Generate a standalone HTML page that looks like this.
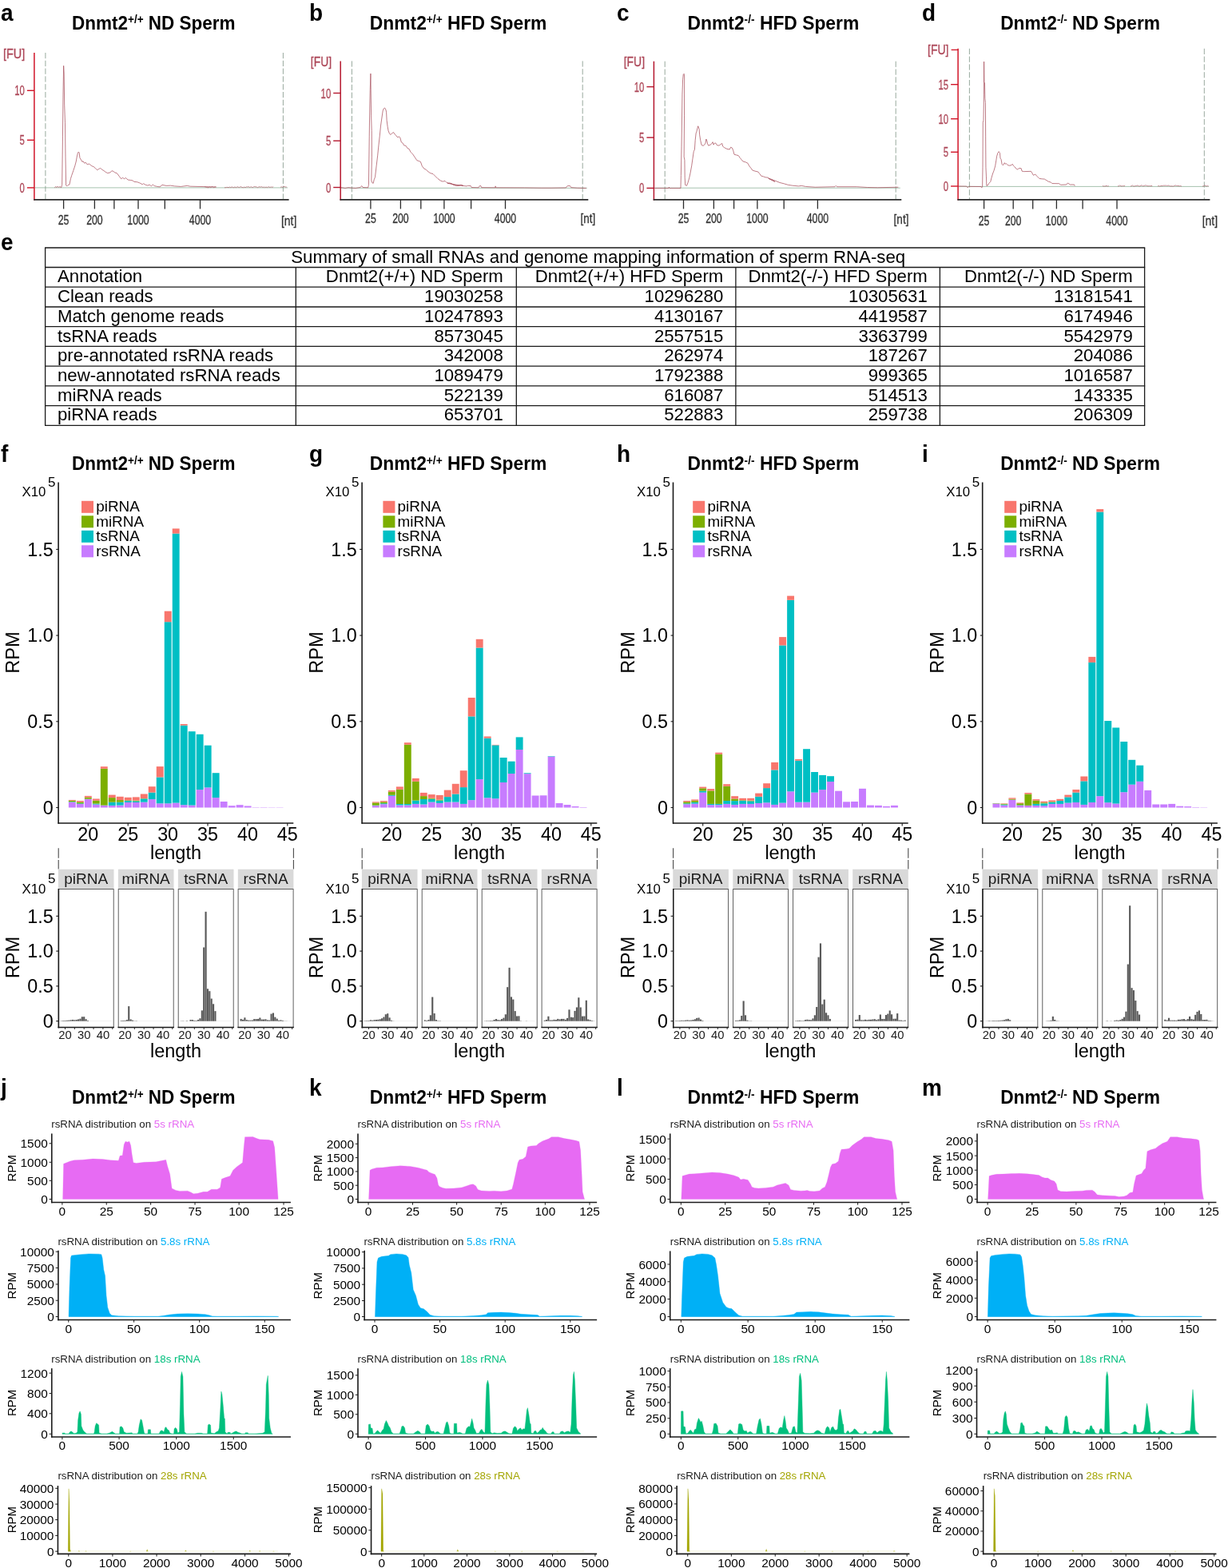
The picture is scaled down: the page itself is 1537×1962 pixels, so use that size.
<!DOCTYPE html>
<html lang="en"><head><meta charset="utf-8"><title>Sperm small RNA figure</title>
<style>
html,body{margin:0;padding:0;background:#fff;}
body{width:1537px;height:1962px;overflow:hidden;}
svg{display:block;font-family:"Liberation Sans", sans-serif;}
</style></head><body>
<svg width="1537" height="1962" viewBox="0 0 1537 1962">
<g>
<text transform="matrix(1 0 0 1.08 0 -2.08)" x="1" y="26" font-size="28" font-weight="bold">a</text>
<text transform="matrix(1 0 0 1.07 0 -2.56)" x="192.3" y="36.6" font-size="22.5" font-weight="bold" text-anchor="middle">Dnmt2<tspan font-size="13.5" dy="-7">+/+</tspan><tspan dy="7"> ND Sperm</tspan></text>
<line x1="56.9" y1="66" x2="56.9" y2="249.8" stroke="#7d9384" stroke-width="0.8" stroke-dasharray="7.2 2.6"/>
<line x1="354.4" y1="66" x2="354.4" y2="249.8" stroke="#7d9384" stroke-width="0.8" stroke-dasharray="7.2 2.6"/>
<line x1="42.9" y1="234.9" x2="360.1" y2="234.9" stroke="#7fa88d" stroke-width="0.7"/>
<polyline points="68.31,234.8 69.62,233.62 70.92,234.4 72.22,233.36 73.52,234.4 74.82,233.62 76.77,234.53 77.68,231.28 78.46,170.12 78.99,118.07 79.64,82.29 80.16,92.05 80.68,131.09 81.46,153.21 81.98,196.15 82.63,231.93 83.93,232.84 85.23,231.54 86.92,231.02 88.48,223.47 89.79,219.31 91.74,213.72 93.69,207.86 95.25,202 96.29,196.15 97.33,191.59 98.24,190.03 99.15,190.94 99.93,197.45 101.5,200.05 102.8,202.39 104.1,201.74 105.66,204.22 107.35,203.31 109.3,205.91 111.26,205 113.21,206.3 115.16,207.86 117.11,208.51 119.06,210.2 121.67,212.8 123.62,211.5 125.57,210.46 127.52,212.02 130.12,213.72 132.73,215.67 134.68,216.58 137.93,215.93 139.88,213.72 141.83,214.37 143.79,215.93 146.39,216.71 148.99,220.22 151.59,223.73 153.55,222.43 155.5,223.73 157.45,222.56 160.05,225.04 163.31,225.43 165.91,225.82 167.86,227.38 171.76,227.77 174.37,228.68 178.27,230.76 179.57,229.72 182.17,231.28 184.78,232.06 187.38,231.28 189.33,232.84 191.28,231.02 193.23,232.58 196.49,233.36 200,233.88 202.99,231.36 208.2,232.4 213.4,232.14 218.61,232.92 226.42,233.44 234.22,232.4 238.13,233.18 270.66,233.96" fill="none" stroke="#a8505e" stroke-width="0.75" stroke-linejoin="round"/>
<polyline points="256,233.5 257.3,234 258.6,234.4 259.9,234.7 261.2,234.7 262.5,233.8 263.8,234.7 265.1,233.5 266.4,233.8 267.7,234.7 269,233.8 270.3,234" fill="none" stroke="#b0606c" stroke-width="0.7"/>
<polyline points="281,234.7 282.3,234.7 283.6,234.4 284.9,234.4 286.2,234.7 287.5,234 288.8,234.7 290.1,233.8 291.4,234.4 292.7,234.7 294,233.8 295.3,234.7 296.6,234 297.9,233.8 299.2,234.7 300.5,233.8 301.8,233.8 303.1,234.4 304.4,234.7 305.7,234 307,234.7 308.3,233.8 309.6,234 310.9,233.5 312.2,234.4 313.5,234 314.8,233.8 316.1,234.7 317.4,233.8 318.7,233.5 320,233.8 321.3,234 322.6,234.7 323.9,233.8 325.2,233.8 326.5,234 327.8,233.5 329.1,234.7 330.4,233.8 331.7,234.7 333,233.8 334.3,234.7 335.6,233.8 336.9,234 338.2,234.4 339.5,233.8 340.8,234.4 342.1,233.5" fill="none" stroke="#b0606c" stroke-width="0.7"/>
<polyline points="351,234.4 352.3,233.8 353.6,234.4 354.9,233.5 356.2,233.5 357.5,234 358.8,234" fill="none" stroke="#b0606c" stroke-width="0.7"/>
<line x1="42.9" y1="66" x2="42.9" y2="250.6" stroke="#D11427" stroke-width="1.5"/>
<line x1="42.2" y1="249.8" x2="361.6" y2="249.8" stroke="#2b2b2b" stroke-width="1.7"/>
<line x1="33.9" y1="234.9" x2="42.9" y2="234.9" stroke="#D11427" stroke-width="1.4"/>
<text x="30.9" y="240.9" font-size="16.6" text-anchor="end" fill="#ad4758" textLength="6.3" lengthAdjust="spacingAndGlyphs" stroke="#ad4758" stroke-width="0.3">0</text>
<line x1="33.9" y1="175.3" x2="42.9" y2="175.3" stroke="#D11427" stroke-width="1.4"/>
<text x="30.9" y="181.3" font-size="16.6" text-anchor="end" fill="#ad4758" textLength="6.3" lengthAdjust="spacingAndGlyphs" stroke="#ad4758" stroke-width="0.3">5</text>
<line x1="33.9" y1="113.3" x2="42.9" y2="113.3" stroke="#D11427" stroke-width="1.4"/>
<text x="30.9" y="119.3" font-size="16.6" text-anchor="end" fill="#ad4758" textLength="12.6" lengthAdjust="spacingAndGlyphs" stroke="#ad4758" stroke-width="0.3">10</text>
<text x="3.9" y="73.4" font-size="16.8" fill="#ad4758" textLength="27.3" lengthAdjust="spacingAndGlyphs" stroke="#ad4758" stroke-width="0.3">[FU]</text>
<line x1="79.6" y1="249.8" x2="79.6" y2="261.4" stroke="#2b2b2b" stroke-width="1.3"/>
<text x="79.6" y="281.4" font-size="15.8" text-anchor="middle" fill="#333" textLength="13.7" lengthAdjust="spacingAndGlyphs" stroke="#333" stroke-width="0.3">25</text>
<line x1="118.4" y1="249.8" x2="118.4" y2="261.4" stroke="#2b2b2b" stroke-width="1.3"/>
<text x="118.4" y="281.4" font-size="15.8" text-anchor="middle" fill="#333" textLength="20.55" lengthAdjust="spacingAndGlyphs" stroke="#333" stroke-width="0.3">200</text>
<line x1="142.9" y1="249.8" x2="142.9" y2="261.4" stroke="#2b2b2b" stroke-width="1.3"/>
<line x1="173" y1="249.8" x2="173" y2="261.4" stroke="#2b2b2b" stroke-width="1.3"/>
<text x="173" y="281.4" font-size="15.8" text-anchor="middle" fill="#333" textLength="27.4" lengthAdjust="spacingAndGlyphs" stroke="#333" stroke-width="0.3">1000</text>
<line x1="206.3" y1="249.8" x2="206.3" y2="261.4" stroke="#2b2b2b" stroke-width="1.3"/>
<line x1="250.5" y1="249.8" x2="250.5" y2="261.4" stroke="#2b2b2b" stroke-width="1.3"/>
<text x="250.5" y="281.4" font-size="15.8" text-anchor="middle" fill="#333" textLength="27.4" lengthAdjust="spacingAndGlyphs" stroke="#333" stroke-width="0.3">4000</text>
<text x="352" y="281.7" font-size="15.8" fill="#333" textLength="19.3" lengthAdjust="spacingAndGlyphs" stroke="#333" stroke-width="0.3">[nt]</text>
</g>
<g>
<text transform="matrix(1 0 0 1.08 0 -2.08)" x="387" y="26" font-size="28" font-weight="bold">b</text>
<text transform="matrix(1 0 0 1.07 0 -2.56)" x="573.6" y="36.6" font-size="22.85" font-weight="bold" text-anchor="middle">Dnmt2<tspan font-size="13.71" dy="-7">+/+</tspan><tspan dy="7"> HFD Sperm</tspan></text>
<line x1="440.4" y1="76.4" x2="440.4" y2="249.8" stroke="#7d9384" stroke-width="0.8" stroke-dasharray="7.2 2.6"/>
<line x1="729.2" y1="76.4" x2="729.2" y2="249.8" stroke="#7d9384" stroke-width="0.8" stroke-dasharray="7.2 2.6"/>
<line x1="426.2" y1="235.3" x2="734.8" y2="235.3" stroke="#7fa88d" stroke-width="0.7"/>
<polyline points="426.84,234.53 432.05,235.45 435.95,234.66 441.16,235.19 445.06,235.45 450.92,234.53 452.87,232.58 454.17,234.53 460.68,234.8 461.46,231.28 462.24,170.12 462.76,134.99 463.28,112.87 463.93,92.05 464.19,112.87 464.58,144.1 465.23,163.62 465.36,196.15 464.84,226.08 465.88,228.68 467.18,229.33 468.22,224.78 469.53,221.52 471.09,207.86 472.65,194.85 473.95,181.83 475.25,170.12 476.55,157.11 477.85,148 479.15,138.89 480.2,136.03 481.5,134.99 482.8,136.94 483.58,140.2 484.1,150.61 485.14,158.41 486.05,163.62 487.35,166.87 488.65,168.56 490.61,166.87 492.56,165.57 494.25,168.17 495.81,169.47 497.76,172.08 499.06,170.77 500.75,172.08 502.32,177.93 504.27,179.23 505.57,181.83 508.17,182.49 510.12,185.74 512.08,186.39 514.03,190.29 516.63,192.9 519.23,196.8 521.83,200.7 524.44,201.61 526.39,202.39 528.34,207.86 530.94,211.11 533.55,212.41 536.15,215.02 538.75,216.71 542,217.62 545.26,220.87 547.86,223.47 551.76,226.34 554.37,227.12 556.97,226.34 558.92,228.42 561.52,229.33 564.12,229.72 567.38,231.28 569.98,231.93 573.88,232.32 577.14,231.54 580,232.58 560,229.33 562.6,228.94 565.2,229.72 567.81,231.28 571.71,232.32 576.92,231.54 580.82,232.58 584.07,232.97 585.37,232.32 589.28,232.58 590.19,234.53 599.04,234.8 600.34,232.58 601.9,232.58 602.68,234.66 619.86,234.8 620.12,232.84 620.64,234.8 656.29,234.93 677.11,235.19 690.12,235.19 708.34,234.93 710.29,232.58 713.55,232.58 714.85,234.66 722.65,235.19 733.72,235.45" fill="none" stroke="#a8505e" stroke-width="0.75" stroke-linejoin="round"/>
<line x1="426.2" y1="76.4" x2="426.2" y2="250.6" stroke="#B5172E" stroke-width="1.5"/>
<line x1="425.5" y1="249.8" x2="736.3" y2="249.8" stroke="#2b2b2b" stroke-width="1.7"/>
<line x1="417.2" y1="234.5" x2="426.2" y2="234.5" stroke="#B5172E" stroke-width="1.4"/>
<text x="414.2" y="240.5" font-size="16.6" text-anchor="end" fill="#ad4758" textLength="6.3" lengthAdjust="spacingAndGlyphs" stroke="#ad4758" stroke-width="0.3">0</text>
<line x1="417.2" y1="176.2" x2="426.2" y2="176.2" stroke="#B5172E" stroke-width="1.4"/>
<text x="414.2" y="182.2" font-size="16.6" text-anchor="end" fill="#ad4758" textLength="6.3" lengthAdjust="spacingAndGlyphs" stroke="#ad4758" stroke-width="0.3">5</text>
<line x1="417.2" y1="116.5" x2="426.2" y2="116.5" stroke="#B5172E" stroke-width="1.4"/>
<text x="414.2" y="122.5" font-size="16.6" text-anchor="end" fill="#ad4758" textLength="12.6" lengthAdjust="spacingAndGlyphs" stroke="#ad4758" stroke-width="0.3">10</text>
<text x="388.8" y="83" font-size="16.8" fill="#ad4758" textLength="26.3" lengthAdjust="spacingAndGlyphs" stroke="#ad4758" stroke-width="0.3">[FU]</text>
<line x1="463.9" y1="249.8" x2="463.9" y2="261.4" stroke="#2b2b2b" stroke-width="1.3"/>
<text x="463.9" y="278.8" font-size="15.8" text-anchor="middle" fill="#333" textLength="13.7" lengthAdjust="spacingAndGlyphs" stroke="#333" stroke-width="0.3">25</text>
<line x1="501.4" y1="249.8" x2="501.4" y2="261.4" stroke="#2b2b2b" stroke-width="1.3"/>
<text x="501.4" y="278.8" font-size="15.8" text-anchor="middle" fill="#333" textLength="20.55" lengthAdjust="spacingAndGlyphs" stroke="#333" stroke-width="0.3">200</text>
<line x1="526.8" y1="249.8" x2="526.8" y2="261.4" stroke="#2b2b2b" stroke-width="1.3"/>
<line x1="555.9" y1="249.8" x2="555.9" y2="261.4" stroke="#2b2b2b" stroke-width="1.3"/>
<text x="555.9" y="278.8" font-size="15.8" text-anchor="middle" fill="#333" textLength="27.4" lengthAdjust="spacingAndGlyphs" stroke="#333" stroke-width="0.3">1000</text>
<line x1="589.6" y1="249.8" x2="589.6" y2="261.4" stroke="#2b2b2b" stroke-width="1.3"/>
<line x1="632.5" y1="249.8" x2="632.5" y2="261.4" stroke="#2b2b2b" stroke-width="1.3"/>
<text x="632.5" y="278.8" font-size="15.8" text-anchor="middle" fill="#333" textLength="27.4" lengthAdjust="spacingAndGlyphs" stroke="#333" stroke-width="0.3">4000</text>
<text x="726.6" y="279.1" font-size="15.8" fill="#333" textLength="18.6" lengthAdjust="spacingAndGlyphs" stroke="#333" stroke-width="0.3">[nt]</text>
</g>
<g>
<text transform="matrix(1 0 0 1.08 0 -2.08)" x="772" y="26" font-size="28" font-weight="bold">c</text>
<text transform="matrix(1 0 0 1.07 0 -2.56)" x="967.9" y="36.6" font-size="22.85" font-weight="bold" text-anchor="middle">Dnmt2<tspan font-size="13.71" dy="-7">-/-</tspan><tspan dy="7"> HFD Sperm</tspan></text>
<line x1="832.2" y1="76.7" x2="832.2" y2="249.8" stroke="#7d9384" stroke-width="0.8" stroke-dasharray="7.2 2.6"/>
<line x1="1121.2" y1="76.7" x2="1121.2" y2="249.8" stroke="#7d9384" stroke-width="0.8" stroke-dasharray="7.2 2.6"/>
<line x1="818.4" y1="235.2" x2="1126.8" y2="235.2" stroke="#7fa88d" stroke-width="0.7"/>
<polyline points="819.45,235.45 837.01,235.45 837.4,234.14 837.92,235.45 851.98,235.45 852.37,219.57 853.02,183.14 853.93,118.07 854.58,99.86 855.23,93.35 856.14,92.31 856.66,95.95 856.53,144.1 856.14,196.15 856.92,200.31 857.18,222.17 857.7,231.54 859.53,232.32 861.09,228.42 862.65,222.82 863.95,216.97 865.64,207.86 866.94,198.75 868.24,189.64 869.41,187.04 870.2,175.33 871.11,166.87 871.89,164.92 872.8,161.01 873.71,157.76 875.14,161.67 875.66,168.82 876.7,175.33 878,181.18 879.95,182.49 881.65,181.18 882.95,179.23 883.86,174.03 884.77,175.98 885.55,179.88 886.72,182.23 889.06,181.18 891.01,179.49 892.06,177.67 893.1,181.18 894.27,179.23 895.7,178.97 897.52,181.83 900.12,182.09 902.08,180.53 903.77,179.49 904.68,183.14 906.63,184.7 909.88,186.39 913.14,187.04 914.7,184.18 916.39,185.09 917.69,188.34 918.99,193.29 921.59,193.94 924.2,194.59 926.15,197.45 928.1,199.79 930.05,202 933.31,202.91 935.91,204.22 937.86,207.86 939.81,210.2 941.76,213.06 945.02,214.11 948.92,215.02 950.87,217.62 952.82,220.22 955.43,220.87 958.03,221.91 961.28,222.17 963.23,223.73 965.84,225.04 970,227.38 961.69,223.29 965.6,224.33 968.2,225.37 972.1,226.94 976.01,228.5 981.21,229.8 986.42,231.36 991.62,232.14 999.43,232.92 1003.33,232.4 1008.54,233.44 1020.25,234.22 1044.97,233.7 1046.27,232.4 1047.57,233.7 1072.3,233.7 1085.31,234.48 1098.32,234.74 1124.35,234.22" fill="none" stroke="#a8505e" stroke-width="0.75" stroke-linejoin="round"/>
<line x1="818.4" y1="76.7" x2="818.4" y2="250.6" stroke="#B5172E" stroke-width="1.5"/>
<line x1="817.7" y1="249.8" x2="1128.3" y2="249.8" stroke="#2b2b2b" stroke-width="1.7"/>
<line x1="809.4" y1="235.4" x2="818.4" y2="235.4" stroke="#B5172E" stroke-width="1.4"/>
<text x="806.4" y="241.4" font-size="16.6" text-anchor="end" fill="#ad4758" textLength="6.3" lengthAdjust="spacingAndGlyphs" stroke="#ad4758" stroke-width="0.3">0</text>
<line x1="809.4" y1="172.1" x2="818.4" y2="172.1" stroke="#B5172E" stroke-width="1.4"/>
<text x="806.4" y="178.1" font-size="16.6" text-anchor="end" fill="#ad4758" textLength="6.3" lengthAdjust="spacingAndGlyphs" stroke="#ad4758" stroke-width="0.3">5</text>
<line x1="809.4" y1="108.6" x2="818.4" y2="108.6" stroke="#B5172E" stroke-width="1.4"/>
<text x="806.4" y="114.6" font-size="16.6" text-anchor="end" fill="#ad4758" textLength="12.6" lengthAdjust="spacingAndGlyphs" stroke="#ad4758" stroke-width="0.3">10</text>
<text x="780.7" y="83" font-size="16.8" fill="#ad4758" textLength="26.4" lengthAdjust="spacingAndGlyphs" stroke="#ad4758" stroke-width="0.3">[FU]</text>
<line x1="855.5" y1="249.8" x2="855.5" y2="261.4" stroke="#2b2b2b" stroke-width="1.3"/>
<text x="855.5" y="279.2" font-size="15.8" text-anchor="middle" fill="#333" textLength="13.7" lengthAdjust="spacingAndGlyphs" stroke="#333" stroke-width="0.3">25</text>
<line x1="893.4" y1="249.8" x2="893.4" y2="261.4" stroke="#2b2b2b" stroke-width="1.3"/>
<text x="893.4" y="279.2" font-size="15.8" text-anchor="middle" fill="#333" textLength="20.55" lengthAdjust="spacingAndGlyphs" stroke="#333" stroke-width="0.3">200</text>
<line x1="918.6" y1="249.8" x2="918.6" y2="261.4" stroke="#2b2b2b" stroke-width="1.3"/>
<line x1="947.9" y1="249.8" x2="947.9" y2="261.4" stroke="#2b2b2b" stroke-width="1.3"/>
<text x="947.9" y="279.2" font-size="15.8" text-anchor="middle" fill="#333" textLength="27.4" lengthAdjust="spacingAndGlyphs" stroke="#333" stroke-width="0.3">1000</text>
<line x1="981.2" y1="249.8" x2="981.2" y2="261.4" stroke="#2b2b2b" stroke-width="1.3"/>
<line x1="1023.4" y1="249.8" x2="1023.4" y2="261.4" stroke="#2b2b2b" stroke-width="1.3"/>
<text x="1023.4" y="279.2" font-size="15.8" text-anchor="middle" fill="#333" textLength="27.4" lengthAdjust="spacingAndGlyphs" stroke="#333" stroke-width="0.3">4000</text>
<text x="1118.6" y="279.5" font-size="15.8" fill="#333" textLength="18.8" lengthAdjust="spacingAndGlyphs" stroke="#333" stroke-width="0.3">[nt]</text>
</g>
<g>
<text transform="matrix(1 0 0 1.08 0 -2.08)" x="1154" y="26" font-size="28" font-weight="bold">d</text>
<text transform="matrix(1 0 0 1.07 0 -2.56)" x="1352.1" y="36.6" font-size="22.75" font-weight="bold" text-anchor="middle">Dnmt2<tspan font-size="13.65" dy="-7">-/-</tspan><tspan dy="7"> ND Sperm</tspan></text>
<line x1="1213.4" y1="60.8" x2="1213.4" y2="249.8" stroke="#7d9384" stroke-width="0.8" stroke-dasharray="7.2 2.6"/>
<line x1="1507.3" y1="60.8" x2="1507.3" y2="249.8" stroke="#7d9384" stroke-width="0.8" stroke-dasharray="7.2 2.6"/>
<line x1="1199.1" y1="233.4" x2="1512.9" y2="233.4" stroke="#7fa88d" stroke-width="0.7"/>
<polyline points="1199.45,232.97 1209.86,233.1 1211.16,234.8 1212.46,233.36 1228.07,233.49 1228.85,234.8 1229.64,233.23 1230.03,209.16 1230.29,153.21 1230.94,150.61 1231.46,118.07 1231.59,77.09 1231.85,102.46 1232.5,103.76 1232.89,123.28 1233.41,128.48 1233.67,170.12 1233.93,209.16 1234.45,220.87 1234.84,232.32 1236.14,232.06 1237.83,229.33 1239.79,227.38 1241.09,222.17 1242.65,216.97 1243.95,213.72 1245.64,207.86 1246.94,200.05 1247.59,195.5 1248.89,191.59 1250.2,189.64 1251.5,191.59 1252.02,198.1 1253.06,199.4 1254.1,205.52 1255.4,206.82 1257.35,203.7 1258.26,205.26 1259.3,204.61 1261.26,206.56 1263.21,207.21 1265.81,206.82 1267.11,205.26 1268.41,207.21 1269.71,208.51 1272.32,211.5 1273.62,212.02 1275.57,210.46 1278.17,210.72 1279.08,214.11 1281.42,214.63 1290.53,214.37 1292.09,216.97 1293.4,219.31 1295.74,218.01 1297.69,220.22 1300.94,223.47 1304.2,223.86 1307.45,224.12 1310.05,225.82 1312.65,227.38 1315.26,228.03 1316.82,229.59 1325.67,229.72 1327.62,231.28 1334.78,231.02 1336.34,229.07 1338.03,229.98 1339.33,231.02 1344.53,231.02 1345.19,232.58" fill="none" stroke="#a8505e" stroke-width="0.75" stroke-linejoin="round"/>
<polyline points="1380,232.3 1381.3,233.2 1382.6,232.9 1383.9,232.9 1385.2,232.3 1386.5,233.2 1387.8,232.5" fill="none" stroke="#b0606c" stroke-width="0.7"/>
<polyline points="1399,232.9 1400.3,232.9 1401.6,232 1402.9,232.5 1404.2,233.2 1405.5,232.3 1406.8,232.9 1408.1,232" fill="none" stroke="#b0606c" stroke-width="0.7"/>
<polyline points="1415,233.2 1416.3,232.5 1417.6,232 1418.9,233.2 1420.2,232.9 1421.5,232.5 1422.8,232.3 1424.1,232 1425.4,232.9 1426.7,232.9 1428,232 1429.3,232 1430.6,232.9 1431.9,232.5 1433.2,232 1434.5,232 1435.8,232.5 1437.1,232.9 1438.4,232.5 1439.7,232.9 1441,232.3 1442.3,232.9" fill="none" stroke="#b0606c" stroke-width="0.7"/>
<polyline points="1449,233.2 1450.3,232.3 1451.6,233.2 1452.9,232.5 1454.2,232.5 1455.5,232.5 1456.8,232 1458.1,232.3 1459.4,232 1460.7,232.5 1462,232 1463.3,232.3 1464.6,232.9 1465.9,232.9 1467.2,232.9 1468.5,233.2 1469.8,232.3 1471.1,232 1472.4,232.3 1473.7,232.5 1475,232.5 1476.3,232.9 1477.6,232.5 1478.9,233.2" fill="none" stroke="#b0606c" stroke-width="0.7"/>
<polyline points="1505,233.2 1506.3,232.9 1507.6,232 1508.9,232.3 1510.2,233.2 1511.5,232.3 1512.8,233.2" fill="none" stroke="#b0606c" stroke-width="0.7"/>
<line x1="1199.1" y1="60.8" x2="1199.1" y2="250.6" stroke="#D11427" stroke-width="1.5"/>
<line x1="1198.4" y1="249.8" x2="1514.4" y2="249.8" stroke="#2b2b2b" stroke-width="1.7"/>
<line x1="1190.6" y1="62.4" x2="1199.1" y2="62.4" stroke="#D11427" stroke-width="1.3"/>
<line x1="1190.1" y1="233" x2="1199.1" y2="233" stroke="#D11427" stroke-width="1.4"/>
<text x="1187.1" y="239" font-size="16.6" text-anchor="end" fill="#ad4758" textLength="6.3" lengthAdjust="spacingAndGlyphs" stroke="#ad4758" stroke-width="0.3">0</text>
<line x1="1190.1" y1="190.3" x2="1199.1" y2="190.3" stroke="#D11427" stroke-width="1.4"/>
<text x="1187.1" y="196.3" font-size="16.6" text-anchor="end" fill="#ad4758" textLength="6.3" lengthAdjust="spacingAndGlyphs" stroke="#ad4758" stroke-width="0.3">5</text>
<line x1="1190.1" y1="148.7" x2="1199.1" y2="148.7" stroke="#D11427" stroke-width="1.4"/>
<text x="1187.1" y="154.7" font-size="16.6" text-anchor="end" fill="#ad4758" textLength="12.6" lengthAdjust="spacingAndGlyphs" stroke="#ad4758" stroke-width="0.3">10</text>
<line x1="1190.1" y1="105.7" x2="1199.1" y2="105.7" stroke="#D11427" stroke-width="1.4"/>
<text x="1187.1" y="111.7" font-size="16.6" text-anchor="end" fill="#ad4758" textLength="12.6" lengthAdjust="spacingAndGlyphs" stroke="#ad4758" stroke-width="0.3">15</text>
<text x="1161" y="67.6" font-size="16.8" fill="#ad4758" textLength="26.5" lengthAdjust="spacingAndGlyphs" stroke="#ad4758" stroke-width="0.3">[FU]</text>
<line x1="1231.6" y1="249.8" x2="1231.6" y2="261.4" stroke="#2b2b2b" stroke-width="1.3"/>
<text x="1231.6" y="282" font-size="15.8" text-anchor="middle" fill="#333" textLength="13.7" lengthAdjust="spacingAndGlyphs" stroke="#333" stroke-width="0.3">25</text>
<line x1="1268.2" y1="249.8" x2="1268.2" y2="261.4" stroke="#2b2b2b" stroke-width="1.3"/>
<text x="1268.2" y="282" font-size="15.8" text-anchor="middle" fill="#333" textLength="20.55" lengthAdjust="spacingAndGlyphs" stroke="#333" stroke-width="0.3">200</text>
<line x1="1292.7" y1="249.8" x2="1292.7" y2="261.4" stroke="#2b2b2b" stroke-width="1.3"/>
<line x1="1322.4" y1="249.8" x2="1322.4" y2="261.4" stroke="#2b2b2b" stroke-width="1.3"/>
<text x="1322.4" y="282" font-size="15.8" text-anchor="middle" fill="#333" textLength="27.4" lengthAdjust="spacingAndGlyphs" stroke="#333" stroke-width="0.3">1000</text>
<line x1="1355.1" y1="249.8" x2="1355.1" y2="261.4" stroke="#2b2b2b" stroke-width="1.3"/>
<line x1="1398" y1="249.8" x2="1398" y2="261.4" stroke="#2b2b2b" stroke-width="1.3"/>
<text x="1398" y="282" font-size="15.8" text-anchor="middle" fill="#333" textLength="27.4" lengthAdjust="spacingAndGlyphs" stroke="#333" stroke-width="0.3">4000</text>
<text x="1504.7" y="282.3" font-size="15.8" fill="#333" textLength="19.3" lengthAdjust="spacingAndGlyphs" stroke="#333" stroke-width="0.3">[nt]</text>
</g>
<g>
<text transform="matrix(1 0 0 1.08 0 -25.04)" x="1" y="313" font-size="28" font-weight="bold">e</text>
<line x1="56" y1="310" x2="1433.2" y2="310" stroke="#1a1a1a" stroke-width="1.3"/>
<line x1="56" y1="334.5" x2="1433.2" y2="334.5" stroke="#1a1a1a" stroke-width="1.3"/>
<line x1="56" y1="359.2" x2="1433.2" y2="359.2" stroke="#1a1a1a" stroke-width="1.3"/>
<line x1="56" y1="384" x2="1433.2" y2="384" stroke="#1a1a1a" stroke-width="1.3"/>
<line x1="56" y1="408.7" x2="1433.2" y2="408.7" stroke="#1a1a1a" stroke-width="1.3"/>
<line x1="56" y1="433.4" x2="1433.2" y2="433.4" stroke="#1a1a1a" stroke-width="1.3"/>
<line x1="56" y1="458.1" x2="1433.2" y2="458.1" stroke="#1a1a1a" stroke-width="1.3"/>
<line x1="56" y1="482.9" x2="1433.2" y2="482.9" stroke="#1a1a1a" stroke-width="1.3"/>
<line x1="56" y1="507.6" x2="1433.2" y2="507.6" stroke="#1a1a1a" stroke-width="1.3"/>
<line x1="56" y1="532.3" x2="1433.2" y2="532.3" stroke="#1a1a1a" stroke-width="1.3"/>
<line x1="56.6" y1="310" x2="56.6" y2="532.3" stroke="#1a1a1a" stroke-width="1.3"/>
<line x1="370.3" y1="334.5" x2="370.3" y2="532.3" stroke="#1a1a1a" stroke-width="1.3"/>
<line x1="646.3" y1="334.5" x2="646.3" y2="532.3" stroke="#1a1a1a" stroke-width="1.3"/>
<line x1="920.9" y1="334.5" x2="920.9" y2="532.3" stroke="#1a1a1a" stroke-width="1.3"/>
<line x1="1176.4" y1="334.5" x2="1176.4" y2="532.3" stroke="#1a1a1a" stroke-width="1.3"/>
<line x1="1432.6" y1="310" x2="1432.6" y2="532.3" stroke="#1a1a1a" stroke-width="1.3"/>
<text x="364.2" y="328.9" font-size="22.2" textLength="769" lengthAdjust="spacingAndGlyphs">Summary of small RNAs and genome mapping information of sperm RNA-seq</text>
<text x="72" y="353.3" font-size="22.2">Annotation</text>
<text x="629.8" y="353.3" font-size="22.2" text-anchor="end">Dnmt2(+/+) ND Sperm</text>
<text x="905.3" y="353.3" font-size="22.2" text-anchor="end">Dnmt2(+/+) HFD Sperm</text>
<text x="1160.8" y="353.3" font-size="22.2" text-anchor="end">Dnmt2(-/-) HFD Sperm</text>
<text x="1417.8" y="353.3" font-size="22.2" text-anchor="end">Dnmt2(-/-) ND Sperm</text>
<text x="72" y="378" font-size="22.2">Clean reads</text>
<text x="629.8" y="378" font-size="22.2" text-anchor="end">19030258</text>
<text x="905.3" y="378" font-size="22.2" text-anchor="end">10296280</text>
<text x="1160.8" y="378" font-size="22.2" text-anchor="end">10305631</text>
<text x="1417.8" y="378" font-size="22.2" text-anchor="end">13181541</text>
<text x="72" y="402.8" font-size="22.2">Match genome reads</text>
<text x="629.8" y="402.8" font-size="22.2" text-anchor="end">10247893</text>
<text x="905.3" y="402.8" font-size="22.2" text-anchor="end">4130167</text>
<text x="1160.8" y="402.8" font-size="22.2" text-anchor="end">4419587</text>
<text x="1417.8" y="402.8" font-size="22.2" text-anchor="end">6174946</text>
<text x="72" y="427.5" font-size="22.2">tsRNA reads</text>
<text x="629.8" y="427.5" font-size="22.2" text-anchor="end">8573045</text>
<text x="905.3" y="427.5" font-size="22.2" text-anchor="end">2557515</text>
<text x="1160.8" y="427.5" font-size="22.2" text-anchor="end">3363799</text>
<text x="1417.8" y="427.5" font-size="22.2" text-anchor="end">5542979</text>
<text x="72" y="452.2" font-size="22.2">pre-annotated rsRNA reads</text>
<text x="629.8" y="452.2" font-size="22.2" text-anchor="end">342008</text>
<text x="905.3" y="452.2" font-size="22.2" text-anchor="end">262974</text>
<text x="1160.8" y="452.2" font-size="22.2" text-anchor="end">187267</text>
<text x="1417.8" y="452.2" font-size="22.2" text-anchor="end">204086</text>
<text x="72" y="476.9" font-size="22.2">new-annotated rsRNA reads</text>
<text x="629.8" y="476.9" font-size="22.2" text-anchor="end">1089479</text>
<text x="905.3" y="476.9" font-size="22.2" text-anchor="end">1792388</text>
<text x="1160.8" y="476.9" font-size="22.2" text-anchor="end">999365</text>
<text x="1417.8" y="476.9" font-size="22.2" text-anchor="end">1016587</text>
<text x="72" y="501.7" font-size="22.2">miRNA reads</text>
<text x="629.8" y="501.7" font-size="22.2" text-anchor="end">522139</text>
<text x="905.3" y="501.7" font-size="22.2" text-anchor="end">616087</text>
<text x="1160.8" y="501.7" font-size="22.2" text-anchor="end">514513</text>
<text x="1417.8" y="501.7" font-size="22.2" text-anchor="end">143335</text>
<text x="72" y="526.4" font-size="22.2">piRNA reads</text>
<text x="629.8" y="526.4" font-size="22.2" text-anchor="end">653701</text>
<text x="905.3" y="526.4" font-size="22.2" text-anchor="end">522883</text>
<text x="1160.8" y="526.4" font-size="22.2" text-anchor="end">259738</text>
<text x="1417.8" y="526.4" font-size="22.2" text-anchor="end">206309</text>
</g>
<g>
<text transform="matrix(1 0 0 1.08 0 -46.21)" x="1" y="577.6" font-size="28" font-weight="bold">f</text>
<text transform="matrix(1 0 0 1.07 0 -41.16)" x="192.3" y="588" font-size="22.5" font-weight="bold" text-anchor="middle">Dnmt2<tspan font-size="13.5" dy="-7">+/+</tspan><tspan dy="7"> ND Sperm</tspan></text>
<line x1="73.1" y1="603.4" x2="73.1" y2="1030.8" stroke="#1a1a1a" stroke-width="1.6"/>
<line x1="72.6" y1="1030" x2="367.3" y2="1030" stroke="#1a1a1a" stroke-width="1.7"/>
<line x1="70.2" y1="1010.5" x2="73.4" y2="1010.5" stroke="#1a1a1a" stroke-width="1.1"/>
<text x="66.6" y="1018.7" font-size="23.3" text-anchor="end">0</text>
<line x1="70.2" y1="902.8" x2="73.4" y2="902.8" stroke="#1a1a1a" stroke-width="1.1"/>
<text x="66.6" y="911" font-size="23.3" text-anchor="end">0.5</text>
<line x1="70.2" y1="795.1" x2="73.4" y2="795.1" stroke="#1a1a1a" stroke-width="1.1"/>
<text x="66.6" y="803.3" font-size="23.3" text-anchor="end">1.0</text>
<line x1="70.2" y1="687.4" x2="73.4" y2="687.4" stroke="#1a1a1a" stroke-width="1.1"/>
<text x="66.6" y="695.6" font-size="23.3" text-anchor="end">1.5</text>
<line x1="110.3" y1="1030" x2="110.3" y2="1033.4" stroke="#1a1a1a" stroke-width="1.1"/>
<text x="110.3" y="1051.6" font-size="23.3" text-anchor="middle">20</text>
<line x1="160.2" y1="1030" x2="160.2" y2="1033.4" stroke="#1a1a1a" stroke-width="1.1"/>
<text x="160.2" y="1051.6" font-size="23.3" text-anchor="middle">25</text>
<line x1="210.1" y1="1030" x2="210.1" y2="1033.4" stroke="#1a1a1a" stroke-width="1.1"/>
<text x="210.1" y="1051.6" font-size="23.3" text-anchor="middle">30</text>
<line x1="260" y1="1030" x2="260" y2="1033.4" stroke="#1a1a1a" stroke-width="1.1"/>
<text x="260" y="1051.6" font-size="23.3" text-anchor="middle">35</text>
<line x1="309.9" y1="1030" x2="309.9" y2="1033.4" stroke="#1a1a1a" stroke-width="1.1"/>
<text x="309.9" y="1051.6" font-size="23.3" text-anchor="middle">40</text>
<line x1="359.8" y1="1030" x2="359.8" y2="1033.4" stroke="#1a1a1a" stroke-width="1.1"/>
<text x="359.8" y="1051.6" font-size="23.3" text-anchor="middle">45</text>
<text x="220" y="1074.6" font-size="23.5" text-anchor="middle">length</text>
<text x="24.3" y="816.5" font-size="23.6" text-anchor="middle" transform="rotate(-90 24.3 816.5)">RPM</text>
<text x="27.6" y="620.8" font-size="16.8">X10</text>
<text x="60.1" y="608.9" font-size="17">5</text>
<rect x="102" y="626.8" width="15" height="15" fill="#F8766D"/>
<text x="120.2" y="640" font-size="18.9">piRNA</text>
<rect x="102" y="645.3" width="15" height="15" fill="#7CAE00"/>
<text x="120.2" y="658.5" font-size="18.9">miRNA</text>
<rect x="102" y="663.8" width="15" height="15" fill="#00BFC4"/>
<text x="120.2" y="677" font-size="18.9">tsRNA</text>
<rect x="102" y="682.3" width="15" height="15" fill="#C77CFF"/>
<text x="120.2" y="695.5" font-size="18.9">rsRNA</text>
<rect x="85.87" y="1003.7" width="8.9" height="6.8" fill="#C77CFF"/>
<rect x="85.87" y="1003.2" width="8.9" height="0.5" fill="#00BFC4"/>
<rect x="85.87" y="1001.7" width="8.9" height="1.5" fill="#7CAE00"/>
<rect x="85.87" y="1000.9" width="8.9" height="0.8" fill="#F8766D"/>
<rect x="95.86" y="1006" width="8.9" height="4.5" fill="#C77CFF"/>
<rect x="95.86" y="1005.3" width="8.9" height="0.7" fill="#00BFC4"/>
<rect x="95.86" y="1003.5" width="8.9" height="1.8" fill="#7CAE00"/>
<rect x="95.86" y="1002" width="8.9" height="1.5" fill="#F8766D"/>
<rect x="105.85" y="999.7" width="8.9" height="10.8" fill="#C77CFF"/>
<rect x="105.85" y="997.7" width="8.9" height="2" fill="#7CAE00"/>
<rect x="105.85" y="995.9" width="8.9" height="1.8" fill="#F8766D"/>
<rect x="115.84" y="1006.6" width="8.9" height="3.9" fill="#C77CFF"/>
<rect x="115.84" y="1005.6" width="8.9" height="1" fill="#00BFC4"/>
<rect x="115.84" y="1001.7" width="8.9" height="3.9" fill="#7CAE00"/>
<rect x="115.84" y="999.5" width="8.9" height="2.2" fill="#F8766D"/>
<rect x="125.83" y="1007.9" width="8.9" height="2.6" fill="#C77CFF"/>
<rect x="125.83" y="1007.6" width="8.9" height="0.3" fill="#00BFC4"/>
<rect x="125.83" y="961.8" width="8.9" height="45.8" fill="#7CAE00"/>
<rect x="125.83" y="959.2" width="8.9" height="2.6" fill="#F8766D"/>
<rect x="135.82" y="1007.9" width="8.9" height="2.6" fill="#C77CFF"/>
<rect x="135.82" y="1003.7" width="8.9" height="4.2" fill="#00BFC4"/>
<rect x="135.82" y="998.1" width="8.9" height="5.6" fill="#7CAE00"/>
<rect x="135.82" y="994.6" width="8.9" height="3.5" fill="#F8766D"/>
<rect x="145.81" y="1007.6" width="8.9" height="2.9" fill="#C77CFF"/>
<rect x="145.81" y="1003.7" width="8.9" height="3.9" fill="#00BFC4"/>
<rect x="145.81" y="1001.1" width="8.9" height="2.6" fill="#7CAE00"/>
<rect x="145.81" y="996.8" width="8.9" height="4.3" fill="#F8766D"/>
<rect x="155.8" y="1004" width="8.9" height="6.5" fill="#C77CFF"/>
<rect x="155.8" y="1002" width="8.9" height="2" fill="#00BFC4"/>
<rect x="155.8" y="1001.4" width="8.9" height="0.6" fill="#7CAE00"/>
<rect x="155.8" y="997.8" width="8.9" height="3.6" fill="#F8766D"/>
<rect x="165.79" y="1004" width="8.9" height="6.5" fill="#C77CFF"/>
<rect x="165.79" y="1002.4" width="8.9" height="1.6" fill="#00BFC4"/>
<rect x="165.79" y="1001.6" width="8.9" height="0.8" fill="#7CAE00"/>
<rect x="165.79" y="997.4" width="8.9" height="4.2" fill="#F8766D"/>
<rect x="175.78" y="1003.7" width="8.9" height="6.8" fill="#C77CFF"/>
<rect x="175.78" y="999.4" width="8.9" height="4.3" fill="#00BFC4"/>
<rect x="175.78" y="999.1" width="8.9" height="0.3" fill="#7CAE00"/>
<rect x="175.78" y="993.5" width="8.9" height="5.6" fill="#F8766D"/>
<rect x="185.77" y="1000.1" width="8.9" height="10.4" fill="#C77CFF"/>
<rect x="185.77" y="991.6" width="8.9" height="8.5" fill="#00BFC4"/>
<rect x="185.77" y="984.2" width="8.9" height="7.4" fill="#F8766D"/>
<rect x="195.76" y="1005.3" width="8.9" height="5.2" fill="#C77CFF"/>
<rect x="195.76" y="972.5" width="8.9" height="32.8" fill="#00BFC4"/>
<rect x="195.76" y="959.1" width="8.9" height="13.4" fill="#F8766D"/>
<rect x="205.75" y="1005.3" width="8.9" height="5.2" fill="#C77CFF"/>
<rect x="205.75" y="778.2" width="8.9" height="227.1" fill="#00BFC4"/>
<rect x="205.75" y="764.7" width="8.9" height="13.5" fill="#F8766D"/>
<rect x="215.74" y="1004.6" width="8.9" height="5.9" fill="#C77CFF"/>
<rect x="215.74" y="667.6" width="8.9" height="337" fill="#00BFC4"/>
<rect x="215.74" y="661.4" width="8.9" height="6.2" fill="#F8766D"/>
<rect x="225.73" y="1007.2" width="8.9" height="3.3" fill="#C77CFF"/>
<rect x="225.73" y="907.7" width="8.9" height="99.5" fill="#00BFC4"/>
<rect x="225.73" y="906" width="8.9" height="1.7" fill="#F8766D"/>
<rect x="235.72" y="1007.6" width="8.9" height="2.9" fill="#C77CFF"/>
<rect x="235.72" y="915.2" width="8.9" height="92.4" fill="#00BFC4"/>
<rect x="245.71" y="988.1" width="8.9" height="22.4" fill="#C77CFF"/>
<rect x="245.71" y="918.8" width="8.9" height="69.3" fill="#00BFC4"/>
<rect x="255.7" y="985.4" width="8.9" height="25.1" fill="#C77CFF"/>
<rect x="255.7" y="932.7" width="8.9" height="52.7" fill="#00BFC4"/>
<rect x="265.69" y="998.1" width="8.9" height="12.4" fill="#C77CFF"/>
<rect x="265.69" y="967.2" width="8.9" height="30.9" fill="#00BFC4"/>
<rect x="275.68" y="1003" width="8.9" height="7.5" fill="#C77CFF"/>
<rect x="285.67" y="1008.2" width="8.9" height="2.3" fill="#C77CFF"/>
<rect x="295.66" y="1007.2" width="8.9" height="3.3" fill="#C77CFF"/>
<rect x="305.65" y="1008.5" width="8.9" height="2" fill="#C77CFF"/>
<rect x="315.64" y="1010.1" width="8.9" height="0.4" fill="#C77CFF"/>
<rect x="325.63" y="1010.1" width="8.9" height="0.4" fill="#C77CFF"/>
<rect x="335.62" y="1010.2" width="8.9" height="0.3" fill="#C77CFF"/>
<rect x="345.61" y="1010.2" width="8.9" height="0.3" fill="#C77CFF"/>
<line x1="73.2" y1="1061.3" x2="73.2" y2="1087.6" stroke="#4a4a4a" stroke-width="1.1" stroke-dasharray="12.4 2.2"/>
<line x1="367.4" y1="1061.3" x2="367.4" y2="1087.6" stroke="#4a4a4a" stroke-width="1.1" stroke-dasharray="12.4 2.2"/>
<rect x="72.9" y="1087.7" width="69.6" height="25" fill="#D9D9D9"/>
<text x="107.7" y="1106.3" font-size="19" text-anchor="middle" fill="#1a1a1a">piRNA</text>
<rect x="73.2" y="1112.6" width="69" height="173" fill="none" stroke="#4d4d4d" stroke-width="0.9"/>
<line x1="72.5" y1="1285.4" x2="142.9" y2="1285.4" stroke="#1a1a1a" stroke-width="1.5"/>
<line x1="81.5" y1="1285.4" x2="81.5" y2="1288" stroke="#1a1a1a" stroke-width="0.9"/>
<text x="81.5" y="1300" font-size="14.8" text-anchor="middle" fill="#1a1a1a">20</text>
<line x1="93.35" y1="1285.4" x2="93.35" y2="1288" stroke="#1a1a1a" stroke-width="0.9"/>
<line x1="105.2" y1="1285.4" x2="105.2" y2="1288" stroke="#1a1a1a" stroke-width="0.9"/>
<text x="105.2" y="1300" font-size="14.8" text-anchor="middle" fill="#1a1a1a">30</text>
<line x1="117.05" y1="1285.4" x2="117.05" y2="1288" stroke="#1a1a1a" stroke-width="0.9"/>
<line x1="128.9" y1="1285.4" x2="128.9" y2="1288" stroke="#1a1a1a" stroke-width="0.9"/>
<text x="128.9" y="1300" font-size="14.8" text-anchor="middle" fill="#1a1a1a">40</text>
<line x1="140.75" y1="1285.4" x2="140.75" y2="1288" stroke="#1a1a1a" stroke-width="0.9"/>
<line x1="75.9" y1="1277.6" x2="139.5" y2="1277.6" stroke="#e3e3e3" stroke-width="0.5"/>
<rect x="75.69" y="1277.38" width="2.14" height="0.32" fill="#595959"/>
<rect x="78.06" y="1277.09" width="2.14" height="0.61" fill="#595959"/>
<rect x="80.43" y="1276.97" width="2.14" height="0.73" fill="#595959"/>
<rect x="82.8" y="1276.81" width="2.14" height="0.89" fill="#595959"/>
<rect x="85.17" y="1276.64" width="2.14" height="1.06" fill="#595959"/>
<rect x="87.54" y="1276.28" width="2.14" height="1.42" fill="#595959"/>
<rect x="89.91" y="1275.95" width="2.14" height="1.75" fill="#595959"/>
<rect x="92.28" y="1276.24" width="2.14" height="1.46" fill="#595959"/>
<rect x="94.65" y="1275.99" width="2.14" height="1.71" fill="#595959"/>
<rect x="97.02" y="1275.43" width="2.14" height="2.27" fill="#595959"/>
<rect x="99.39" y="1274.69" width="2.14" height="3.01" fill="#595959"/>
<rect x="101.76" y="1272.26" width="2.14" height="5.44" fill="#595959"/>
<rect x="104.13" y="1272.22" width="2.14" height="5.48" fill="#595959"/>
<rect x="106.5" y="1275.18" width="2.14" height="2.52" fill="#595959"/>
<rect x="108.87" y="1277.01" width="2.14" height="0.69" fill="#595959"/>
<rect x="147.9" y="1087.7" width="69.6" height="25" fill="#D9D9D9"/>
<text x="182.7" y="1106.3" font-size="19" text-anchor="middle" fill="#1a1a1a">miRNA</text>
<rect x="148.2" y="1112.6" width="69" height="173" fill="none" stroke="#4d4d4d" stroke-width="0.9"/>
<line x1="147.5" y1="1285.4" x2="217.9" y2="1285.4" stroke="#1a1a1a" stroke-width="1.5"/>
<line x1="156.5" y1="1285.4" x2="156.5" y2="1288" stroke="#1a1a1a" stroke-width="0.9"/>
<text x="156.5" y="1300" font-size="14.8" text-anchor="middle" fill="#1a1a1a">20</text>
<line x1="168.35" y1="1285.4" x2="168.35" y2="1288" stroke="#1a1a1a" stroke-width="0.9"/>
<line x1="180.2" y1="1285.4" x2="180.2" y2="1288" stroke="#1a1a1a" stroke-width="0.9"/>
<text x="180.2" y="1300" font-size="14.8" text-anchor="middle" fill="#1a1a1a">30</text>
<line x1="192.05" y1="1285.4" x2="192.05" y2="1288" stroke="#1a1a1a" stroke-width="0.9"/>
<line x1="203.9" y1="1285.4" x2="203.9" y2="1288" stroke="#1a1a1a" stroke-width="0.9"/>
<text x="203.9" y="1300" font-size="14.8" text-anchor="middle" fill="#1a1a1a">40</text>
<line x1="215.75" y1="1285.4" x2="215.75" y2="1288" stroke="#1a1a1a" stroke-width="0.9"/>
<line x1="150.9" y1="1277.6" x2="214.5" y2="1277.6" stroke="#e3e3e3" stroke-width="0.5"/>
<rect x="150.69" y="1277.09" width="2.14" height="0.61" fill="#595959"/>
<rect x="153.06" y="1276.97" width="2.14" height="0.73" fill="#595959"/>
<rect x="155.43" y="1276.89" width="2.14" height="0.81" fill="#595959"/>
<rect x="157.8" y="1276.12" width="2.14" height="1.58" fill="#595959"/>
<rect x="160.17" y="1259.1" width="2.14" height="18.6" fill="#595959"/>
<rect x="162.54" y="1275.43" width="2.14" height="2.27" fill="#595959"/>
<rect x="164.91" y="1276.64" width="2.14" height="1.06" fill="#595959"/>
<rect x="167.28" y="1277.46" width="2.14" height="0.24" fill="#595959"/>
<rect x="169.65" y="1277.38" width="2.14" height="0.32" fill="#595959"/>
<rect x="222.9" y="1087.7" width="69.6" height="25" fill="#D9D9D9"/>
<text x="257.7" y="1106.3" font-size="19" text-anchor="middle" fill="#1a1a1a">tsRNA</text>
<rect x="223.2" y="1112.6" width="69" height="173" fill="none" stroke="#4d4d4d" stroke-width="0.9"/>
<line x1="222.5" y1="1285.4" x2="292.9" y2="1285.4" stroke="#1a1a1a" stroke-width="1.5"/>
<line x1="231.5" y1="1285.4" x2="231.5" y2="1288" stroke="#1a1a1a" stroke-width="0.9"/>
<text x="231.5" y="1300" font-size="14.8" text-anchor="middle" fill="#1a1a1a">20</text>
<line x1="243.35" y1="1285.4" x2="243.35" y2="1288" stroke="#1a1a1a" stroke-width="0.9"/>
<line x1="255.2" y1="1285.4" x2="255.2" y2="1288" stroke="#1a1a1a" stroke-width="0.9"/>
<text x="255.2" y="1300" font-size="14.8" text-anchor="middle" fill="#1a1a1a">30</text>
<line x1="267.05" y1="1285.4" x2="267.05" y2="1288" stroke="#1a1a1a" stroke-width="0.9"/>
<line x1="278.9" y1="1285.4" x2="278.9" y2="1288" stroke="#1a1a1a" stroke-width="0.9"/>
<text x="278.9" y="1300" font-size="14.8" text-anchor="middle" fill="#1a1a1a">40</text>
<line x1="290.75" y1="1285.4" x2="290.75" y2="1288" stroke="#1a1a1a" stroke-width="0.9"/>
<line x1="225.9" y1="1277.6" x2="289.5" y2="1277.6" stroke="#e3e3e3" stroke-width="0.5"/>
<rect x="225.69" y="1277.5" width="2.14" height="0.2" fill="#595959"/>
<rect x="228.06" y="1277.42" width="2.14" height="0.28" fill="#595959"/>
<rect x="232.8" y="1277.29" width="2.14" height="0.41" fill="#595959"/>
<rect x="237.54" y="1275.99" width="2.14" height="1.71" fill="#595959"/>
<rect x="239.91" y="1276.12" width="2.14" height="1.58" fill="#595959"/>
<rect x="242.28" y="1276.89" width="2.14" height="0.81" fill="#595959"/>
<rect x="244.65" y="1277.05" width="2.14" height="0.65" fill="#595959"/>
<rect x="247.02" y="1275.95" width="2.14" height="1.75" fill="#595959"/>
<rect x="249.39" y="1274.25" width="2.14" height="3.45" fill="#595959"/>
<rect x="251.76" y="1264.38" width="2.14" height="13.32" fill="#595959"/>
<rect x="254.13" y="1185.45" width="2.14" height="92.25" fill="#595959"/>
<rect x="256.5" y="1140.8" width="2.14" height="136.9" fill="#595959"/>
<rect x="258.87" y="1237.28" width="2.14" height="40.42" fill="#595959"/>
<rect x="261.24" y="1240.17" width="2.14" height="37.53" fill="#595959"/>
<rect x="263.61" y="1249.55" width="2.14" height="28.15" fill="#595959"/>
<rect x="265.98" y="1256.29" width="2.14" height="21.41" fill="#595959"/>
<rect x="268.35" y="1265.15" width="2.14" height="12.55" fill="#595959"/>
<rect x="297.8" y="1087.7" width="69.6" height="25" fill="#D9D9D9"/>
<text x="332.6" y="1106.3" font-size="19" text-anchor="middle" fill="#1a1a1a">rsRNA</text>
<rect x="298.1" y="1112.6" width="69" height="173" fill="none" stroke="#4d4d4d" stroke-width="0.9"/>
<line x1="297.4" y1="1285.4" x2="367.8" y2="1285.4" stroke="#1a1a1a" stroke-width="1.5"/>
<line x1="306.4" y1="1285.4" x2="306.4" y2="1288" stroke="#1a1a1a" stroke-width="0.9"/>
<text x="306.4" y="1300" font-size="14.8" text-anchor="middle" fill="#1a1a1a">20</text>
<line x1="318.25" y1="1285.4" x2="318.25" y2="1288" stroke="#1a1a1a" stroke-width="0.9"/>
<line x1="330.1" y1="1285.4" x2="330.1" y2="1288" stroke="#1a1a1a" stroke-width="0.9"/>
<text x="330.1" y="1300" font-size="14.8" text-anchor="middle" fill="#1a1a1a">30</text>
<line x1="341.95" y1="1285.4" x2="341.95" y2="1288" stroke="#1a1a1a" stroke-width="0.9"/>
<line x1="353.8" y1="1285.4" x2="353.8" y2="1288" stroke="#1a1a1a" stroke-width="0.9"/>
<text x="353.8" y="1300" font-size="14.8" text-anchor="middle" fill="#1a1a1a">40</text>
<line x1="365.65" y1="1285.4" x2="365.65" y2="1288" stroke="#1a1a1a" stroke-width="0.9"/>
<line x1="300.8" y1="1277.6" x2="364.4" y2="1277.6" stroke="#e3e3e3" stroke-width="0.5"/>
<rect x="300.59" y="1274.94" width="2.14" height="2.76" fill="#595959"/>
<rect x="302.96" y="1275.87" width="2.14" height="1.83" fill="#595959"/>
<rect x="305.33" y="1273.31" width="2.14" height="4.39" fill="#595959"/>
<rect x="307.7" y="1276.12" width="2.14" height="1.58" fill="#595959"/>
<rect x="310.07" y="1276.64" width="2.14" height="1.06" fill="#595959"/>
<rect x="312.44" y="1276.64" width="2.14" height="1.06" fill="#595959"/>
<rect x="314.81" y="1276.52" width="2.14" height="1.18" fill="#595959"/>
<rect x="317.18" y="1275.06" width="2.14" height="2.64" fill="#595959"/>
<rect x="319.55" y="1275.06" width="2.14" height="2.64" fill="#595959"/>
<rect x="321.92" y="1274.94" width="2.14" height="2.76" fill="#595959"/>
<rect x="324.29" y="1273.48" width="2.14" height="4.22" fill="#595959"/>
<rect x="326.66" y="1275.59" width="2.14" height="2.11" fill="#595959"/>
<rect x="329.03" y="1275.59" width="2.14" height="2.11" fill="#595959"/>
<rect x="331.4" y="1275.3" width="2.14" height="2.4" fill="#595959"/>
<rect x="333.77" y="1276.36" width="2.14" height="1.34" fill="#595959"/>
<rect x="336.14" y="1276.52" width="2.14" height="1.18" fill="#595959"/>
<rect x="338.51" y="1268.6" width="2.14" height="9.1" fill="#595959"/>
<rect x="340.88" y="1267.5" width="2.14" height="10.2" fill="#595959"/>
<rect x="343.25" y="1272.66" width="2.14" height="5.04" fill="#595959"/>
<rect x="345.62" y="1274.65" width="2.14" height="3.05" fill="#595959"/>
<rect x="347.99" y="1276.77" width="2.14" height="0.93" fill="#595959"/>
<rect x="350.36" y="1276.36" width="2.14" height="1.34" fill="#595959"/>
<rect x="352.73" y="1276.89" width="2.14" height="0.81" fill="#595959"/>
<rect x="355.1" y="1277.54" width="2.14" height="0.16" fill="#595959"/>
<rect x="357.47" y="1277.54" width="2.14" height="0.16" fill="#595959"/>
<line x1="73.4" y1="1112" x2="73.4" y2="1286.4" stroke="#1a1a1a" stroke-width="1.5"/>
<line x1="70.2" y1="1277.7" x2="73.4" y2="1277.7" stroke="#1a1a1a" stroke-width="1.1"/>
<text x="66.6" y="1285.9" font-size="23.3" text-anchor="end">0</text>
<line x1="70.2" y1="1233.9" x2="73.4" y2="1233.9" stroke="#1a1a1a" stroke-width="1.1"/>
<text x="66.6" y="1242.1" font-size="23.3" text-anchor="end">0.5</text>
<line x1="70.2" y1="1190.1" x2="73.4" y2="1190.1" stroke="#1a1a1a" stroke-width="1.1"/>
<text x="66.6" y="1198.3" font-size="23.3" text-anchor="end">1.0</text>
<line x1="70.2" y1="1146.3" x2="73.4" y2="1146.3" stroke="#1a1a1a" stroke-width="1.1"/>
<text x="66.6" y="1154.5" font-size="23.3" text-anchor="end">1.5</text>
<text x="220" y="1322.8" font-size="23.5" text-anchor="middle">length</text>
<text x="24.3" y="1198" font-size="23.6" text-anchor="middle" transform="rotate(-90 24.3 1198)">RPM</text>
<text x="27.6" y="1117.8" font-size="16.8">X10</text>
<text x="60.1" y="1105.4" font-size="17">5</text>
</g>
<g>
<text transform="matrix(1 0 0 1.08 0 -46.21)" x="387" y="577.6" font-size="28" font-weight="bold">g</text>
<text transform="matrix(1 0 0 1.07 0 -41.16)" x="573.6" y="588" font-size="22.85" font-weight="bold" text-anchor="middle">Dnmt2<tspan font-size="13.71" dy="-7">+/+</tspan><tspan dy="7"> HFD Sperm</tspan></text>
<line x1="453.1" y1="603.4" x2="453.1" y2="1030.8" stroke="#1a1a1a" stroke-width="1.6"/>
<line x1="452.6" y1="1030" x2="747.3" y2="1030" stroke="#1a1a1a" stroke-width="1.7"/>
<line x1="450.2" y1="1010.5" x2="453.4" y2="1010.5" stroke="#1a1a1a" stroke-width="1.1"/>
<text x="446.6" y="1018.7" font-size="23.3" text-anchor="end">0</text>
<line x1="450.2" y1="902.8" x2="453.4" y2="902.8" stroke="#1a1a1a" stroke-width="1.1"/>
<text x="446.6" y="911" font-size="23.3" text-anchor="end">0.5</text>
<line x1="450.2" y1="795.1" x2="453.4" y2="795.1" stroke="#1a1a1a" stroke-width="1.1"/>
<text x="446.6" y="803.3" font-size="23.3" text-anchor="end">1.0</text>
<line x1="450.2" y1="687.4" x2="453.4" y2="687.4" stroke="#1a1a1a" stroke-width="1.1"/>
<text x="446.6" y="695.6" font-size="23.3" text-anchor="end">1.5</text>
<line x1="490.3" y1="1030" x2="490.3" y2="1033.4" stroke="#1a1a1a" stroke-width="1.1"/>
<text x="490.3" y="1051.6" font-size="23.3" text-anchor="middle">20</text>
<line x1="540.2" y1="1030" x2="540.2" y2="1033.4" stroke="#1a1a1a" stroke-width="1.1"/>
<text x="540.2" y="1051.6" font-size="23.3" text-anchor="middle">25</text>
<line x1="590.1" y1="1030" x2="590.1" y2="1033.4" stroke="#1a1a1a" stroke-width="1.1"/>
<text x="590.1" y="1051.6" font-size="23.3" text-anchor="middle">30</text>
<line x1="640" y1="1030" x2="640" y2="1033.4" stroke="#1a1a1a" stroke-width="1.1"/>
<text x="640" y="1051.6" font-size="23.3" text-anchor="middle">35</text>
<line x1="689.9" y1="1030" x2="689.9" y2="1033.4" stroke="#1a1a1a" stroke-width="1.1"/>
<text x="689.9" y="1051.6" font-size="23.3" text-anchor="middle">40</text>
<line x1="739.8" y1="1030" x2="739.8" y2="1033.4" stroke="#1a1a1a" stroke-width="1.1"/>
<text x="739.8" y="1051.6" font-size="23.3" text-anchor="middle">45</text>
<text x="600" y="1074.6" font-size="23.5" text-anchor="middle">length</text>
<text x="404.3" y="816.5" font-size="23.6" text-anchor="middle" transform="rotate(-90 404.3 816.5)">RPM</text>
<text x="407.6" y="620.8" font-size="16.8">X10</text>
<text x="440.1" y="608.9" font-size="17">5</text>
<rect x="479.4" y="626.8" width="15" height="15" fill="#F8766D"/>
<text x="497.6" y="640" font-size="18.9">piRNA</text>
<rect x="479.4" y="645.3" width="15" height="15" fill="#7CAE00"/>
<text x="497.6" y="658.5" font-size="18.9">miRNA</text>
<rect x="479.4" y="663.8" width="15" height="15" fill="#00BFC4"/>
<text x="497.6" y="677" font-size="18.9">tsRNA</text>
<rect x="479.4" y="682.3" width="15" height="15" fill="#C77CFF"/>
<text x="497.6" y="695.5" font-size="18.9">rsRNA</text>
<rect x="465.87" y="1008.1" width="8.9" height="2.4" fill="#C77CFF"/>
<rect x="465.87" y="1007.6" width="8.9" height="0.5" fill="#00BFC4"/>
<rect x="465.87" y="1004.4" width="8.9" height="3.2" fill="#7CAE00"/>
<rect x="465.87" y="1003.4" width="8.9" height="1" fill="#F8766D"/>
<rect x="475.86" y="1006.2" width="8.9" height="4.3" fill="#C77CFF"/>
<rect x="475.86" y="1005.2" width="8.9" height="1" fill="#00BFC4"/>
<rect x="475.86" y="1003.4" width="8.9" height="1.8" fill="#7CAE00"/>
<rect x="475.86" y="1002.1" width="8.9" height="1.3" fill="#F8766D"/>
<rect x="485.85" y="995.8" width="8.9" height="14.7" fill="#C77CFF"/>
<rect x="485.85" y="994.8" width="8.9" height="1" fill="#00BFC4"/>
<rect x="485.85" y="990.6" width="8.9" height="4.2" fill="#7CAE00"/>
<rect x="485.85" y="989" width="8.9" height="1.6" fill="#F8766D"/>
<rect x="495.84" y="1007.5" width="8.9" height="3" fill="#C77CFF"/>
<rect x="495.84" y="1006" width="8.9" height="1.5" fill="#00BFC4"/>
<rect x="495.84" y="987.8" width="8.9" height="18.2" fill="#7CAE00"/>
<rect x="495.84" y="984.4" width="8.9" height="3.4" fill="#F8766D"/>
<rect x="505.83" y="1007.5" width="8.9" height="3" fill="#C77CFF"/>
<rect x="505.83" y="1006" width="8.9" height="1.5" fill="#00BFC4"/>
<rect x="505.83" y="931.8" width="8.9" height="74.2" fill="#7CAE00"/>
<rect x="505.83" y="929.2" width="8.9" height="2.6" fill="#F8766D"/>
<rect x="515.82" y="1005.9" width="8.9" height="4.6" fill="#C77CFF"/>
<rect x="515.82" y="1001.6" width="8.9" height="4.3" fill="#00BFC4"/>
<rect x="515.82" y="977.8" width="8.9" height="23.8" fill="#7CAE00"/>
<rect x="515.82" y="973.9" width="8.9" height="3.9" fill="#F8766D"/>
<rect x="525.81" y="1006.5" width="8.9" height="4" fill="#C77CFF"/>
<rect x="525.81" y="1000" width="8.9" height="6.5" fill="#00BFC4"/>
<rect x="525.81" y="996.1" width="8.9" height="3.9" fill="#7CAE00"/>
<rect x="525.81" y="991.9" width="8.9" height="4.2" fill="#F8766D"/>
<rect x="535.8" y="1003.6" width="8.9" height="6.9" fill="#C77CFF"/>
<rect x="535.8" y="999.7" width="8.9" height="3.9" fill="#00BFC4"/>
<rect x="535.8" y="998.7" width="8.9" height="1" fill="#7CAE00"/>
<rect x="535.8" y="994.1" width="8.9" height="4.6" fill="#F8766D"/>
<rect x="545.79" y="1004.9" width="8.9" height="5.6" fill="#C77CFF"/>
<rect x="545.79" y="1001.6" width="8.9" height="3.3" fill="#00BFC4"/>
<rect x="545.79" y="1000.7" width="8.9" height="0.9" fill="#7CAE00"/>
<rect x="545.79" y="994.9" width="8.9" height="5.8" fill="#F8766D"/>
<rect x="555.78" y="1003.6" width="8.9" height="6.9" fill="#C77CFF"/>
<rect x="555.78" y="997.1" width="8.9" height="6.5" fill="#00BFC4"/>
<rect x="555.78" y="988.6" width="8.9" height="8.5" fill="#F8766D"/>
<rect x="565.77" y="1003.6" width="8.9" height="6.9" fill="#C77CFF"/>
<rect x="565.77" y="993.5" width="8.9" height="10.1" fill="#00BFC4"/>
<rect x="565.77" y="980.8" width="8.9" height="12.7" fill="#F8766D"/>
<rect x="575.76" y="1005.9" width="8.9" height="4.6" fill="#C77CFF"/>
<rect x="575.76" y="985.1" width="8.9" height="20.8" fill="#00BFC4"/>
<rect x="575.76" y="964.2" width="8.9" height="20.9" fill="#F8766D"/>
<rect x="585.75" y="1001.1" width="8.9" height="9.4" fill="#C77CFF"/>
<rect x="585.75" y="896.4" width="8.9" height="104.7" fill="#00BFC4"/>
<rect x="585.75" y="873" width="8.9" height="23.4" fill="#F8766D"/>
<rect x="595.74" y="975.1" width="8.9" height="35.4" fill="#C77CFF"/>
<rect x="595.74" y="810.5" width="8.9" height="164.6" fill="#00BFC4"/>
<rect x="595.74" y="799.8" width="8.9" height="10.7" fill="#F8766D"/>
<rect x="605.73" y="998.3" width="8.9" height="12.2" fill="#C77CFF"/>
<rect x="605.73" y="923.7" width="8.9" height="74.6" fill="#00BFC4"/>
<rect x="605.73" y="921.5" width="8.9" height="2.2" fill="#F8766D"/>
<rect x="615.72" y="999.2" width="8.9" height="11.3" fill="#C77CFF"/>
<rect x="615.72" y="932.4" width="8.9" height="66.8" fill="#00BFC4"/>
<rect x="615.72" y="931.9" width="8.9" height="0.5" fill="#F8766D"/>
<rect x="625.71" y="979" width="8.9" height="31.5" fill="#C77CFF"/>
<rect x="625.71" y="948" width="8.9" height="31" fill="#00BFC4"/>
<rect x="635.7" y="968" width="8.9" height="42.5" fill="#C77CFF"/>
<rect x="635.7" y="952.7" width="8.9" height="15.3" fill="#00BFC4"/>
<rect x="645.69" y="938" width="8.9" height="72.5" fill="#C77CFF"/>
<rect x="645.69" y="922.4" width="8.9" height="15.6" fill="#00BFC4"/>
<rect x="655.68" y="968.1" width="8.9" height="42.4" fill="#C77CFF"/>
<rect x="655.68" y="967.3" width="8.9" height="0.8" fill="#00BFC4"/>
<rect x="665.67" y="995.5" width="8.9" height="15" fill="#C77CFF"/>
<rect x="675.66" y="995.3" width="8.9" height="15.2" fill="#C77CFF"/>
<rect x="685.65" y="946.6" width="8.9" height="63.9" fill="#C77CFF"/>
<rect x="685.65" y="946.1" width="8.9" height="0.5" fill="#00BFC4"/>
<rect x="695.64" y="1005" width="8.9" height="5.5" fill="#C77CFF"/>
<rect x="705.63" y="1007" width="8.9" height="3.5" fill="#C77CFF"/>
<rect x="715.62" y="1009" width="8.9" height="1.5" fill="#C77CFF"/>
<rect x="725.61" y="1010" width="8.9" height="0.5" fill="#C77CFF"/>
<line x1="453.2" y1="1061.3" x2="453.2" y2="1087.6" stroke="#4a4a4a" stroke-width="1.1" stroke-dasharray="12.4 2.2"/>
<line x1="747.4" y1="1061.3" x2="747.4" y2="1087.6" stroke="#4a4a4a" stroke-width="1.1" stroke-dasharray="12.4 2.2"/>
<rect x="452.9" y="1087.7" width="69.6" height="25" fill="#D9D9D9"/>
<text x="487.7" y="1106.3" font-size="19" text-anchor="middle" fill="#1a1a1a">piRNA</text>
<rect x="453.2" y="1112.6" width="69" height="173" fill="none" stroke="#4d4d4d" stroke-width="0.9"/>
<line x1="452.5" y1="1285.4" x2="522.9" y2="1285.4" stroke="#1a1a1a" stroke-width="1.5"/>
<line x1="461.5" y1="1285.4" x2="461.5" y2="1288" stroke="#1a1a1a" stroke-width="0.9"/>
<text x="461.5" y="1300" font-size="14.8" text-anchor="middle" fill="#1a1a1a">20</text>
<line x1="473.35" y1="1285.4" x2="473.35" y2="1288" stroke="#1a1a1a" stroke-width="0.9"/>
<line x1="485.2" y1="1285.4" x2="485.2" y2="1288" stroke="#1a1a1a" stroke-width="0.9"/>
<text x="485.2" y="1300" font-size="14.8" text-anchor="middle" fill="#1a1a1a">30</text>
<line x1="497.05" y1="1285.4" x2="497.05" y2="1288" stroke="#1a1a1a" stroke-width="0.9"/>
<line x1="508.9" y1="1285.4" x2="508.9" y2="1288" stroke="#1a1a1a" stroke-width="0.9"/>
<text x="508.9" y="1300" font-size="14.8" text-anchor="middle" fill="#1a1a1a">40</text>
<line x1="520.75" y1="1285.4" x2="520.75" y2="1288" stroke="#1a1a1a" stroke-width="0.9"/>
<line x1="455.9" y1="1277.6" x2="519.5" y2="1277.6" stroke="#e3e3e3" stroke-width="0.5"/>
<rect x="455.69" y="1277.29" width="2.14" height="0.41" fill="#595959"/>
<rect x="458.06" y="1277.17" width="2.14" height="0.53" fill="#595959"/>
<rect x="460.43" y="1277.05" width="2.14" height="0.65" fill="#595959"/>
<rect x="462.8" y="1276.32" width="2.14" height="1.38" fill="#595959"/>
<rect x="465.17" y="1276.64" width="2.14" height="1.06" fill="#595959"/>
<rect x="467.54" y="1276.12" width="2.14" height="1.58" fill="#595959"/>
<rect x="469.91" y="1275.99" width="2.14" height="1.71" fill="#595959"/>
<rect x="472.28" y="1275.83" width="2.14" height="1.87" fill="#595959"/>
<rect x="474.65" y="1275.34" width="2.14" height="2.36" fill="#595959"/>
<rect x="477.02" y="1274.25" width="2.14" height="3.45" fill="#595959"/>
<rect x="479.39" y="1272.54" width="2.14" height="5.16" fill="#595959"/>
<rect x="481.76" y="1269.21" width="2.14" height="8.49" fill="#595959"/>
<rect x="484.13" y="1268.19" width="2.14" height="9.51" fill="#595959"/>
<rect x="486.5" y="1273.35" width="2.14" height="4.35" fill="#595959"/>
<rect x="488.87" y="1276.81" width="2.14" height="0.89" fill="#595959"/>
<rect x="491.24" y="1277.5" width="2.14" height="0.2" fill="#595959"/>
<rect x="527.9" y="1087.7" width="69.6" height="25" fill="#D9D9D9"/>
<text x="562.7" y="1106.3" font-size="19" text-anchor="middle" fill="#1a1a1a">miRNA</text>
<rect x="528.2" y="1112.6" width="69" height="173" fill="none" stroke="#4d4d4d" stroke-width="0.9"/>
<line x1="527.5" y1="1285.4" x2="597.9" y2="1285.4" stroke="#1a1a1a" stroke-width="1.5"/>
<line x1="536.5" y1="1285.4" x2="536.5" y2="1288" stroke="#1a1a1a" stroke-width="0.9"/>
<text x="536.5" y="1300" font-size="14.8" text-anchor="middle" fill="#1a1a1a">20</text>
<line x1="548.35" y1="1285.4" x2="548.35" y2="1288" stroke="#1a1a1a" stroke-width="0.9"/>
<line x1="560.2" y1="1285.4" x2="560.2" y2="1288" stroke="#1a1a1a" stroke-width="0.9"/>
<text x="560.2" y="1300" font-size="14.8" text-anchor="middle" fill="#1a1a1a">30</text>
<line x1="572.05" y1="1285.4" x2="572.05" y2="1288" stroke="#1a1a1a" stroke-width="0.9"/>
<line x1="583.9" y1="1285.4" x2="583.9" y2="1288" stroke="#1a1a1a" stroke-width="0.9"/>
<text x="583.9" y="1300" font-size="14.8" text-anchor="middle" fill="#1a1a1a">40</text>
<line x1="595.75" y1="1285.4" x2="595.75" y2="1288" stroke="#1a1a1a" stroke-width="0.9"/>
<line x1="530.9" y1="1277.6" x2="594.5" y2="1277.6" stroke="#e3e3e3" stroke-width="0.5"/>
<rect x="530.69" y="1276.4" width="2.14" height="1.3" fill="#595959"/>
<rect x="533.06" y="1276.97" width="2.14" height="0.73" fill="#595959"/>
<rect x="535.43" y="1275.99" width="2.14" height="1.71" fill="#595959"/>
<rect x="537.8" y="1270.31" width="2.14" height="7.39" fill="#595959"/>
<rect x="540.17" y="1247.56" width="2.14" height="30.14" fill="#595959"/>
<rect x="542.54" y="1268.03" width="2.14" height="9.67" fill="#595959"/>
<rect x="544.91" y="1276.12" width="2.14" height="1.58" fill="#595959"/>
<rect x="547.28" y="1277.29" width="2.14" height="0.41" fill="#595959"/>
<rect x="549.65" y="1277.33" width="2.14" height="0.37" fill="#595959"/>
<rect x="602.9" y="1087.7" width="69.6" height="25" fill="#D9D9D9"/>
<text x="637.7" y="1106.3" font-size="19" text-anchor="middle" fill="#1a1a1a">tsRNA</text>
<rect x="603.2" y="1112.6" width="69" height="173" fill="none" stroke="#4d4d4d" stroke-width="0.9"/>
<line x1="602.5" y1="1285.4" x2="672.9" y2="1285.4" stroke="#1a1a1a" stroke-width="1.5"/>
<line x1="611.5" y1="1285.4" x2="611.5" y2="1288" stroke="#1a1a1a" stroke-width="0.9"/>
<text x="611.5" y="1300" font-size="14.8" text-anchor="middle" fill="#1a1a1a">20</text>
<line x1="623.35" y1="1285.4" x2="623.35" y2="1288" stroke="#1a1a1a" stroke-width="0.9"/>
<line x1="635.2" y1="1285.4" x2="635.2" y2="1288" stroke="#1a1a1a" stroke-width="0.9"/>
<text x="635.2" y="1300" font-size="14.8" text-anchor="middle" fill="#1a1a1a">30</text>
<line x1="647.05" y1="1285.4" x2="647.05" y2="1288" stroke="#1a1a1a" stroke-width="0.9"/>
<line x1="658.9" y1="1285.4" x2="658.9" y2="1288" stroke="#1a1a1a" stroke-width="0.9"/>
<text x="658.9" y="1300" font-size="14.8" text-anchor="middle" fill="#1a1a1a">40</text>
<line x1="670.75" y1="1285.4" x2="670.75" y2="1288" stroke="#1a1a1a" stroke-width="0.9"/>
<line x1="605.9" y1="1277.6" x2="669.5" y2="1277.6" stroke="#e3e3e3" stroke-width="0.5"/>
<rect x="605.69" y="1277.5" width="2.14" height="0.2" fill="#595959"/>
<rect x="608.06" y="1277.29" width="2.14" height="0.41" fill="#595959"/>
<rect x="610.43" y="1277.29" width="2.14" height="0.41" fill="#595959"/>
<rect x="612.8" y="1277.09" width="2.14" height="0.61" fill="#595959"/>
<rect x="615.17" y="1277.09" width="2.14" height="0.61" fill="#595959"/>
<rect x="617.54" y="1275.95" width="2.14" height="1.75" fill="#595959"/>
<rect x="619.91" y="1275.06" width="2.14" height="2.64" fill="#595959"/>
<rect x="622.28" y="1276.12" width="2.14" height="1.58" fill="#595959"/>
<rect x="624.65" y="1276.36" width="2.14" height="1.34" fill="#595959"/>
<rect x="627.02" y="1275.06" width="2.14" height="2.64" fill="#595959"/>
<rect x="629.39" y="1273.6" width="2.14" height="4.1" fill="#595959"/>
<rect x="631.76" y="1269.25" width="2.14" height="8.45" fill="#595959"/>
<rect x="634.13" y="1235.17" width="2.14" height="42.53" fill="#595959"/>
<rect x="636.5" y="1210.84" width="2.14" height="66.86" fill="#595959"/>
<rect x="638.87" y="1247.4" width="2.14" height="30.3" fill="#595959"/>
<rect x="641.24" y="1250.56" width="2.14" height="27.14" fill="#595959"/>
<rect x="643.61" y="1265.11" width="2.14" height="12.59" fill="#595959"/>
<rect x="645.98" y="1271.48" width="2.14" height="6.22" fill="#595959"/>
<rect x="648.35" y="1271.36" width="2.14" height="6.34" fill="#595959"/>
<rect x="650.72" y="1277.38" width="2.14" height="0.32" fill="#595959"/>
<rect x="657.83" y="1277.5" width="2.14" height="0.2" fill="#595959"/>
<rect x="677.8" y="1087.7" width="69.6" height="25" fill="#D9D9D9"/>
<text x="712.6" y="1106.3" font-size="19" text-anchor="middle" fill="#1a1a1a">rsRNA</text>
<rect x="678.1" y="1112.6" width="69" height="173" fill="none" stroke="#4d4d4d" stroke-width="0.9"/>
<line x1="677.4" y1="1285.4" x2="747.8" y2="1285.4" stroke="#1a1a1a" stroke-width="1.5"/>
<line x1="686.4" y1="1285.4" x2="686.4" y2="1288" stroke="#1a1a1a" stroke-width="0.9"/>
<text x="686.4" y="1300" font-size="14.8" text-anchor="middle" fill="#1a1a1a">20</text>
<line x1="698.25" y1="1285.4" x2="698.25" y2="1288" stroke="#1a1a1a" stroke-width="0.9"/>
<line x1="710.1" y1="1285.4" x2="710.1" y2="1288" stroke="#1a1a1a" stroke-width="0.9"/>
<text x="710.1" y="1300" font-size="14.8" text-anchor="middle" fill="#1a1a1a">30</text>
<line x1="721.95" y1="1285.4" x2="721.95" y2="1288" stroke="#1a1a1a" stroke-width="0.9"/>
<line x1="733.8" y1="1285.4" x2="733.8" y2="1288" stroke="#1a1a1a" stroke-width="0.9"/>
<text x="733.8" y="1300" font-size="14.8" text-anchor="middle" fill="#1a1a1a">40</text>
<line x1="745.65" y1="1285.4" x2="745.65" y2="1288" stroke="#1a1a1a" stroke-width="0.9"/>
<line x1="680.8" y1="1277.6" x2="744.4" y2="1277.6" stroke="#e3e3e3" stroke-width="0.5"/>
<rect x="680.59" y="1276.73" width="2.14" height="0.97" fill="#595959"/>
<rect x="682.96" y="1275.95" width="2.14" height="1.75" fill="#595959"/>
<rect x="685.33" y="1271.73" width="2.14" height="5.97" fill="#595959"/>
<rect x="687.7" y="1276.48" width="2.14" height="1.22" fill="#595959"/>
<rect x="690.07" y="1276.48" width="2.14" height="1.22" fill="#595959"/>
<rect x="692.44" y="1275.83" width="2.14" height="1.87" fill="#595959"/>
<rect x="694.81" y="1276.08" width="2.14" height="1.62" fill="#595959"/>
<rect x="697.18" y="1274.9" width="2.14" height="2.8" fill="#595959"/>
<rect x="699.55" y="1275.43" width="2.14" height="2.27" fill="#595959"/>
<rect x="701.92" y="1274.9" width="2.14" height="2.8" fill="#595959"/>
<rect x="704.29" y="1274.9" width="2.14" height="2.8" fill="#595959"/>
<rect x="706.66" y="1275.83" width="2.14" height="1.87" fill="#595959"/>
<rect x="709.03" y="1273.88" width="2.14" height="3.82" fill="#595959"/>
<rect x="711.4" y="1263.32" width="2.14" height="14.38" fill="#595959"/>
<rect x="713.77" y="1272.74" width="2.14" height="4.96" fill="#595959"/>
<rect x="716.14" y="1273.11" width="2.14" height="4.59" fill="#595959"/>
<rect x="718.51" y="1264.9" width="2.14" height="12.8" fill="#595959"/>
<rect x="720.88" y="1260.44" width="2.14" height="17.26" fill="#595959"/>
<rect x="723.25" y="1248.25" width="2.14" height="29.45" fill="#595959"/>
<rect x="725.62" y="1260.48" width="2.14" height="17.22" fill="#595959"/>
<rect x="727.99" y="1271.61" width="2.14" height="6.09" fill="#595959"/>
<rect x="730.36" y="1271.53" width="2.14" height="6.17" fill="#595959"/>
<rect x="732.73" y="1251.74" width="2.14" height="25.96" fill="#595959"/>
<rect x="735.1" y="1275.47" width="2.14" height="2.23" fill="#595959"/>
<rect x="737.47" y="1276.28" width="2.14" height="1.42" fill="#595959"/>
<rect x="739.84" y="1277.09" width="2.14" height="0.61" fill="#595959"/>
<rect x="742.21" y="1277.5" width="2.14" height="0.2" fill="#595959"/>
<line x1="453.4" y1="1112" x2="453.4" y2="1286.4" stroke="#1a1a1a" stroke-width="1.5"/>
<line x1="450.2" y1="1277.7" x2="453.4" y2="1277.7" stroke="#1a1a1a" stroke-width="1.1"/>
<text x="446.6" y="1285.9" font-size="23.3" text-anchor="end">0</text>
<line x1="450.2" y1="1233.9" x2="453.4" y2="1233.9" stroke="#1a1a1a" stroke-width="1.1"/>
<text x="446.6" y="1242.1" font-size="23.3" text-anchor="end">0.5</text>
<line x1="450.2" y1="1190.1" x2="453.4" y2="1190.1" stroke="#1a1a1a" stroke-width="1.1"/>
<text x="446.6" y="1198.3" font-size="23.3" text-anchor="end">1.0</text>
<line x1="450.2" y1="1146.3" x2="453.4" y2="1146.3" stroke="#1a1a1a" stroke-width="1.1"/>
<text x="446.6" y="1154.5" font-size="23.3" text-anchor="end">1.5</text>
<text x="600" y="1322.8" font-size="23.5" text-anchor="middle">length</text>
<text x="404.3" y="1198" font-size="23.6" text-anchor="middle" transform="rotate(-90 404.3 1198)">RPM</text>
<text x="407.6" y="1117.8" font-size="16.8">X10</text>
<text x="440.1" y="1105.4" font-size="17">5</text>
</g>
<g>
<text transform="matrix(1 0 0 1.08 0 -46.21)" x="772" y="577.6" font-size="28" font-weight="bold">h</text>
<text transform="matrix(1 0 0 1.07 0 -41.16)" x="967.9" y="588" font-size="22.85" font-weight="bold" text-anchor="middle">Dnmt2<tspan font-size="13.71" dy="-7">-/-</tspan><tspan dy="7"> HFD Sperm</tspan></text>
<line x1="842.5" y1="603.4" x2="842.5" y2="1030.8" stroke="#1a1a1a" stroke-width="1.6"/>
<line x1="842" y1="1030" x2="1136.7" y2="1030" stroke="#1a1a1a" stroke-width="1.7"/>
<line x1="839.6" y1="1010.5" x2="842.8" y2="1010.5" stroke="#1a1a1a" stroke-width="1.1"/>
<text x="836" y="1018.7" font-size="23.3" text-anchor="end">0</text>
<line x1="839.6" y1="902.8" x2="842.8" y2="902.8" stroke="#1a1a1a" stroke-width="1.1"/>
<text x="836" y="911" font-size="23.3" text-anchor="end">0.5</text>
<line x1="839.6" y1="795.1" x2="842.8" y2="795.1" stroke="#1a1a1a" stroke-width="1.1"/>
<text x="836" y="803.3" font-size="23.3" text-anchor="end">1.0</text>
<line x1="839.6" y1="687.4" x2="842.8" y2="687.4" stroke="#1a1a1a" stroke-width="1.1"/>
<text x="836" y="695.6" font-size="23.3" text-anchor="end">1.5</text>
<line x1="879.7" y1="1030" x2="879.7" y2="1033.4" stroke="#1a1a1a" stroke-width="1.1"/>
<text x="879.7" y="1051.6" font-size="23.3" text-anchor="middle">20</text>
<line x1="929.6" y1="1030" x2="929.6" y2="1033.4" stroke="#1a1a1a" stroke-width="1.1"/>
<text x="929.6" y="1051.6" font-size="23.3" text-anchor="middle">25</text>
<line x1="979.5" y1="1030" x2="979.5" y2="1033.4" stroke="#1a1a1a" stroke-width="1.1"/>
<text x="979.5" y="1051.6" font-size="23.3" text-anchor="middle">30</text>
<line x1="1029.4" y1="1030" x2="1029.4" y2="1033.4" stroke="#1a1a1a" stroke-width="1.1"/>
<text x="1029.4" y="1051.6" font-size="23.3" text-anchor="middle">35</text>
<line x1="1079.3" y1="1030" x2="1079.3" y2="1033.4" stroke="#1a1a1a" stroke-width="1.1"/>
<text x="1079.3" y="1051.6" font-size="23.3" text-anchor="middle">40</text>
<line x1="1129.2" y1="1030" x2="1129.2" y2="1033.4" stroke="#1a1a1a" stroke-width="1.1"/>
<text x="1129.2" y="1051.6" font-size="23.3" text-anchor="middle">45</text>
<text x="989.4" y="1074.6" font-size="23.5" text-anchor="middle">length</text>
<text x="793.7" y="816.5" font-size="23.6" text-anchor="middle" transform="rotate(-90 793.7 816.5)">RPM</text>
<text x="797" y="620.8" font-size="16.8">X10</text>
<text x="829.5" y="608.9" font-size="17">5</text>
<rect x="867.2" y="626.8" width="15" height="15" fill="#F8766D"/>
<text x="885.4" y="640" font-size="18.9">piRNA</text>
<rect x="867.2" y="645.3" width="15" height="15" fill="#7CAE00"/>
<text x="885.4" y="658.5" font-size="18.9">miRNA</text>
<rect x="867.2" y="663.8" width="15" height="15" fill="#00BFC4"/>
<text x="885.4" y="677" font-size="18.9">tsRNA</text>
<rect x="867.2" y="682.3" width="15" height="15" fill="#C77CFF"/>
<text x="885.4" y="695.5" font-size="18.9">rsRNA</text>
<rect x="855.27" y="1006.3" width="8.9" height="4.2" fill="#C77CFF"/>
<rect x="855.27" y="1005.3" width="8.9" height="1" fill="#00BFC4"/>
<rect x="855.27" y="1003.3" width="8.9" height="2" fill="#7CAE00"/>
<rect x="855.27" y="1002" width="8.9" height="1.3" fill="#F8766D"/>
<rect x="865.26" y="1005.6" width="8.9" height="4.9" fill="#C77CFF"/>
<rect x="865.26" y="1003.8" width="8.9" height="1.8" fill="#00BFC4"/>
<rect x="865.26" y="1001.7" width="8.9" height="2.1" fill="#7CAE00"/>
<rect x="865.26" y="1000.4" width="8.9" height="1.3" fill="#F8766D"/>
<rect x="875.25" y="991.6" width="8.9" height="18.9" fill="#C77CFF"/>
<rect x="875.25" y="989.6" width="8.9" height="2" fill="#00BFC4"/>
<rect x="875.25" y="986.3" width="8.9" height="3.3" fill="#7CAE00"/>
<rect x="875.25" y="984.6" width="8.9" height="1.7" fill="#F8766D"/>
<rect x="885.24" y="1007.2" width="8.9" height="3.3" fill="#C77CFF"/>
<rect x="885.24" y="1005.9" width="8.9" height="1.3" fill="#00BFC4"/>
<rect x="885.24" y="989.4" width="8.9" height="16.5" fill="#7CAE00"/>
<rect x="885.24" y="987.1" width="8.9" height="2.3" fill="#F8766D"/>
<rect x="895.23" y="1007.2" width="8.9" height="3.3" fill="#C77CFF"/>
<rect x="895.23" y="1005.9" width="8.9" height="1.3" fill="#00BFC4"/>
<rect x="895.23" y="943.8" width="8.9" height="62.1" fill="#7CAE00"/>
<rect x="895.23" y="941.7" width="8.9" height="2.1" fill="#F8766D"/>
<rect x="905.22" y="1005.9" width="8.9" height="4.6" fill="#C77CFF"/>
<rect x="905.22" y="1002" width="8.9" height="3.9" fill="#00BFC4"/>
<rect x="905.22" y="983.8" width="8.9" height="18.2" fill="#7CAE00"/>
<rect x="905.22" y="981.2" width="8.9" height="2.6" fill="#F8766D"/>
<rect x="915.21" y="1006.9" width="8.9" height="3.6" fill="#C77CFF"/>
<rect x="915.21" y="1002.1" width="8.9" height="4.8" fill="#00BFC4"/>
<rect x="915.21" y="999.5" width="8.9" height="2.6" fill="#7CAE00"/>
<rect x="915.21" y="996.2" width="8.9" height="3.3" fill="#F8766D"/>
<rect x="925.2" y="1005.9" width="8.9" height="4.6" fill="#C77CFF"/>
<rect x="925.2" y="1002" width="8.9" height="3.9" fill="#00BFC4"/>
<rect x="925.2" y="1001.4" width="8.9" height="0.6" fill="#7CAE00"/>
<rect x="925.2" y="998.8" width="8.9" height="2.6" fill="#F8766D"/>
<rect x="935.19" y="1005.9" width="8.9" height="4.6" fill="#C77CFF"/>
<rect x="935.19" y="1002.4" width="8.9" height="3.5" fill="#00BFC4"/>
<rect x="935.19" y="1001.7" width="8.9" height="0.7" fill="#7CAE00"/>
<rect x="935.19" y="998.8" width="8.9" height="2.9" fill="#F8766D"/>
<rect x="945.18" y="1005" width="8.9" height="5.5" fill="#C77CFF"/>
<rect x="945.18" y="996.8" width="8.9" height="8.2" fill="#00BFC4"/>
<rect x="945.18" y="992.6" width="8.9" height="4.2" fill="#F8766D"/>
<rect x="955.17" y="1004.3" width="8.9" height="6.2" fill="#C77CFF"/>
<rect x="955.17" y="986.1" width="8.9" height="18.2" fill="#00BFC4"/>
<rect x="955.17" y="980.2" width="8.9" height="5.9" fill="#F8766D"/>
<rect x="965.16" y="1006.9" width="8.9" height="3.6" fill="#C77CFF"/>
<rect x="965.16" y="963.4" width="8.9" height="43.5" fill="#00BFC4"/>
<rect x="965.16" y="953.9" width="8.9" height="9.5" fill="#F8766D"/>
<rect x="975.15" y="1004.6" width="8.9" height="5.9" fill="#C77CFF"/>
<rect x="975.15" y="807.5" width="8.9" height="197.1" fill="#00BFC4"/>
<rect x="975.15" y="797.1" width="8.9" height="10.4" fill="#F8766D"/>
<rect x="985.14" y="990.3" width="8.9" height="20.2" fill="#C77CFF"/>
<rect x="985.14" y="750.8" width="8.9" height="239.5" fill="#00BFC4"/>
<rect x="985.14" y="745.6" width="8.9" height="5.2" fill="#F8766D"/>
<rect x="995.13" y="1003.7" width="8.9" height="6.8" fill="#C77CFF"/>
<rect x="995.13" y="951.7" width="8.9" height="52" fill="#00BFC4"/>
<rect x="995.13" y="950" width="8.9" height="1.7" fill="#F8766D"/>
<rect x="1005.12" y="1003.7" width="8.9" height="6.8" fill="#C77CFF"/>
<rect x="1005.12" y="937.2" width="8.9" height="66.5" fill="#00BFC4"/>
<rect x="1015.11" y="991.6" width="8.9" height="18.9" fill="#C77CFF"/>
<rect x="1015.11" y="966" width="8.9" height="25.6" fill="#00BFC4"/>
<rect x="1025.1" y="988.1" width="8.9" height="22.4" fill="#C77CFF"/>
<rect x="1025.1" y="969.9" width="8.9" height="18.2" fill="#00BFC4"/>
<rect x="1035.09" y="978" width="8.9" height="32.5" fill="#C77CFF"/>
<rect x="1035.09" y="971.2" width="8.9" height="6.8" fill="#00BFC4"/>
<rect x="1045.08" y="989.7" width="8.9" height="20.8" fill="#C77CFF"/>
<rect x="1055.07" y="1003.3" width="8.9" height="7.2" fill="#C77CFF"/>
<rect x="1065.06" y="1003" width="8.9" height="7.5" fill="#C77CFF"/>
<rect x="1075.05" y="986.8" width="8.9" height="23.7" fill="#C77CFF"/>
<rect x="1085.04" y="1007.6" width="8.9" height="2.9" fill="#C77CFF"/>
<rect x="1095.03" y="1007.9" width="8.9" height="2.6" fill="#C77CFF"/>
<rect x="1105.02" y="1008.9" width="8.9" height="1.6" fill="#C77CFF"/>
<rect x="1115.01" y="1007.9" width="8.9" height="2.6" fill="#C77CFF"/>
<line x1="842.6" y1="1061.3" x2="842.6" y2="1087.6" stroke="#4a4a4a" stroke-width="1.1" stroke-dasharray="12.4 2.2"/>
<line x1="1136.8" y1="1061.3" x2="1136.8" y2="1087.6" stroke="#4a4a4a" stroke-width="1.1" stroke-dasharray="12.4 2.2"/>
<rect x="842.3" y="1087.7" width="69.6" height="25" fill="#D9D9D9"/>
<text x="877.1" y="1106.3" font-size="19" text-anchor="middle" fill="#1a1a1a">piRNA</text>
<rect x="842.6" y="1112.6" width="69" height="173" fill="none" stroke="#4d4d4d" stroke-width="0.9"/>
<line x1="841.9" y1="1285.4" x2="912.3" y2="1285.4" stroke="#1a1a1a" stroke-width="1.5"/>
<line x1="850.9" y1="1285.4" x2="850.9" y2="1288" stroke="#1a1a1a" stroke-width="0.9"/>
<text x="850.9" y="1300" font-size="14.8" text-anchor="middle" fill="#1a1a1a">20</text>
<line x1="862.75" y1="1285.4" x2="862.75" y2="1288" stroke="#1a1a1a" stroke-width="0.9"/>
<line x1="874.6" y1="1285.4" x2="874.6" y2="1288" stroke="#1a1a1a" stroke-width="0.9"/>
<text x="874.6" y="1300" font-size="14.8" text-anchor="middle" fill="#1a1a1a">30</text>
<line x1="886.45" y1="1285.4" x2="886.45" y2="1288" stroke="#1a1a1a" stroke-width="0.9"/>
<line x1="898.3" y1="1285.4" x2="898.3" y2="1288" stroke="#1a1a1a" stroke-width="0.9"/>
<text x="898.3" y="1300" font-size="14.8" text-anchor="middle" fill="#1a1a1a">40</text>
<line x1="910.15" y1="1285.4" x2="910.15" y2="1288" stroke="#1a1a1a" stroke-width="0.9"/>
<line x1="845.3" y1="1277.6" x2="908.9" y2="1277.6" stroke="#e3e3e3" stroke-width="0.5"/>
<rect x="845.09" y="1277.17" width="2.14" height="0.53" fill="#595959"/>
<rect x="847.46" y="1277.17" width="2.14" height="0.53" fill="#595959"/>
<rect x="849.83" y="1277.01" width="2.14" height="0.69" fill="#595959"/>
<rect x="852.2" y="1276.77" width="2.14" height="0.93" fill="#595959"/>
<rect x="854.57" y="1276.85" width="2.14" height="0.85" fill="#595959"/>
<rect x="856.94" y="1276.64" width="2.14" height="1.06" fill="#595959"/>
<rect x="859.31" y="1276.36" width="2.14" height="1.34" fill="#595959"/>
<rect x="861.68" y="1276.64" width="2.14" height="1.06" fill="#595959"/>
<rect x="864.05" y="1276.52" width="2.14" height="1.18" fill="#595959"/>
<rect x="866.42" y="1275.99" width="2.14" height="1.71" fill="#595959"/>
<rect x="868.79" y="1275.3" width="2.14" height="2.4" fill="#595959"/>
<rect x="871.16" y="1273.84" width="2.14" height="3.86" fill="#595959"/>
<rect x="873.53" y="1273.48" width="2.14" height="4.22" fill="#595959"/>
<rect x="875.9" y="1275.59" width="2.14" height="2.11" fill="#595959"/>
<rect x="878.27" y="1277.01" width="2.14" height="0.69" fill="#595959"/>
<rect x="917.3" y="1087.7" width="69.6" height="25" fill="#D9D9D9"/>
<text x="952.1" y="1106.3" font-size="19" text-anchor="middle" fill="#1a1a1a">miRNA</text>
<rect x="917.6" y="1112.6" width="69" height="173" fill="none" stroke="#4d4d4d" stroke-width="0.9"/>
<line x1="916.9" y1="1285.4" x2="987.3" y2="1285.4" stroke="#1a1a1a" stroke-width="1.5"/>
<line x1="925.9" y1="1285.4" x2="925.9" y2="1288" stroke="#1a1a1a" stroke-width="0.9"/>
<text x="925.9" y="1300" font-size="14.8" text-anchor="middle" fill="#1a1a1a">20</text>
<line x1="937.75" y1="1285.4" x2="937.75" y2="1288" stroke="#1a1a1a" stroke-width="0.9"/>
<line x1="949.6" y1="1285.4" x2="949.6" y2="1288" stroke="#1a1a1a" stroke-width="0.9"/>
<text x="949.6" y="1300" font-size="14.8" text-anchor="middle" fill="#1a1a1a">30</text>
<line x1="961.45" y1="1285.4" x2="961.45" y2="1288" stroke="#1a1a1a" stroke-width="0.9"/>
<line x1="973.3" y1="1285.4" x2="973.3" y2="1288" stroke="#1a1a1a" stroke-width="0.9"/>
<text x="973.3" y="1300" font-size="14.8" text-anchor="middle" fill="#1a1a1a">40</text>
<line x1="985.15" y1="1285.4" x2="985.15" y2="1288" stroke="#1a1a1a" stroke-width="0.9"/>
<line x1="920.3" y1="1277.6" x2="983.9" y2="1277.6" stroke="#e3e3e3" stroke-width="0.5"/>
<rect x="920.09" y="1276.89" width="2.14" height="0.81" fill="#595959"/>
<rect x="922.46" y="1276.85" width="2.14" height="0.85" fill="#595959"/>
<rect x="924.83" y="1276.36" width="2.14" height="1.34" fill="#595959"/>
<rect x="927.2" y="1271" width="2.14" height="6.7" fill="#595959"/>
<rect x="929.57" y="1252.47" width="2.14" height="25.23" fill="#595959"/>
<rect x="931.94" y="1270.31" width="2.14" height="7.39" fill="#595959"/>
<rect x="934.31" y="1276.64" width="2.14" height="1.06" fill="#595959"/>
<rect x="936.68" y="1277.46" width="2.14" height="0.24" fill="#595959"/>
<rect x="939.05" y="1277.42" width="2.14" height="0.28" fill="#595959"/>
<rect x="992.3" y="1087.7" width="69.6" height="25" fill="#D9D9D9"/>
<text x="1027.1" y="1106.3" font-size="19" text-anchor="middle" fill="#1a1a1a">tsRNA</text>
<rect x="992.6" y="1112.6" width="69" height="173" fill="none" stroke="#4d4d4d" stroke-width="0.9"/>
<line x1="991.9" y1="1285.4" x2="1062.3" y2="1285.4" stroke="#1a1a1a" stroke-width="1.5"/>
<line x1="1000.9" y1="1285.4" x2="1000.9" y2="1288" stroke="#1a1a1a" stroke-width="0.9"/>
<text x="1000.9" y="1300" font-size="14.8" text-anchor="middle" fill="#1a1a1a">20</text>
<line x1="1012.75" y1="1285.4" x2="1012.75" y2="1288" stroke="#1a1a1a" stroke-width="0.9"/>
<line x1="1024.6" y1="1285.4" x2="1024.6" y2="1288" stroke="#1a1a1a" stroke-width="0.9"/>
<text x="1024.6" y="1300" font-size="14.8" text-anchor="middle" fill="#1a1a1a">30</text>
<line x1="1036.45" y1="1285.4" x2="1036.45" y2="1288" stroke="#1a1a1a" stroke-width="0.9"/>
<line x1="1048.3" y1="1285.4" x2="1048.3" y2="1288" stroke="#1a1a1a" stroke-width="0.9"/>
<text x="1048.3" y="1300" font-size="14.8" text-anchor="middle" fill="#1a1a1a">40</text>
<line x1="1060.15" y1="1285.4" x2="1060.15" y2="1288" stroke="#1a1a1a" stroke-width="0.9"/>
<line x1="995.3" y1="1277.6" x2="1058.9" y2="1277.6" stroke="#e3e3e3" stroke-width="0.5"/>
<rect x="995.09" y="1277.29" width="2.14" height="0.41" fill="#595959"/>
<rect x="997.46" y="1276.97" width="2.14" height="0.73" fill="#595959"/>
<rect x="999.83" y="1276.89" width="2.14" height="0.81" fill="#595959"/>
<rect x="1002.2" y="1277.17" width="2.14" height="0.53" fill="#595959"/>
<rect x="1004.57" y="1277.17" width="2.14" height="0.53" fill="#595959"/>
<rect x="1006.94" y="1276.12" width="2.14" height="1.58" fill="#595959"/>
<rect x="1009.31" y="1275.75" width="2.14" height="1.95" fill="#595959"/>
<rect x="1011.68" y="1276.12" width="2.14" height="1.58" fill="#595959"/>
<rect x="1014.05" y="1276.28" width="2.14" height="1.42" fill="#595959"/>
<rect x="1016.42" y="1274.37" width="2.14" height="3.33" fill="#595959"/>
<rect x="1018.79" y="1270.31" width="2.14" height="7.39" fill="#595959"/>
<rect x="1021.16" y="1260.03" width="2.14" height="17.67" fill="#595959"/>
<rect x="1023.53" y="1197.63" width="2.14" height="80.07" fill="#595959"/>
<rect x="1025.9" y="1180.41" width="2.14" height="97.29" fill="#595959"/>
<rect x="1028.27" y="1256.58" width="2.14" height="21.12" fill="#595959"/>
<rect x="1030.64" y="1250.69" width="2.14" height="27.01" fill="#595959"/>
<rect x="1033.01" y="1267.3" width="2.14" height="10.4" fill="#595959"/>
<rect x="1035.38" y="1270.31" width="2.14" height="7.39" fill="#595959"/>
<rect x="1037.75" y="1274.94" width="2.14" height="2.76" fill="#595959"/>
<rect x="1067.2" y="1087.7" width="69.6" height="25" fill="#D9D9D9"/>
<text x="1102" y="1106.3" font-size="19" text-anchor="middle" fill="#1a1a1a">rsRNA</text>
<rect x="1067.5" y="1112.6" width="69" height="173" fill="none" stroke="#4d4d4d" stroke-width="0.9"/>
<line x1="1066.8" y1="1285.4" x2="1137.2" y2="1285.4" stroke="#1a1a1a" stroke-width="1.5"/>
<line x1="1075.8" y1="1285.4" x2="1075.8" y2="1288" stroke="#1a1a1a" stroke-width="0.9"/>
<text x="1075.8" y="1300" font-size="14.8" text-anchor="middle" fill="#1a1a1a">20</text>
<line x1="1087.65" y1="1285.4" x2="1087.65" y2="1288" stroke="#1a1a1a" stroke-width="0.9"/>
<line x1="1099.5" y1="1285.4" x2="1099.5" y2="1288" stroke="#1a1a1a" stroke-width="0.9"/>
<text x="1099.5" y="1300" font-size="14.8" text-anchor="middle" fill="#1a1a1a">30</text>
<line x1="1111.35" y1="1285.4" x2="1111.35" y2="1288" stroke="#1a1a1a" stroke-width="0.9"/>
<line x1="1123.2" y1="1285.4" x2="1123.2" y2="1288" stroke="#1a1a1a" stroke-width="0.9"/>
<text x="1123.2" y="1300" font-size="14.8" text-anchor="middle" fill="#1a1a1a">40</text>
<line x1="1135.05" y1="1285.4" x2="1135.05" y2="1288" stroke="#1a1a1a" stroke-width="0.9"/>
<line x1="1070.2" y1="1277.6" x2="1133.8" y2="1277.6" stroke="#e3e3e3" stroke-width="0.5"/>
<rect x="1069.99" y="1275.99" width="2.14" height="1.71" fill="#595959"/>
<rect x="1072.36" y="1275.71" width="2.14" height="1.99" fill="#595959"/>
<rect x="1074.73" y="1270.02" width="2.14" height="7.68" fill="#595959"/>
<rect x="1077.1" y="1276.36" width="2.14" height="1.34" fill="#595959"/>
<rect x="1079.47" y="1276.36" width="2.14" height="1.34" fill="#595959"/>
<rect x="1081.84" y="1275.83" width="2.14" height="1.87" fill="#595959"/>
<rect x="1084.21" y="1276.24" width="2.14" height="1.46" fill="#595959"/>
<rect x="1086.58" y="1275.83" width="2.14" height="1.87" fill="#595959"/>
<rect x="1088.95" y="1275.83" width="2.14" height="1.87" fill="#595959"/>
<rect x="1091.32" y="1275.47" width="2.14" height="2.23" fill="#595959"/>
<rect x="1093.69" y="1275.18" width="2.14" height="2.52" fill="#595959"/>
<rect x="1096.06" y="1276.24" width="2.14" height="1.46" fill="#595959"/>
<rect x="1098.43" y="1275.3" width="2.14" height="2.4" fill="#595959"/>
<rect x="1100.8" y="1269.49" width="2.14" height="8.21" fill="#595959"/>
<rect x="1103.17" y="1274.94" width="2.14" height="2.76" fill="#595959"/>
<rect x="1105.54" y="1274.94" width="2.14" height="2.76" fill="#595959"/>
<rect x="1107.91" y="1270.02" width="2.14" height="7.68" fill="#595959"/>
<rect x="1110.28" y="1268.6" width="2.14" height="9.1" fill="#595959"/>
<rect x="1112.65" y="1264.5" width="2.14" height="13.2" fill="#595959"/>
<rect x="1115.02" y="1269.25" width="2.14" height="8.45" fill="#595959"/>
<rect x="1117.39" y="1274.78" width="2.14" height="2.92" fill="#595959"/>
<rect x="1119.76" y="1274.65" width="2.14" height="3.05" fill="#595959"/>
<rect x="1122.13" y="1268.07" width="2.14" height="9.63" fill="#595959"/>
<rect x="1124.5" y="1276.52" width="2.14" height="1.18" fill="#595959"/>
<rect x="1126.87" y="1276.64" width="2.14" height="1.06" fill="#595959"/>
<rect x="1129.24" y="1277.05" width="2.14" height="0.65" fill="#595959"/>
<rect x="1131.61" y="1276.64" width="2.14" height="1.06" fill="#595959"/>
<line x1="842.8" y1="1112" x2="842.8" y2="1286.4" stroke="#1a1a1a" stroke-width="1.5"/>
<line x1="839.6" y1="1277.7" x2="842.8" y2="1277.7" stroke="#1a1a1a" stroke-width="1.1"/>
<text x="836" y="1285.9" font-size="23.3" text-anchor="end">0</text>
<line x1="839.6" y1="1233.9" x2="842.8" y2="1233.9" stroke="#1a1a1a" stroke-width="1.1"/>
<text x="836" y="1242.1" font-size="23.3" text-anchor="end">0.5</text>
<line x1="839.6" y1="1190.1" x2="842.8" y2="1190.1" stroke="#1a1a1a" stroke-width="1.1"/>
<text x="836" y="1198.3" font-size="23.3" text-anchor="end">1.0</text>
<line x1="839.6" y1="1146.3" x2="842.8" y2="1146.3" stroke="#1a1a1a" stroke-width="1.1"/>
<text x="836" y="1154.5" font-size="23.3" text-anchor="end">1.5</text>
<text x="989.4" y="1322.8" font-size="23.5" text-anchor="middle">length</text>
<text x="793.7" y="1198" font-size="23.6" text-anchor="middle" transform="rotate(-90 793.7 1198)">RPM</text>
<text x="797" y="1117.8" font-size="16.8">X10</text>
<text x="829.5" y="1105.4" font-size="17">5</text>
</g>
<g>
<text transform="matrix(1 0 0 1.08 0 -46.21)" x="1154" y="577.6" font-size="28" font-weight="bold">i</text>
<text transform="matrix(1 0 0 1.07 0 -41.16)" x="1352.1" y="588" font-size="22.75" font-weight="bold" text-anchor="middle">Dnmt2<tspan font-size="13.65" dy="-7">-/-</tspan><tspan dy="7"> ND Sperm</tspan></text>
<line x1="1229.7" y1="603.4" x2="1229.7" y2="1030.8" stroke="#1a1a1a" stroke-width="1.6"/>
<line x1="1229.2" y1="1030" x2="1523.9" y2="1030" stroke="#1a1a1a" stroke-width="1.7"/>
<line x1="1226.8" y1="1010.5" x2="1230" y2="1010.5" stroke="#1a1a1a" stroke-width="1.1"/>
<text x="1223.2" y="1018.7" font-size="23.3" text-anchor="end">0</text>
<line x1="1226.8" y1="902.8" x2="1230" y2="902.8" stroke="#1a1a1a" stroke-width="1.1"/>
<text x="1223.2" y="911" font-size="23.3" text-anchor="end">0.5</text>
<line x1="1226.8" y1="795.1" x2="1230" y2="795.1" stroke="#1a1a1a" stroke-width="1.1"/>
<text x="1223.2" y="803.3" font-size="23.3" text-anchor="end">1.0</text>
<line x1="1226.8" y1="687.4" x2="1230" y2="687.4" stroke="#1a1a1a" stroke-width="1.1"/>
<text x="1223.2" y="695.6" font-size="23.3" text-anchor="end">1.5</text>
<line x1="1266.9" y1="1030" x2="1266.9" y2="1033.4" stroke="#1a1a1a" stroke-width="1.1"/>
<text x="1266.9" y="1051.6" font-size="23.3" text-anchor="middle">20</text>
<line x1="1316.8" y1="1030" x2="1316.8" y2="1033.4" stroke="#1a1a1a" stroke-width="1.1"/>
<text x="1316.8" y="1051.6" font-size="23.3" text-anchor="middle">25</text>
<line x1="1366.7" y1="1030" x2="1366.7" y2="1033.4" stroke="#1a1a1a" stroke-width="1.1"/>
<text x="1366.7" y="1051.6" font-size="23.3" text-anchor="middle">30</text>
<line x1="1416.6" y1="1030" x2="1416.6" y2="1033.4" stroke="#1a1a1a" stroke-width="1.1"/>
<text x="1416.6" y="1051.6" font-size="23.3" text-anchor="middle">35</text>
<line x1="1466.5" y1="1030" x2="1466.5" y2="1033.4" stroke="#1a1a1a" stroke-width="1.1"/>
<text x="1466.5" y="1051.6" font-size="23.3" text-anchor="middle">40</text>
<line x1="1516.4" y1="1030" x2="1516.4" y2="1033.4" stroke="#1a1a1a" stroke-width="1.1"/>
<text x="1516.4" y="1051.6" font-size="23.3" text-anchor="middle">45</text>
<text x="1376.6" y="1074.6" font-size="23.5" text-anchor="middle">length</text>
<text x="1180.9" y="816.5" font-size="23.6" text-anchor="middle" transform="rotate(-90 1180.9 816.5)">RPM</text>
<text x="1184.2" y="620.8" font-size="16.8">X10</text>
<text x="1216.7" y="608.9" font-size="17">5</text>
<rect x="1257.2" y="626.8" width="15" height="15" fill="#F8766D"/>
<text x="1275.4" y="640" font-size="18.9">piRNA</text>
<rect x="1257.2" y="645.3" width="15" height="15" fill="#7CAE00"/>
<text x="1275.4" y="658.5" font-size="18.9">miRNA</text>
<rect x="1257.2" y="663.8" width="15" height="15" fill="#00BFC4"/>
<text x="1275.4" y="677" font-size="18.9">tsRNA</text>
<rect x="1257.2" y="682.3" width="15" height="15" fill="#C77CFF"/>
<text x="1275.4" y="695.5" font-size="18.9">rsRNA</text>
<rect x="1242.47" y="1005.8" width="8.9" height="4.7" fill="#C77CFF"/>
<rect x="1242.47" y="1005.5" width="8.9" height="0.3" fill="#00BFC4"/>
<rect x="1242.47" y="1005.2" width="8.9" height="0.3" fill="#7CAE00"/>
<rect x="1242.47" y="1005" width="8.9" height="0.2" fill="#F8766D"/>
<rect x="1252.46" y="1007.6" width="8.9" height="2.9" fill="#C77CFF"/>
<rect x="1252.46" y="1006.6" width="8.9" height="1" fill="#00BFC4"/>
<rect x="1252.46" y="1005.8" width="8.9" height="0.8" fill="#7CAE00"/>
<rect x="1252.46" y="1005.3" width="8.9" height="0.5" fill="#F8766D"/>
<rect x="1262.45" y="1000.7" width="8.9" height="9.8" fill="#C77CFF"/>
<rect x="1262.45" y="999.7" width="8.9" height="1" fill="#7CAE00"/>
<rect x="1262.45" y="998.4" width="8.9" height="1.3" fill="#F8766D"/>
<rect x="1272.44" y="1007.9" width="8.9" height="2.6" fill="#C77CFF"/>
<rect x="1272.44" y="1007.4" width="8.9" height="0.5" fill="#00BFC4"/>
<rect x="1272.44" y="1005.2" width="8.9" height="2.2" fill="#7CAE00"/>
<rect x="1272.44" y="1004.4" width="8.9" height="0.8" fill="#F8766D"/>
<rect x="1282.43" y="1007.9" width="8.9" height="2.6" fill="#C77CFF"/>
<rect x="1282.43" y="993.6" width="8.9" height="14.3" fill="#7CAE00"/>
<rect x="1282.43" y="992" width="8.9" height="1.6" fill="#F8766D"/>
<rect x="1292.42" y="1007.9" width="8.9" height="2.6" fill="#C77CFF"/>
<rect x="1292.42" y="1005.9" width="8.9" height="2" fill="#00BFC4"/>
<rect x="1292.42" y="1001.6" width="8.9" height="4.3" fill="#7CAE00"/>
<rect x="1292.42" y="1000.1" width="8.9" height="1.5" fill="#F8766D"/>
<rect x="1302.41" y="1008.2" width="8.9" height="2.3" fill="#C77CFF"/>
<rect x="1302.41" y="1005.3" width="8.9" height="2.9" fill="#00BFC4"/>
<rect x="1302.41" y="1004.3" width="8.9" height="1" fill="#7CAE00"/>
<rect x="1302.41" y="1002.7" width="8.9" height="1.6" fill="#F8766D"/>
<rect x="1312.4" y="1005.9" width="8.9" height="4.6" fill="#C77CFF"/>
<rect x="1312.4" y="1003.7" width="8.9" height="2.2" fill="#00BFC4"/>
<rect x="1312.4" y="1003.2" width="8.9" height="0.5" fill="#7CAE00"/>
<rect x="1312.4" y="1001.4" width="8.9" height="1.8" fill="#F8766D"/>
<rect x="1322.39" y="1005.9" width="8.9" height="4.6" fill="#C77CFF"/>
<rect x="1322.39" y="1002" width="8.9" height="3.9" fill="#00BFC4"/>
<rect x="1322.39" y="999.8" width="8.9" height="2.2" fill="#F8766D"/>
<rect x="1332.38" y="1004.6" width="8.9" height="5.9" fill="#C77CFF"/>
<rect x="1332.38" y="997.4" width="8.9" height="7.2" fill="#00BFC4"/>
<rect x="1332.38" y="994.6" width="8.9" height="2.8" fill="#F8766D"/>
<rect x="1342.37" y="1004" width="8.9" height="6.5" fill="#C77CFF"/>
<rect x="1342.37" y="991.6" width="8.9" height="12.4" fill="#00BFC4"/>
<rect x="1342.37" y="988" width="8.9" height="3.6" fill="#F8766D"/>
<rect x="1352.36" y="1006.9" width="8.9" height="3.6" fill="#C77CFF"/>
<rect x="1352.36" y="977.4" width="8.9" height="29.5" fill="#00BFC4"/>
<rect x="1352.36" y="971.5" width="8.9" height="5.9" fill="#F8766D"/>
<rect x="1362.35" y="1004" width="8.9" height="6.5" fill="#C77CFF"/>
<rect x="1362.35" y="828.9" width="8.9" height="175.1" fill="#00BFC4"/>
<rect x="1362.35" y="821.9" width="8.9" height="7" fill="#F8766D"/>
<rect x="1372.34" y="996.2" width="8.9" height="14.3" fill="#C77CFF"/>
<rect x="1372.34" y="640.5" width="8.9" height="355.7" fill="#00BFC4"/>
<rect x="1372.34" y="637.1" width="8.9" height="3.4" fill="#F8766D"/>
<rect x="1382.33" y="1004.2" width="8.9" height="6.3" fill="#C77CFF"/>
<rect x="1382.33" y="902" width="8.9" height="102.2" fill="#00BFC4"/>
<rect x="1392.32" y="1005.5" width="8.9" height="5" fill="#C77CFF"/>
<rect x="1392.32" y="910.5" width="8.9" height="95" fill="#00BFC4"/>
<rect x="1402.31" y="991.2" width="8.9" height="19.3" fill="#C77CFF"/>
<rect x="1402.31" y="928" width="8.9" height="63.2" fill="#00BFC4"/>
<rect x="1412.3" y="981.7" width="8.9" height="28.8" fill="#C77CFF"/>
<rect x="1412.3" y="950.8" width="8.9" height="30.9" fill="#00BFC4"/>
<rect x="1422.29" y="977.8" width="8.9" height="32.7" fill="#C77CFF"/>
<rect x="1422.29" y="957.7" width="8.9" height="20.1" fill="#00BFC4"/>
<rect x="1432.28" y="988.9" width="8.9" height="21.6" fill="#C77CFF"/>
<rect x="1442.27" y="1006.5" width="8.9" height="4" fill="#C77CFF"/>
<rect x="1452.26" y="1006.5" width="8.9" height="4" fill="#C77CFF"/>
<rect x="1462.25" y="1005.9" width="8.9" height="4.6" fill="#C77CFF"/>
<rect x="1472.24" y="1008.7" width="8.9" height="1.8" fill="#C77CFF"/>
<rect x="1482.23" y="1009.1" width="8.9" height="1.4" fill="#C77CFF"/>
<rect x="1492.22" y="1010" width="8.9" height="0.5" fill="#C77CFF"/>
<rect x="1502.21" y="1010.2" width="8.9" height="0.3" fill="#C77CFF"/>
<line x1="1229.8" y1="1061.3" x2="1229.8" y2="1087.6" stroke="#4a4a4a" stroke-width="1.1" stroke-dasharray="12.4 2.2"/>
<line x1="1524" y1="1061.3" x2="1524" y2="1087.6" stroke="#4a4a4a" stroke-width="1.1" stroke-dasharray="12.4 2.2"/>
<rect x="1229.5" y="1087.7" width="69.6" height="25" fill="#D9D9D9"/>
<text x="1264.3" y="1106.3" font-size="19" text-anchor="middle" fill="#1a1a1a">piRNA</text>
<rect x="1229.8" y="1112.6" width="69" height="173" fill="none" stroke="#4d4d4d" stroke-width="0.9"/>
<line x1="1229.1" y1="1285.4" x2="1299.5" y2="1285.4" stroke="#1a1a1a" stroke-width="1.5"/>
<line x1="1238.1" y1="1285.4" x2="1238.1" y2="1288" stroke="#1a1a1a" stroke-width="0.9"/>
<text x="1238.1" y="1300" font-size="14.8" text-anchor="middle" fill="#1a1a1a">20</text>
<line x1="1249.95" y1="1285.4" x2="1249.95" y2="1288" stroke="#1a1a1a" stroke-width="0.9"/>
<line x1="1261.8" y1="1285.4" x2="1261.8" y2="1288" stroke="#1a1a1a" stroke-width="0.9"/>
<text x="1261.8" y="1300" font-size="14.8" text-anchor="middle" fill="#1a1a1a">30</text>
<line x1="1273.65" y1="1285.4" x2="1273.65" y2="1288" stroke="#1a1a1a" stroke-width="0.9"/>
<line x1="1285.5" y1="1285.4" x2="1285.5" y2="1288" stroke="#1a1a1a" stroke-width="0.9"/>
<text x="1285.5" y="1300" font-size="14.8" text-anchor="middle" fill="#1a1a1a">40</text>
<line x1="1297.35" y1="1285.4" x2="1297.35" y2="1288" stroke="#1a1a1a" stroke-width="0.9"/>
<line x1="1232.5" y1="1277.6" x2="1296.1" y2="1277.6" stroke="#e3e3e3" stroke-width="0.5"/>
<rect x="1234.66" y="1277.5" width="2.14" height="0.2" fill="#595959"/>
<rect x="1237.03" y="1277.17" width="2.14" height="0.53" fill="#595959"/>
<rect x="1239.4" y="1277.38" width="2.14" height="0.32" fill="#595959"/>
<rect x="1241.77" y="1277.05" width="2.14" height="0.65" fill="#595959"/>
<rect x="1244.14" y="1277.09" width="2.14" height="0.61" fill="#595959"/>
<rect x="1246.51" y="1277.05" width="2.14" height="0.65" fill="#595959"/>
<rect x="1248.88" y="1276.97" width="2.14" height="0.73" fill="#595959"/>
<rect x="1251.25" y="1276.81" width="2.14" height="0.89" fill="#595959"/>
<rect x="1253.62" y="1276.56" width="2.14" height="1.14" fill="#595959"/>
<rect x="1255.99" y="1276.24" width="2.14" height="1.46" fill="#595959"/>
<rect x="1258.36" y="1275.3" width="2.14" height="2.4" fill="#595959"/>
<rect x="1260.73" y="1274.86" width="2.14" height="2.84" fill="#595959"/>
<rect x="1263.1" y="1276.32" width="2.14" height="1.38" fill="#595959"/>
<rect x="1304.5" y="1087.7" width="69.6" height="25" fill="#D9D9D9"/>
<text x="1339.3" y="1106.3" font-size="19" text-anchor="middle" fill="#1a1a1a">miRNA</text>
<rect x="1304.8" y="1112.6" width="69" height="173" fill="none" stroke="#4d4d4d" stroke-width="0.9"/>
<line x1="1304.1" y1="1285.4" x2="1374.5" y2="1285.4" stroke="#1a1a1a" stroke-width="1.5"/>
<line x1="1313.1" y1="1285.4" x2="1313.1" y2="1288" stroke="#1a1a1a" stroke-width="0.9"/>
<text x="1313.1" y="1300" font-size="14.8" text-anchor="middle" fill="#1a1a1a">20</text>
<line x1="1324.95" y1="1285.4" x2="1324.95" y2="1288" stroke="#1a1a1a" stroke-width="0.9"/>
<line x1="1336.8" y1="1285.4" x2="1336.8" y2="1288" stroke="#1a1a1a" stroke-width="0.9"/>
<text x="1336.8" y="1300" font-size="14.8" text-anchor="middle" fill="#1a1a1a">30</text>
<line x1="1348.65" y1="1285.4" x2="1348.65" y2="1288" stroke="#1a1a1a" stroke-width="0.9"/>
<line x1="1360.5" y1="1285.4" x2="1360.5" y2="1288" stroke="#1a1a1a" stroke-width="0.9"/>
<text x="1360.5" y="1300" font-size="14.8" text-anchor="middle" fill="#1a1a1a">40</text>
<line x1="1372.35" y1="1285.4" x2="1372.35" y2="1288" stroke="#1a1a1a" stroke-width="0.9"/>
<line x1="1307.5" y1="1277.6" x2="1371.1" y2="1277.6" stroke="#e3e3e3" stroke-width="0.5"/>
<rect x="1309.66" y="1277.38" width="2.14" height="0.32" fill="#595959"/>
<rect x="1312.03" y="1277.29" width="2.14" height="0.41" fill="#595959"/>
<rect x="1314.4" y="1276.81" width="2.14" height="0.89" fill="#595959"/>
<rect x="1316.77" y="1271.89" width="2.14" height="5.81" fill="#595959"/>
<rect x="1319.14" y="1275.95" width="2.14" height="1.75" fill="#595959"/>
<rect x="1321.51" y="1277.29" width="2.14" height="0.41" fill="#595959"/>
<rect x="1323.88" y="1277.5" width="2.14" height="0.2" fill="#595959"/>
<rect x="1379.5" y="1087.7" width="69.6" height="25" fill="#D9D9D9"/>
<text x="1414.3" y="1106.3" font-size="19" text-anchor="middle" fill="#1a1a1a">tsRNA</text>
<rect x="1379.8" y="1112.6" width="69" height="173" fill="none" stroke="#4d4d4d" stroke-width="0.9"/>
<line x1="1379.1" y1="1285.4" x2="1449.5" y2="1285.4" stroke="#1a1a1a" stroke-width="1.5"/>
<line x1="1388.1" y1="1285.4" x2="1388.1" y2="1288" stroke="#1a1a1a" stroke-width="0.9"/>
<text x="1388.1" y="1300" font-size="14.8" text-anchor="middle" fill="#1a1a1a">20</text>
<line x1="1399.95" y1="1285.4" x2="1399.95" y2="1288" stroke="#1a1a1a" stroke-width="0.9"/>
<line x1="1411.8" y1="1285.4" x2="1411.8" y2="1288" stroke="#1a1a1a" stroke-width="0.9"/>
<text x="1411.8" y="1300" font-size="14.8" text-anchor="middle" fill="#1a1a1a">30</text>
<line x1="1423.65" y1="1285.4" x2="1423.65" y2="1288" stroke="#1a1a1a" stroke-width="0.9"/>
<line x1="1435.5" y1="1285.4" x2="1435.5" y2="1288" stroke="#1a1a1a" stroke-width="0.9"/>
<text x="1435.5" y="1300" font-size="14.8" text-anchor="middle" fill="#1a1a1a">40</text>
<line x1="1447.35" y1="1285.4" x2="1447.35" y2="1288" stroke="#1a1a1a" stroke-width="0.9"/>
<line x1="1382.5" y1="1277.6" x2="1446.1" y2="1277.6" stroke="#e3e3e3" stroke-width="0.5"/>
<rect x="1384.66" y="1277.29" width="2.14" height="0.41" fill="#595959"/>
<rect x="1389.4" y="1277.5" width="2.14" height="0.2" fill="#595959"/>
<rect x="1394.14" y="1276.89" width="2.14" height="0.81" fill="#595959"/>
<rect x="1396.51" y="1276.52" width="2.14" height="1.18" fill="#595959"/>
<rect x="1398.88" y="1276.81" width="2.14" height="0.89" fill="#595959"/>
<rect x="1401.25" y="1276.12" width="2.14" height="1.58" fill="#595959"/>
<rect x="1403.62" y="1274.78" width="2.14" height="2.92" fill="#595959"/>
<rect x="1405.99" y="1272.66" width="2.14" height="5.04" fill="#595959"/>
<rect x="1408.36" y="1265.72" width="2.14" height="11.98" fill="#595959"/>
<rect x="1410.73" y="1206.57" width="2.14" height="71.13" fill="#595959"/>
<rect x="1413.1" y="1133.21" width="2.14" height="144.49" fill="#595959"/>
<rect x="1415.47" y="1236.18" width="2.14" height="41.52" fill="#595959"/>
<rect x="1417.84" y="1239.11" width="2.14" height="38.59" fill="#595959"/>
<rect x="1420.21" y="1252.03" width="2.14" height="25.67" fill="#595959"/>
<rect x="1422.58" y="1265.15" width="2.14" height="12.55" fill="#595959"/>
<rect x="1424.95" y="1269.53" width="2.14" height="8.17" fill="#595959"/>
<rect x="1454.4" y="1087.7" width="69.6" height="25" fill="#D9D9D9"/>
<text x="1489.2" y="1106.3" font-size="19" text-anchor="middle" fill="#1a1a1a">rsRNA</text>
<rect x="1454.7" y="1112.6" width="69" height="173" fill="none" stroke="#4d4d4d" stroke-width="0.9"/>
<line x1="1454" y1="1285.4" x2="1524.4" y2="1285.4" stroke="#1a1a1a" stroke-width="1.5"/>
<line x1="1463" y1="1285.4" x2="1463" y2="1288" stroke="#1a1a1a" stroke-width="0.9"/>
<text x="1463" y="1300" font-size="14.8" text-anchor="middle" fill="#1a1a1a">20</text>
<line x1="1474.85" y1="1285.4" x2="1474.85" y2="1288" stroke="#1a1a1a" stroke-width="0.9"/>
<line x1="1486.7" y1="1285.4" x2="1486.7" y2="1288" stroke="#1a1a1a" stroke-width="0.9"/>
<text x="1486.7" y="1300" font-size="14.8" text-anchor="middle" fill="#1a1a1a">30</text>
<line x1="1498.55" y1="1285.4" x2="1498.55" y2="1288" stroke="#1a1a1a" stroke-width="0.9"/>
<line x1="1510.4" y1="1285.4" x2="1510.4" y2="1288" stroke="#1a1a1a" stroke-width="0.9"/>
<text x="1510.4" y="1300" font-size="14.8" text-anchor="middle" fill="#1a1a1a">40</text>
<line x1="1522.25" y1="1285.4" x2="1522.25" y2="1288" stroke="#1a1a1a" stroke-width="0.9"/>
<line x1="1457.4" y1="1277.6" x2="1521" y2="1277.6" stroke="#e3e3e3" stroke-width="0.5"/>
<rect x="1457.19" y="1275.79" width="2.14" height="1.91" fill="#595959"/>
<rect x="1459.56" y="1276.52" width="2.14" height="1.18" fill="#595959"/>
<rect x="1461.93" y="1273.72" width="2.14" height="3.98" fill="#595959"/>
<rect x="1464.3" y="1276.64" width="2.14" height="1.06" fill="#595959"/>
<rect x="1466.67" y="1276.64" width="2.14" height="1.06" fill="#595959"/>
<rect x="1469.04" y="1276.64" width="2.14" height="1.06" fill="#595959"/>
<rect x="1471.41" y="1276.77" width="2.14" height="0.93" fill="#595959"/>
<rect x="1473.78" y="1275.83" width="2.14" height="1.87" fill="#595959"/>
<rect x="1476.15" y="1275.83" width="2.14" height="1.87" fill="#595959"/>
<rect x="1478.52" y="1275.3" width="2.14" height="2.4" fill="#595959"/>
<rect x="1480.89" y="1275.06" width="2.14" height="2.64" fill="#595959"/>
<rect x="1483.26" y="1276.24" width="2.14" height="1.46" fill="#595959"/>
<rect x="1485.63" y="1275.06" width="2.14" height="2.64" fill="#595959"/>
<rect x="1488" y="1271.89" width="2.14" height="5.81" fill="#595959"/>
<rect x="1490.37" y="1275.14" width="2.14" height="2.56" fill="#595959"/>
<rect x="1492.74" y="1275.67" width="2.14" height="2.03" fill="#595959"/>
<rect x="1495.11" y="1269.86" width="2.14" height="7.84" fill="#595959"/>
<rect x="1497.48" y="1266" width="2.14" height="11.7" fill="#595959"/>
<rect x="1499.85" y="1264.42" width="2.14" height="13.28" fill="#595959"/>
<rect x="1502.22" y="1268.93" width="2.14" height="8.77" fill="#595959"/>
<rect x="1504.59" y="1276.08" width="2.14" height="1.62" fill="#595959"/>
<rect x="1506.96" y="1276.08" width="2.14" height="1.62" fill="#595959"/>
<rect x="1509.33" y="1275.83" width="2.14" height="1.87" fill="#595959"/>
<rect x="1511.7" y="1276.97" width="2.14" height="0.73" fill="#595959"/>
<rect x="1514.07" y="1277.13" width="2.14" height="0.57" fill="#595959"/>
<rect x="1516.44" y="1277.5" width="2.14" height="0.2" fill="#595959"/>
<line x1="1230" y1="1112" x2="1230" y2="1286.4" stroke="#1a1a1a" stroke-width="1.5"/>
<line x1="1226.8" y1="1277.7" x2="1230" y2="1277.7" stroke="#1a1a1a" stroke-width="1.1"/>
<text x="1223.2" y="1285.9" font-size="23.3" text-anchor="end">0</text>
<line x1="1226.8" y1="1233.9" x2="1230" y2="1233.9" stroke="#1a1a1a" stroke-width="1.1"/>
<text x="1223.2" y="1242.1" font-size="23.3" text-anchor="end">0.5</text>
<line x1="1226.8" y1="1190.1" x2="1230" y2="1190.1" stroke="#1a1a1a" stroke-width="1.1"/>
<text x="1223.2" y="1198.3" font-size="23.3" text-anchor="end">1.0</text>
<line x1="1226.8" y1="1146.3" x2="1230" y2="1146.3" stroke="#1a1a1a" stroke-width="1.1"/>
<text x="1223.2" y="1154.5" font-size="23.3" text-anchor="end">1.5</text>
<text x="1376.6" y="1322.8" font-size="23.5" text-anchor="middle">length</text>
<text x="1180.9" y="1198" font-size="23.6" text-anchor="middle" transform="rotate(-90 1180.9 1198)">RPM</text>
<text x="1184.2" y="1117.8" font-size="16.8">X10</text>
<text x="1216.7" y="1105.4" font-size="17">5</text>
</g>
<g>
<text transform="matrix(1 0 0 1.08 0 -109.65)" x="1" y="1370.6" font-size="28" font-weight="bold">j</text>
<text transform="matrix(1 0 0 1.07 0 -96.68)" x="192.3" y="1381.2" font-size="22.5" font-weight="bold" text-anchor="middle">Dnmt2<tspan font-size="13.5" dy="-7">+/+</tspan><tspan dy="7"> ND Sperm</tspan></text>
<text x="64.28" y="1411.01" font-size="13.3" fill="#1a1a1a">rsRNA distribution on <tspan fill="#E76BF3">5s rRNA</tspan></text>
<polygon points="78.62,1500.51 79.61,1456.26 87.77,1453.04 92.71,1451.81 103.84,1451.31 116.2,1450.08 128.56,1450.57 138.45,1451.81 148.34,1452.3 150.07,1446.37 153.29,1445.63 155.26,1432.03 156.99,1428.32 159.47,1429.06 161.94,1428.32 163.67,1433.27 165.15,1444.39 166.88,1454.78 170.59,1455.52 180.48,1454.28 195.32,1453.79 202.73,1452.3 207.68,1451.31 209.66,1459.23 212.62,1469.12 215.09,1486.92 220.04,1489.39 224.98,1490.38 234.87,1490.13 238.58,1491.86 242.29,1493.84 247.23,1493.34 254.65,1491.37 259.6,1491.37 264.54,1488.15 271.96,1488.15 275.67,1485.93 277.4,1475.3 281.85,1473.57 288.03,1471.59 291.74,1464.17 296.68,1459.72 303.6,1454.78 305.34,1434.5 306.57,1422.64 316.46,1422.39 321.41,1424.61 325.11,1425.85 336.24,1426.34 341.68,1427.83 343.66,1435.74 345.63,1464.17 348.11,1500.51" fill="#E76BF3" stroke="#E76BF3" stroke-width="0.3" stroke-linejoin="round"/>
<line x1="64.78" y1="1418.43" x2="64.78" y2="1505.27" stroke="#1a1a1a" stroke-width="1.6"/>
<line x1="63.98" y1="1504.47" x2="363.93" y2="1504.47" stroke="#1a1a1a" stroke-width="1.6"/>
<line x1="61.58" y1="1500.51" x2="64.78" y2="1500.51" stroke="#1a1a1a" stroke-width="1"/>
<text x="59.78" y="1506.01" font-size="15.4" text-anchor="end">0</text>
<line x1="61.58" y1="1477.27" x2="64.78" y2="1477.27" stroke="#1a1a1a" stroke-width="1"/>
<text x="59.78" y="1482.77" font-size="15.4" text-anchor="end">500</text>
<line x1="61.58" y1="1454.28" x2="64.78" y2="1454.28" stroke="#1a1a1a" stroke-width="1"/>
<text x="59.78" y="1459.78" font-size="15.4" text-anchor="end">1000</text>
<line x1="61.58" y1="1430.79" x2="64.78" y2="1430.79" stroke="#1a1a1a" stroke-width="1"/>
<text x="59.78" y="1436.29" font-size="15.4" text-anchor="end">1500</text>
<line x1="77.88" y1="1504.47" x2="77.88" y2="1507.67" stroke="#1a1a1a" stroke-width="1"/>
<text x="77.88" y="1520.67" font-size="15.4" text-anchor="middle">0</text>
<line x1="133.26" y1="1504.47" x2="133.26" y2="1507.67" stroke="#1a1a1a" stroke-width="1"/>
<text x="133.26" y="1520.67" font-size="15.4" text-anchor="middle">25</text>
<line x1="188.64" y1="1504.47" x2="188.64" y2="1507.67" stroke="#1a1a1a" stroke-width="1"/>
<text x="188.64" y="1520.67" font-size="15.4" text-anchor="middle">50</text>
<line x1="244.02" y1="1504.47" x2="244.02" y2="1507.67" stroke="#1a1a1a" stroke-width="1"/>
<text x="244.02" y="1520.67" font-size="15.4" text-anchor="middle">75</text>
<line x1="299.15" y1="1504.47" x2="299.15" y2="1507.67" stroke="#1a1a1a" stroke-width="1"/>
<text x="299.15" y="1520.67" font-size="15.4" text-anchor="middle">100</text>
<line x1="355.03" y1="1504.47" x2="355.03" y2="1507.67" stroke="#1a1a1a" stroke-width="1"/>
<text x="355.03" y="1520.67" font-size="15.4" text-anchor="middle">125</text>
<text x="19.57" y="1461.7" font-size="15" text-anchor="middle" transform="rotate(-90 19.57 1461.7)">RPM</text>
<text x="72.44" y="1558.01" font-size="13.3" fill="#1a1a1a">rsRNA distribution on <tspan fill="#00B0F6">5.8s rRNA</tspan></text>
<line x1="86.04" y1="1647.31" x2="348.6" y2="1647.31" stroke="#00B0F6" stroke-width="0.7" opacity="0.4"/>
<polygon points="86.04,1647.51 87.03,1611.17 88.51,1574.09 89.5,1571.12 98.89,1569.88 111.26,1568.89 123.62,1569.14 126.83,1569.64 128.07,1574.09 129.8,1588.92 131.53,1596.34 133.01,1621.06 134.74,1635.89 137.22,1643.31 139.69,1645.78 148.34,1646.77 168.12,1647.27 197.79,1647.27 205.2,1646.28 212.62,1645.04 222.51,1644.05 234.87,1643.81 247.23,1644.05 257.12,1644.79 262.07,1645.78 265.78,1647.02 271.96,1647.27 296.68,1647.27 321.41,1647.02 346.13,1647.27 348.6,1647.51" fill="#00B0F6" stroke="#00B0F6" stroke-width="0.4" stroke-linejoin="round"/>
<line x1="72.93" y1="1564.69" x2="72.93" y2="1652.27" stroke="#1a1a1a" stroke-width="1.6"/>
<line x1="72.13" y1="1651.47" x2="363.93" y2="1651.47" stroke="#1a1a1a" stroke-width="1.6"/>
<line x1="69.73" y1="1647.51" x2="72.93" y2="1647.51" stroke="#1a1a1a" stroke-width="1"/>
<text x="67.93" y="1653.01" font-size="15.4" text-anchor="end">0</text>
<line x1="69.73" y1="1627.24" x2="72.93" y2="1627.24" stroke="#1a1a1a" stroke-width="1"/>
<text x="67.93" y="1632.74" font-size="15.4" text-anchor="end">2500</text>
<line x1="69.73" y1="1606.97" x2="72.93" y2="1606.97" stroke="#1a1a1a" stroke-width="1"/>
<text x="67.93" y="1612.47" font-size="15.4" text-anchor="end">5000</text>
<line x1="69.73" y1="1586.45" x2="72.93" y2="1586.45" stroke="#1a1a1a" stroke-width="1"/>
<text x="67.93" y="1591.95" font-size="15.4" text-anchor="end">7500</text>
<line x1="69.73" y1="1566.17" x2="72.93" y2="1566.17" stroke="#1a1a1a" stroke-width="1"/>
<text x="67.93" y="1571.67" font-size="15.4" text-anchor="end">10000</text>
<line x1="85.79" y1="1651.47" x2="85.79" y2="1654.67" stroke="#1a1a1a" stroke-width="1"/>
<text x="85.79" y="1667.67" font-size="15.4" text-anchor="middle">0</text>
<line x1="167.63" y1="1651.47" x2="167.63" y2="1654.67" stroke="#1a1a1a" stroke-width="1"/>
<text x="167.63" y="1667.67" font-size="15.4" text-anchor="middle">50</text>
<line x1="249.71" y1="1651.47" x2="249.71" y2="1654.67" stroke="#1a1a1a" stroke-width="1"/>
<text x="249.71" y="1667.67" font-size="15.4" text-anchor="middle">100</text>
<line x1="331.29" y1="1651.47" x2="331.29" y2="1654.67" stroke="#1a1a1a" stroke-width="1"/>
<text x="331.29" y="1667.67" font-size="15.4" text-anchor="middle">150</text>
<text x="19.57" y="1608.7" font-size="15" text-anchor="middle" transform="rotate(-90 19.57 1608.7)">RPM</text>
<text x="64.28" y="1704.76" font-size="13.3" fill="#1a1a1a">rsRNA distribution on <tspan fill="#00BF7D">18s rRNA</tspan></text>
<line x1="77.88" y1="1794.06" x2="341.18" y2="1794.06" stroke="#00BF7D" stroke-width="0.7" opacity="0.4"/>
<polygon points="77.88,1794.26 78.13,1793.02 81.09,1793.02 81.34,1794.26 86.04,1794.26 87.03,1792.28 89,1790.79 90.98,1792.28 92.71,1793.76 95.19,1793.27 96.92,1791.78 97.66,1776.95 98.89,1768.3 100.13,1765.82 101.37,1769.53 101.86,1784.37 103.84,1789.31 105.82,1791.78 108.78,1794.26 117.44,1794.26 118.18,1791.78 119.17,1784.37 120.65,1780.66 122.38,1781.89 123.62,1783.13 124.11,1793.02 127.33,1794.26 133.51,1794.26 137.22,1793.02 140.43,1791.29 142.9,1793.02 144.63,1794.26 149.58,1794.26 150.07,1785.6 152.05,1784.86 153.78,1786.84 155.26,1791.78 158.23,1793.27 161.94,1793.02 165.15,1792.77 166.14,1794.26 171.83,1794.26 173.06,1791.78 174.3,1783.13 176.03,1775.71 177.51,1776.95 178.75,1783.13 180.48,1793.02 181.72,1794.26 184.93,1794.26 185.43,1788.82 188.39,1788.82 188.89,1794.26 199.02,1794.26 200.75,1790.55 202.73,1789.81 205.2,1791.78 206.44,1786.84 207.68,1785.6 209.66,1788.82 211.39,1789.81 212.62,1793.02 215.09,1794.26 217.57,1794.26 218.06,1788.07 219.54,1786.34 221.28,1788.07 222.51,1793.02 224.49,1791.78 225.48,1757.17 226.22,1722.56 227.46,1716.38 228.94,1722.56 229.93,1769.53 230.92,1791.78 233.64,1794.26 243.53,1794.26 247.23,1793.27 252.18,1793.27 254.65,1794.26 259.6,1794.26 260.34,1783.13 261.57,1781.89 263.55,1783.13 264.05,1793.02 268.25,1793.76 270.72,1791.78 273.19,1790.55 274.43,1786.84 275.91,1762.12 276.9,1741.1 277.89,1744.81 279.38,1759.64 280.61,1774.48 281.35,1774.97 281.85,1791.78 284.32,1794.26 285.06,1792.28 288.03,1792.28 288.77,1794.26 290.5,1793.27 292.97,1791.78 295.45,1790.79 297.92,1792.28 300.39,1793.02 302.86,1794.26 306.57,1794.26 307.07,1792.77 310.28,1792.77 311.02,1794.26 318.93,1794.26 323.88,1793.76 328.82,1793.27 331.29,1791.78 332.53,1762.12 333.27,1732.45 335.25,1721.32 336.24,1744.81 336.73,1774.48 338.22,1786.84 339.95,1793.51 341.18,1794.26" fill="#00BF7D" stroke="#00BF7D" stroke-width="0.4" stroke-linejoin="round"/>
<line x1="64.78" y1="1712.17" x2="64.78" y2="1798.76" stroke="#1a1a1a" stroke-width="1.6"/>
<line x1="63.98" y1="1797.96" x2="363.93" y2="1797.96" stroke="#1a1a1a" stroke-width="1.6"/>
<line x1="61.58" y1="1794.26" x2="64.78" y2="1794.26" stroke="#1a1a1a" stroke-width="1"/>
<text x="59.78" y="1799.76" font-size="15.4" text-anchor="end">0</text>
<line x1="61.58" y1="1768.79" x2="64.78" y2="1768.79" stroke="#1a1a1a" stroke-width="1"/>
<text x="59.78" y="1774.29" font-size="15.4" text-anchor="end">400</text>
<line x1="61.58" y1="1743.57" x2="64.78" y2="1743.57" stroke="#1a1a1a" stroke-width="1"/>
<text x="59.78" y="1749.07" font-size="15.4" text-anchor="end">800</text>
<line x1="61.58" y1="1718.11" x2="64.78" y2="1718.11" stroke="#1a1a1a" stroke-width="1"/>
<text x="59.78" y="1723.61" font-size="15.4" text-anchor="end">1200</text>
<line x1="77.88" y1="1797.96" x2="77.88" y2="1801.16" stroke="#1a1a1a" stroke-width="1"/>
<text x="77.88" y="1814.16" font-size="15.4" text-anchor="middle">0</text>
<line x1="149.08" y1="1797.96" x2="149.08" y2="1801.16" stroke="#1a1a1a" stroke-width="1"/>
<text x="149.08" y="1814.16" font-size="15.4" text-anchor="middle">500</text>
<line x1="220.78" y1="1797.96" x2="220.78" y2="1801.16" stroke="#1a1a1a" stroke-width="1"/>
<text x="220.78" y="1814.16" font-size="15.4" text-anchor="middle">1000</text>
<line x1="292.23" y1="1797.96" x2="292.23" y2="1801.16" stroke="#1a1a1a" stroke-width="1"/>
<text x="292.23" y="1814.16" font-size="15.4" text-anchor="middle">1500</text>
<text x="19.57" y="1755.44" font-size="15" text-anchor="middle" transform="rotate(-90 19.57 1755.44)">RPM</text>
<text x="72.44" y="1851.17" font-size="13.3" fill="#1a1a1a">rsRNA distribution on <tspan fill="#A3A500">28s rRNA</tspan></text>
<line x1="85.3" y1="1940.97" x2="347.86" y2="1940.97" stroke="#A3A500" stroke-width="0.7" opacity="0.22"/>
<polygon points="85.3,1941.17 86.04,1862.79 86.78,1878.86 87.52,1938.2 88.51,1941.17" fill="#A3A500" stroke="#A3A500" stroke-width="0.3" stroke-linejoin="round"/>
<polygon points="97.66,1941.17 98.89,1940.18 100.13,1941.17" fill="#A3A500" opacity="0.8"/>
<polygon points="106.31,1941.17 107.55,1940.43 108.78,1941.17" fill="#A3A500" opacity="0.8"/>
<polygon points="182.95,1941.17 184.19,1938.2 185.43,1941.17" fill="#A3A500" opacity="0.8"/>
<polygon points="231.16,1941.17 232.4,1939.44 233.64,1941.17" fill="#A3A500" opacity="0.8"/>
<polygon points="311.52,1941.17 312.75,1939.68 313.99,1941.17" fill="#A3A500" opacity="0.8"/>
<polygon points="323.88,1941.17 325.11,1940.18 326.35,1941.17" fill="#A3A500" opacity="0.8"/>
<polygon points="161.94,1941.17 163.18,1940.67 164.41,1941.17" fill="#A3A500" opacity="0.8"/>
<polygon points="265.78,1941.17 267.01,1940.67 268.25,1941.17" fill="#A3A500" opacity="0.8"/>
<polygon points="341.18,1941.17 342.42,1940.67 343.66,1941.17" fill="#A3A500" opacity="0.8"/>
<line x1="72.44" y1="1859.09" x2="72.44" y2="1945.18" stroke="#1a1a1a" stroke-width="1.6"/>
<line x1="71.64" y1="1944.38" x2="363.93" y2="1944.38" stroke="#1a1a1a" stroke-width="1.6"/>
<line x1="69.24" y1="1941.17" x2="72.44" y2="1941.17" stroke="#1a1a1a" stroke-width="1"/>
<text x="67.44" y="1946.67" font-size="15.4" text-anchor="end">0</text>
<line x1="69.24" y1="1921.39" x2="72.44" y2="1921.39" stroke="#1a1a1a" stroke-width="1"/>
<text x="67.44" y="1926.89" font-size="15.4" text-anchor="end">10000</text>
<line x1="69.24" y1="1901.61" x2="72.44" y2="1901.61" stroke="#1a1a1a" stroke-width="1"/>
<text x="67.44" y="1907.11" font-size="15.4" text-anchor="end">20000</text>
<line x1="69.24" y1="1882.08" x2="72.44" y2="1882.08" stroke="#1a1a1a" stroke-width="1"/>
<text x="67.44" y="1887.58" font-size="15.4" text-anchor="end">30000</text>
<line x1="69.24" y1="1862.3" x2="72.44" y2="1862.3" stroke="#1a1a1a" stroke-width="1"/>
<text x="67.44" y="1867.8" font-size="15.4" text-anchor="end">40000</text>
<line x1="85.79" y1="1944.38" x2="85.79" y2="1947.58" stroke="#1a1a1a" stroke-width="1"/>
<text x="85.79" y="1960.58" font-size="15.4" text-anchor="middle">0</text>
<line x1="140.92" y1="1944.38" x2="140.92" y2="1947.58" stroke="#1a1a1a" stroke-width="1"/>
<text x="140.92" y="1960.58" font-size="15.4" text-anchor="middle">1000</text>
<line x1="196.06" y1="1944.38" x2="196.06" y2="1947.58" stroke="#1a1a1a" stroke-width="1"/>
<text x="196.06" y="1960.58" font-size="15.4" text-anchor="middle">2000</text>
<line x1="251.19" y1="1944.38" x2="251.19" y2="1947.58" stroke="#1a1a1a" stroke-width="1"/>
<text x="251.19" y="1960.58" font-size="15.4" text-anchor="middle">3000</text>
<line x1="306.57" y1="1944.38" x2="306.57" y2="1947.58" stroke="#1a1a1a" stroke-width="1"/>
<text x="306.57" y="1960.58" font-size="15.4" text-anchor="middle">4000</text>
<line x1="361.46" y1="1944.38" x2="361.46" y2="1947.58" stroke="#1a1a1a" stroke-width="1"/>
<text x="361.46" y="1960.58" font-size="15.4" text-anchor="middle">5000</text>
<text x="19.57" y="1901.61" font-size="15" text-anchor="middle" transform="rotate(-90 19.57 1901.61)">RPM</text>
</g>
<g>
<text transform="matrix(1 0 0 1.08 0 -109.65)" x="387" y="1370.6" font-size="28" font-weight="bold">k</text>
<text transform="matrix(1 0 0 1.07 0 -96.68)" x="573.6" y="1381.2" font-size="22.85" font-weight="bold" text-anchor="middle">Dnmt2<tspan font-size="13.71" dy="-7">+/+</tspan><tspan dy="7"> HFD Sperm</tspan></text>
<text x="447.5" y="1411.01" font-size="13.3" fill="#1a1a1a">rsRNA distribution on <tspan fill="#E76BF3">5s rRNA</tspan></text>
<polygon points="461.59,1500.51 463.07,1464.17 465.3,1462.93 471.48,1461.2 478.89,1460.96 488.78,1459.72 501.15,1458.73 513.51,1459.47 523.4,1461.2 530.81,1463.18 534.52,1464.17 536.99,1466.64 540.7,1468.13 544.41,1469.61 546.88,1474.06 548.61,1482.71 550.1,1484.69 554.3,1486.42 558.01,1487.16 567.9,1486.92 577.79,1485.93 583.97,1483.95 588.91,1482.22 592.13,1481.72 595.59,1483.95 598.06,1488.4 602.51,1489.88 612.4,1490.38 618.58,1490.13 627.23,1490.87 634.65,1489.88 640.83,1487.91 642.56,1481.48 645.78,1466.64 648.25,1454.78 649.98,1451.31 654.43,1450.33 658.14,1447.36 660.61,1435 664.32,1434.01 671.24,1433.51 674.21,1430.79 679.15,1427.83 686.57,1425.11 690.28,1422.64 698.93,1422.64 706.35,1424.61 713.77,1425.85 721.18,1427.33 724.89,1428.57 726.62,1439.45 728.11,1469.12 729.1,1491.37 731.07,1498.78 731.57,1500.51" fill="#E76BF3" stroke="#E76BF3" stroke-width="0.3" stroke-linejoin="round"/>
<line x1="447.99" y1="1418.43" x2="447.99" y2="1505.27" stroke="#1a1a1a" stroke-width="1.6"/>
<line x1="447.19" y1="1504.47" x2="747.14" y2="1504.47" stroke="#1a1a1a" stroke-width="1.6"/>
<line x1="444.79" y1="1500.51" x2="447.99" y2="1500.51" stroke="#1a1a1a" stroke-width="1"/>
<text x="442.99" y="1506.01" font-size="15.4" text-anchor="end">0</text>
<line x1="444.79" y1="1483.21" x2="447.99" y2="1483.21" stroke="#1a1a1a" stroke-width="1"/>
<text x="442.99" y="1488.71" font-size="15.4" text-anchor="end">500</text>
<line x1="444.79" y1="1465.9" x2="447.99" y2="1465.9" stroke="#1a1a1a" stroke-width="1"/>
<text x="442.99" y="1471.4" font-size="15.4" text-anchor="end">1000</text>
<line x1="444.79" y1="1448.59" x2="447.99" y2="1448.59" stroke="#1a1a1a" stroke-width="1"/>
<text x="442.99" y="1454.09" font-size="15.4" text-anchor="end">1500</text>
<line x1="444.79" y1="1431.29" x2="447.99" y2="1431.29" stroke="#1a1a1a" stroke-width="1"/>
<text x="442.99" y="1436.79" font-size="15.4" text-anchor="end">2000</text>
<line x1="461.09" y1="1504.47" x2="461.09" y2="1507.67" stroke="#1a1a1a" stroke-width="1"/>
<text x="461.09" y="1520.67" font-size="15.4" text-anchor="middle">0</text>
<line x1="516.47" y1="1504.47" x2="516.47" y2="1507.67" stroke="#1a1a1a" stroke-width="1"/>
<text x="516.47" y="1520.67" font-size="15.4" text-anchor="middle">25</text>
<line x1="571.61" y1="1504.47" x2="571.61" y2="1507.67" stroke="#1a1a1a" stroke-width="1"/>
<text x="571.61" y="1520.67" font-size="15.4" text-anchor="middle">50</text>
<line x1="627.23" y1="1504.47" x2="627.23" y2="1507.67" stroke="#1a1a1a" stroke-width="1"/>
<text x="627.23" y="1520.67" font-size="15.4" text-anchor="middle">75</text>
<line x1="682.37" y1="1504.47" x2="682.37" y2="1507.67" stroke="#1a1a1a" stroke-width="1"/>
<text x="682.37" y="1520.67" font-size="15.4" text-anchor="middle">100</text>
<line x1="738" y1="1504.47" x2="738" y2="1507.67" stroke="#1a1a1a" stroke-width="1"/>
<text x="738" y="1520.67" font-size="15.4" text-anchor="middle">125</text>
<text x="402.79" y="1461.7" font-size="15" text-anchor="middle" transform="rotate(-90 402.79 1461.7)">RPM</text>
<text x="455.41" y="1558.01" font-size="13.3" fill="#1a1a1a">rsRNA distribution on <tspan fill="#00B0F6">5.8s rRNA</tspan></text>
<line x1="469.5" y1="1647.31" x2="728.6" y2="1647.31" stroke="#00B0F6" stroke-width="0.7" opacity="0.4"/>
<polygon points="469.5,1647.51 470.24,1623.53 471.97,1579.03 473.45,1574.09 477.66,1572.35 486.31,1571.37 488.78,1569.64 496.2,1568.89 503.62,1569.39 508.56,1570.87 511.03,1573.59 512.27,1582.74 514.74,1592.63 517.22,1613.64 520.43,1621.06 523.4,1632.19 526.36,1636.64 530.32,1637.87 534.52,1641.33 538.23,1645.29 543.18,1646.77 553.06,1647.27 577.79,1647.27 592.62,1646.53 602.51,1645.78 608.69,1644.79 610.42,1642.82 617.35,1642.32 627.23,1642.07 637.12,1642.57 645.78,1643.31 651.96,1644.3 664.32,1645.04 672.97,1645.54 675.45,1647.27 689.04,1646.77 701.41,1646.28 713.77,1646.28 723.66,1646.77 728.6,1647.51" fill="#00B0F6" stroke="#00B0F6" stroke-width="0.4" stroke-linejoin="round"/>
<line x1="456.15" y1="1564.69" x2="456.15" y2="1652.27" stroke="#1a1a1a" stroke-width="1.6"/>
<line x1="455.35" y1="1651.47" x2="747.14" y2="1651.47" stroke="#1a1a1a" stroke-width="1.6"/>
<line x1="452.95" y1="1647.51" x2="456.15" y2="1647.51" stroke="#1a1a1a" stroke-width="1"/>
<text x="451.15" y="1653.01" font-size="15.4" text-anchor="end">0</text>
<line x1="452.95" y1="1627.49" x2="456.15" y2="1627.49" stroke="#1a1a1a" stroke-width="1"/>
<text x="451.15" y="1632.99" font-size="15.4" text-anchor="end">2500</text>
<line x1="452.95" y1="1607.21" x2="456.15" y2="1607.21" stroke="#1a1a1a" stroke-width="1"/>
<text x="451.15" y="1612.71" font-size="15.4" text-anchor="end">5000</text>
<line x1="452.95" y1="1586.94" x2="456.15" y2="1586.94" stroke="#1a1a1a" stroke-width="1"/>
<text x="451.15" y="1592.44" font-size="15.4" text-anchor="end">7500</text>
<line x1="452.95" y1="1566.67" x2="456.15" y2="1566.67" stroke="#1a1a1a" stroke-width="1"/>
<text x="451.15" y="1572.17" font-size="15.4" text-anchor="end">10000</text>
<line x1="469" y1="1651.47" x2="469" y2="1654.67" stroke="#1a1a1a" stroke-width="1"/>
<text x="469" y="1667.67" font-size="15.4" text-anchor="middle">0</text>
<line x1="550.59" y1="1651.47" x2="550.59" y2="1654.67" stroke="#1a1a1a" stroke-width="1"/>
<text x="550.59" y="1667.67" font-size="15.4" text-anchor="middle">50</text>
<line x1="632.18" y1="1651.47" x2="632.18" y2="1654.67" stroke="#1a1a1a" stroke-width="1"/>
<text x="632.18" y="1667.67" font-size="15.4" text-anchor="middle">100</text>
<line x1="713.77" y1="1651.47" x2="713.77" y2="1654.67" stroke="#1a1a1a" stroke-width="1"/>
<text x="713.77" y="1667.67" font-size="15.4" text-anchor="middle">150</text>
<text x="402.79" y="1608.7" font-size="15" text-anchor="middle" transform="rotate(-90 402.79 1608.7)">RPM</text>
<text x="447.5" y="1704.76" font-size="13.3" fill="#1a1a1a">rsRNA distribution on <tspan fill="#00BF7D">18s rRNA</tspan></text>
<line x1="461.09" y1="1794.06" x2="726.62" y2="1794.06" stroke="#00BF7D" stroke-width="0.7" opacity="0.4"/>
<polygon points="461.09,1794.26 461.34,1782.39 463.57,1781.89 464.06,1786.84 466.04,1787.33 467.03,1794.26 469,1793.76 470.98,1791.29 472.71,1789.81 474.44,1791.78 476.42,1793.27 478.4,1789.81 480.13,1788.07 481.37,1781.89 483.34,1777.44 485.07,1780.66 486.31,1783.87 488.29,1786.84 490.02,1791.78 492.49,1794.26 499.91,1794.26 501.64,1789.81 502.88,1784.86 504.85,1784.37 506.58,1786.84 507.57,1793.02 511.03,1794.26 517.22,1794.26 520.43,1791.78 522.9,1790.3 525.37,1791.78 527.1,1794.26 532.05,1794.26 533.29,1783.87 535.26,1781.89 537.24,1784.37 538.72,1789.81 540.7,1791.29 542.68,1790.79 544.41,1793.27 546.14,1791.78 548.12,1791.29 550.1,1793.02 551.83,1794.26 555.04,1794.26 556.77,1786.84 558.5,1779.92 559.99,1778.93 561.72,1784.37 562.95,1793.02 564.93,1794.26 567.9,1794.26 568.39,1781.15 571.61,1781.15 572.1,1793.02 575.32,1792.28 577.79,1793.27 579.02,1794.26 582.24,1794.26 583.97,1787.33 586.44,1784.86 588.17,1785.36 589.66,1779.42 590.64,1774.97 592.13,1780.66 593.12,1786.84 594.6,1789.31 596.33,1793.76 599.54,1793.27 601.28,1789.81 603.01,1788.32 604.98,1791.78 606.96,1793.02 607.95,1757.17 608.94,1732.45 610.42,1727.01 611.91,1732.45 612.9,1757.17 613.88,1791.78 616.11,1793.76 618.58,1792.77 622.29,1793.51 627.23,1793.27 629.71,1791.29 632.18,1790.79 634.65,1792.28 637.12,1793.76 640.83,1794.26 642.56,1786.84 644.54,1784.86 646.52,1786.84 647.51,1790.55 649.49,1788.07 651.46,1786.84 653.19,1789.31 654.93,1787.83 656.9,1788.07 658.14,1776.95 659.38,1764.59 660.36,1761.62 661.85,1769.53 663.33,1780.66 664.32,1781.89 664.81,1793.02 667.29,1793.76 668.77,1790.79 670.5,1790.3 672.23,1793.27 674.21,1791.78 676.19,1789.31 677.92,1788.82 679.15,1786.34 680.64,1788.82 682.86,1790.79 684.59,1793.27 686.57,1794.26 689.54,1794.26 691.02,1791.78 693,1791.78 693.99,1794.26 700.17,1794.26 701.9,1791.29 704.37,1790.79 706.35,1792.77 708.82,1791.29 711.29,1790.79 713.77,1792.28 715,1781.89 716.24,1744.81 717.48,1720.09 718.46,1716.38 719.45,1727.5 720.69,1757.17 721.68,1786.84 724.15,1791.78 726.13,1793.27 726.62,1794.26" fill="#00BF7D" stroke="#00BF7D" stroke-width="0.4" stroke-linejoin="round"/>
<line x1="447.99" y1="1712.17" x2="447.99" y2="1798.76" stroke="#1a1a1a" stroke-width="1.6"/>
<line x1="447.19" y1="1797.96" x2="747.14" y2="1797.96" stroke="#1a1a1a" stroke-width="1.6"/>
<line x1="444.79" y1="1794.26" x2="447.99" y2="1794.26" stroke="#1a1a1a" stroke-width="1"/>
<text x="442.99" y="1799.76" font-size="15.4" text-anchor="end">0</text>
<line x1="444.79" y1="1769.78" x2="447.99" y2="1769.78" stroke="#1a1a1a" stroke-width="1"/>
<text x="442.99" y="1775.28" font-size="15.4" text-anchor="end">500</text>
<line x1="444.79" y1="1745.3" x2="447.99" y2="1745.3" stroke="#1a1a1a" stroke-width="1"/>
<text x="442.99" y="1750.8" font-size="15.4" text-anchor="end">1000</text>
<line x1="444.79" y1="1720.83" x2="447.99" y2="1720.83" stroke="#1a1a1a" stroke-width="1"/>
<text x="442.99" y="1726.33" font-size="15.4" text-anchor="end">1500</text>
<line x1="461.09" y1="1797.96" x2="461.09" y2="1801.16" stroke="#1a1a1a" stroke-width="1"/>
<text x="461.09" y="1814.16" font-size="15.4" text-anchor="middle">0</text>
<line x1="532.54" y1="1797.96" x2="532.54" y2="1801.16" stroke="#1a1a1a" stroke-width="1"/>
<text x="532.54" y="1814.16" font-size="15.4" text-anchor="middle">500</text>
<line x1="603.99" y1="1797.96" x2="603.99" y2="1801.16" stroke="#1a1a1a" stroke-width="1"/>
<text x="603.99" y="1814.16" font-size="15.4" text-anchor="middle">1000</text>
<line x1="675.45" y1="1797.96" x2="675.45" y2="1801.16" stroke="#1a1a1a" stroke-width="1"/>
<text x="675.45" y="1814.16" font-size="15.4" text-anchor="middle">1500</text>
<text x="402.79" y="1755.44" font-size="15" text-anchor="middle" transform="rotate(-90 402.79 1755.44)">RPM</text>
<text x="464.55" y="1851.17" font-size="13.3" fill="#1a1a1a">rsRNA distribution on <tspan fill="#A3A500">28s rRNA</tspan></text>
<line x1="476.92" y1="1940.97" x2="731.32" y2="1940.97" stroke="#A3A500" stroke-width="0.7" opacity="0.22"/>
<polygon points="476.92,1941.17 477.66,1862.79 478.89,1868.97 479.64,1940.18 480.38,1941.17" fill="#A3A500" stroke="#A3A500" stroke-width="0.3" stroke-linejoin="round"/>
<polygon points="571.61,1941.17 572.84,1938.2 574.08,1941.17" fill="#A3A500" opacity="0.8"/>
<polygon points="618.58,1941.17 619.82,1940.67 621.05,1941.17" fill="#A3A500" opacity="0.8"/>
<polygon points="651.96,1941.17 653.19,1940.67 654.43,1941.17" fill="#A3A500" opacity="0.8"/>
<polygon points="696.46,1941.17 697.7,1940.67 698.93,1941.17" fill="#A3A500" opacity="0.8"/>
<line x1="464.55" y1="1859.09" x2="464.55" y2="1945.18" stroke="#1a1a1a" stroke-width="1.6"/>
<line x1="463.75" y1="1944.38" x2="747.14" y2="1944.38" stroke="#1a1a1a" stroke-width="1.6"/>
<line x1="461.35" y1="1941.17" x2="464.55" y2="1941.17" stroke="#1a1a1a" stroke-width="1"/>
<text x="459.55" y="1946.67" font-size="15.4" text-anchor="end">0</text>
<line x1="461.35" y1="1914.71" x2="464.55" y2="1914.71" stroke="#1a1a1a" stroke-width="1"/>
<text x="459.55" y="1920.21" font-size="15.4" text-anchor="end">50000</text>
<line x1="461.35" y1="1888.26" x2="464.55" y2="1888.26" stroke="#1a1a1a" stroke-width="1"/>
<text x="459.55" y="1893.76" font-size="15.4" text-anchor="end">100000</text>
<line x1="461.35" y1="1861.56" x2="464.55" y2="1861.56" stroke="#1a1a1a" stroke-width="1"/>
<text x="459.55" y="1867.06" font-size="15.4" text-anchor="end">150000</text>
<line x1="477.66" y1="1944.38" x2="477.66" y2="1947.58" stroke="#1a1a1a" stroke-width="1"/>
<text x="477.66" y="1960.58" font-size="15.4" text-anchor="middle">0</text>
<line x1="530.81" y1="1944.38" x2="530.81" y2="1947.58" stroke="#1a1a1a" stroke-width="1"/>
<text x="530.81" y="1960.58" font-size="15.4" text-anchor="middle">1000</text>
<line x1="584.46" y1="1944.38" x2="584.46" y2="1947.58" stroke="#1a1a1a" stroke-width="1"/>
<text x="584.46" y="1960.58" font-size="15.4" text-anchor="middle">2000</text>
<line x1="637.87" y1="1944.38" x2="637.87" y2="1947.58" stroke="#1a1a1a" stroke-width="1"/>
<text x="637.87" y="1960.58" font-size="15.4" text-anchor="middle">3000</text>
<line x1="691.52" y1="1944.38" x2="691.52" y2="1947.58" stroke="#1a1a1a" stroke-width="1"/>
<text x="691.52" y="1960.58" font-size="15.4" text-anchor="middle">4000</text>
<line x1="744.92" y1="1944.38" x2="744.92" y2="1947.58" stroke="#1a1a1a" stroke-width="1"/>
<text x="744.92" y="1960.58" font-size="15.4" text-anchor="middle">5000</text>
<text x="402.79" y="1901.61" font-size="15" text-anchor="middle" transform="rotate(-90 402.79 1901.61)">RPM</text>
</g>
<g>
<text transform="matrix(1 0 0 1.08 0 -109.65)" x="772" y="1370.6" font-size="28" font-weight="bold">l</text>
<text transform="matrix(1 0 0 1.07 0 -96.68)" x="967.9" y="1381.2" font-size="22.85" font-weight="bold" text-anchor="middle">Dnmt2<tspan font-size="13.71" dy="-7">-/-</tspan><tspan dy="7"> HFD Sperm</tspan></text>
<text x="838.73" y="1411.01" font-size="13.3" fill="#1a1a1a">rsRNA distribution on <tspan fill="#E76BF3">5s rRNA</tspan></text>
<polygon points="852.82,1500.51 854.06,1471.59 856.53,1470.85 862.71,1469.12 868.89,1468.87 878.78,1467.88 891.15,1466.89 901.03,1467.38 910.92,1469.12 918.34,1470.85 924.52,1473.07 926.99,1476.04 930.7,1475.3 936.14,1476.53 939.36,1481.48 941.09,1485.19 944.3,1486.42 949.25,1486.92 957.9,1486.42 967.79,1485.19 972.73,1482.96 978.91,1481.48 983.12,1480.49 987.07,1482.96 989.54,1488.4 993.75,1489.39 1002.4,1490.13 1007.35,1489.88 1010.31,1489.39 1013.53,1490.62 1019.71,1490.87 1025.89,1489.88 1029.1,1486.92 1032.56,1485.19 1035.04,1479 1037.51,1469.12 1039.49,1460.46 1041.46,1456.75 1045.67,1455.76 1049.38,1453.04 1051.35,1443.16 1053.08,1438.21 1059.26,1437.72 1062.97,1436.97 1066.68,1433.27 1072.86,1428.82 1077.81,1425.85 1081.52,1422.64 1090.17,1422.64 1096.35,1424.61 1103.77,1425.35 1112.42,1426.84 1116.13,1428.32 1118.11,1439.45 1119.34,1471.59 1120.58,1491.37 1122.31,1498.78 1122.8,1500.51" fill="#E76BF3" stroke="#E76BF3" stroke-width="0.3" stroke-linejoin="round"/>
<line x1="838.73" y1="1418.43" x2="838.73" y2="1505.27" stroke="#1a1a1a" stroke-width="1.6"/>
<line x1="837.93" y1="1504.47" x2="1138.38" y2="1504.47" stroke="#1a1a1a" stroke-width="1.6"/>
<line x1="835.53" y1="1500.51" x2="838.73" y2="1500.51" stroke="#1a1a1a" stroke-width="1"/>
<text x="833.73" y="1506.01" font-size="15.4" text-anchor="end">0</text>
<line x1="835.53" y1="1475.54" x2="838.73" y2="1475.54" stroke="#1a1a1a" stroke-width="1"/>
<text x="833.73" y="1481.04" font-size="15.4" text-anchor="end">500</text>
<line x1="835.53" y1="1450.08" x2="838.73" y2="1450.08" stroke="#1a1a1a" stroke-width="1"/>
<text x="833.73" y="1455.58" font-size="15.4" text-anchor="end">1000</text>
<line x1="835.53" y1="1425.11" x2="838.73" y2="1425.11" stroke="#1a1a1a" stroke-width="1"/>
<text x="833.73" y="1430.61" font-size="15.4" text-anchor="end">1500</text>
<line x1="852.33" y1="1504.47" x2="852.33" y2="1507.67" stroke="#1a1a1a" stroke-width="1"/>
<text x="852.33" y="1520.67" font-size="15.4" text-anchor="middle">0</text>
<line x1="907.71" y1="1504.47" x2="907.71" y2="1507.67" stroke="#1a1a1a" stroke-width="1"/>
<text x="907.71" y="1520.67" font-size="15.4" text-anchor="middle">25</text>
<line x1="962.84" y1="1504.47" x2="962.84" y2="1507.67" stroke="#1a1a1a" stroke-width="1"/>
<text x="962.84" y="1520.67" font-size="15.4" text-anchor="middle">50</text>
<line x1="1018.47" y1="1504.47" x2="1018.47" y2="1507.67" stroke="#1a1a1a" stroke-width="1"/>
<text x="1018.47" y="1520.67" font-size="15.4" text-anchor="middle">75</text>
<line x1="1073.6" y1="1504.47" x2="1073.6" y2="1507.67" stroke="#1a1a1a" stroke-width="1"/>
<text x="1073.6" y="1520.67" font-size="15.4" text-anchor="middle">100</text>
<line x1="1128.99" y1="1504.47" x2="1128.99" y2="1507.67" stroke="#1a1a1a" stroke-width="1"/>
<text x="1128.99" y="1520.67" font-size="15.4" text-anchor="middle">125</text>
<text x="794.02" y="1461.7" font-size="15" text-anchor="middle" transform="rotate(-90 794.02 1461.7)">RPM</text>
<text x="838.73" y="1558.01" font-size="13.3" fill="#1a1a1a">rsRNA distribution on <tspan fill="#00B0F6">5.8s rRNA</tspan></text>
<line x1="852.82" y1="1647.31" x2="1119.84" y2="1647.31" stroke="#00B0F6" stroke-width="0.7" opacity="0.4"/>
<polygon points="852.82,1647.51 853.57,1623.53 855.3,1579.03 856.53,1574.09 860.24,1572.35 868.89,1571.37 871.86,1569.64 878.78,1568.89 886.2,1569.39 891.15,1570.87 894.85,1574.09 896.58,1582.74 898.56,1596.34 901.03,1618.59 904.74,1629.71 908.95,1635.4 912.16,1636.88 915.87,1637.62 920.32,1642.07 924.52,1645.78 929.47,1647.27 943.06,1647.27 967.79,1647.27 980.15,1646.28 987.57,1645.54 993.75,1644.55 996.96,1642.07 1004.87,1641.83 1014.76,1641.33 1024.65,1641.83 1032.07,1642.82 1041.96,1644.05 1051.85,1644.79 1061.74,1645.29 1065.45,1647.27 1079.04,1646.77 1091.41,1646.28 1103.77,1646.03 1114.89,1646.53 1119.84,1647.51" fill="#00B0F6" stroke="#00B0F6" stroke-width="0.4" stroke-linejoin="round"/>
<line x1="838.73" y1="1565.43" x2="838.73" y2="1652.27" stroke="#1a1a1a" stroke-width="1.6"/>
<line x1="837.93" y1="1651.47" x2="1138.38" y2="1651.47" stroke="#1a1a1a" stroke-width="1.6"/>
<line x1="835.53" y1="1647.51" x2="838.73" y2="1647.51" stroke="#1a1a1a" stroke-width="1"/>
<text x="833.73" y="1653.01" font-size="15.4" text-anchor="end">0</text>
<line x1="835.53" y1="1625.51" x2="838.73" y2="1625.51" stroke="#1a1a1a" stroke-width="1"/>
<text x="833.73" y="1631.01" font-size="15.4" text-anchor="end">2000</text>
<line x1="835.53" y1="1603.75" x2="838.73" y2="1603.75" stroke="#1a1a1a" stroke-width="1"/>
<text x="833.73" y="1609.25" font-size="15.4" text-anchor="end">4000</text>
<line x1="835.53" y1="1582" x2="838.73" y2="1582" stroke="#1a1a1a" stroke-width="1"/>
<text x="833.73" y="1587.5" font-size="15.4" text-anchor="end">6000</text>
<line x1="852.33" y1="1651.47" x2="852.33" y2="1654.67" stroke="#1a1a1a" stroke-width="1"/>
<text x="852.33" y="1667.67" font-size="15.4" text-anchor="middle">0</text>
<line x1="936.14" y1="1651.47" x2="936.14" y2="1654.67" stroke="#1a1a1a" stroke-width="1"/>
<text x="936.14" y="1667.67" font-size="15.4" text-anchor="middle">50</text>
<line x1="1020.2" y1="1651.47" x2="1020.2" y2="1654.67" stroke="#1a1a1a" stroke-width="1"/>
<text x="1020.2" y="1667.67" font-size="15.4" text-anchor="middle">100</text>
<line x1="1104.26" y1="1651.47" x2="1104.26" y2="1654.67" stroke="#1a1a1a" stroke-width="1"/>
<text x="1104.26" y="1667.67" font-size="15.4" text-anchor="middle">150</text>
<text x="794.02" y="1608.7" font-size="15" text-anchor="middle" transform="rotate(-90 794.02 1608.7)">RPM</text>
<text x="838.73" y="1704.76" font-size="13.3" fill="#1a1a1a">rsRNA distribution on <tspan fill="#00BF7D">18s rRNA</tspan></text>
<line x1="852.33" y1="1794.06" x2="1117.61" y2="1794.06" stroke="#00BF7D" stroke-width="0.7" opacity="0.4"/>
<polygon points="852.33,1794.26 852.58,1765.82 855.05,1765.82 855.54,1784.86 857.52,1785.6 858.51,1794.26 860.98,1793.27 862.71,1790.55 864.44,1789.31 866.42,1791.78 867.91,1793.27 869.39,1788.82 871.37,1787.83 872.36,1780.66 874.33,1774.48 875.82,1776.95 876.81,1779.42 878.29,1778.19 879.77,1783.87 881.26,1791.78 883.23,1794.26 891.15,1794.26 892.63,1789.31 893.62,1781.4 896.09,1780.91 898.07,1784.37 899.06,1793.02 902.27,1794.26 908.45,1794.26 911.42,1791.29 913.89,1788.82 916.36,1791.29 918.34,1794.26 923.29,1794.26 924.52,1781.89 926.25,1781.15 928.72,1782.39 930.21,1789.31 932.19,1790.79 934.16,1790.3 935.65,1793.27 937.63,1791.78 939.6,1791.29 941.58,1793.02 943.06,1794.26 946.53,1794.26 948.01,1785.6 949.99,1776.45 951.47,1774.97 952.95,1781.89 954.44,1793.02 956.42,1794.26 959.38,1794.26 959.88,1784.37 962.84,1784.37 963.34,1793.27 966.55,1792.28 969.02,1793.27 970.26,1794.26 973.23,1794.26 975.2,1787.33 977.18,1785.85 979.16,1786.84 980.64,1776.95 981.88,1771.51 983.12,1778.19 984.11,1786.84 986.08,1789.81 987.57,1793.76 990.53,1793.27 992.51,1785.6 994.49,1784.86 995.97,1791.78 997.95,1793.02 999.19,1757.17 1000.42,1722.56 1001.66,1718.35 1003.14,1727.5 1004.13,1762.12 1004.87,1791.78 1007.35,1793.51 1013.53,1793.76 1018.47,1793.27 1020.94,1790.79 1023.42,1789.81 1025.89,1790.79 1028.36,1793.27 1032.07,1794.26 1034.05,1786.84 1035.78,1784.86 1037.76,1786.84 1038.99,1791.78 1040.72,1786.34 1042.7,1785.11 1044.43,1788.82 1046.41,1789.81 1048.39,1788.07 1049.38,1774.48 1050.86,1764.09 1051.85,1763.35 1053.33,1772 1054.81,1781.4 1055.8,1782.39 1056.3,1793.02 1058.77,1793.76 1060.25,1790.79 1061.74,1790.3 1063.22,1793.27 1065.69,1791.78 1067.67,1790.3 1069.15,1787.83 1071.13,1788.82 1073.6,1791.78 1075.58,1793.76 1077.81,1794.26 1080.53,1794.26 1082.01,1791.29 1083.99,1791.29 1084.98,1794.26 1091.41,1794.26 1093.38,1790.79 1095.86,1790.3 1097.83,1792.77 1100.31,1790.79 1102.78,1790.3 1105.25,1791.78 1106.24,1781.89 1107.23,1757.17 1108.46,1727.5 1109.45,1716.38 1110.44,1727.5 1111.68,1752.23 1112.67,1786.84 1115.14,1791.78 1117.12,1793.27 1117.61,1794.26" fill="#00BF7D" stroke="#00BF7D" stroke-width="0.4" stroke-linejoin="round"/>
<line x1="838.73" y1="1712.17" x2="838.73" y2="1798.76" stroke="#1a1a1a" stroke-width="1.6"/>
<line x1="837.93" y1="1797.96" x2="1138.38" y2="1797.96" stroke="#1a1a1a" stroke-width="1.6"/>
<line x1="835.53" y1="1794.26" x2="838.73" y2="1794.26" stroke="#1a1a1a" stroke-width="1"/>
<text x="833.73" y="1799.76" font-size="15.4" text-anchor="end">0</text>
<line x1="835.53" y1="1774.72" x2="838.73" y2="1774.72" stroke="#1a1a1a" stroke-width="1"/>
<text x="833.73" y="1780.22" font-size="15.4" text-anchor="end">250</text>
<line x1="835.53" y1="1754.95" x2="838.73" y2="1754.95" stroke="#1a1a1a" stroke-width="1"/>
<text x="833.73" y="1760.45" font-size="15.4" text-anchor="end">500</text>
<line x1="835.53" y1="1735.41" x2="838.73" y2="1735.41" stroke="#1a1a1a" stroke-width="1"/>
<text x="833.73" y="1740.91" font-size="15.4" text-anchor="end">750</text>
<line x1="835.53" y1="1715.64" x2="838.73" y2="1715.64" stroke="#1a1a1a" stroke-width="1"/>
<text x="833.73" y="1721.14" font-size="15.4" text-anchor="end">1000</text>
<line x1="852.33" y1="1797.96" x2="852.33" y2="1801.16" stroke="#1a1a1a" stroke-width="1"/>
<text x="852.33" y="1814.16" font-size="15.4" text-anchor="middle">0</text>
<line x1="923.78" y1="1797.96" x2="923.78" y2="1801.16" stroke="#1a1a1a" stroke-width="1"/>
<text x="923.78" y="1814.16" font-size="15.4" text-anchor="middle">500</text>
<line x1="995.48" y1="1797.96" x2="995.48" y2="1801.16" stroke="#1a1a1a" stroke-width="1"/>
<text x="995.48" y="1814.16" font-size="15.4" text-anchor="middle">1000</text>
<line x1="1066.68" y1="1797.96" x2="1066.68" y2="1801.16" stroke="#1a1a1a" stroke-width="1"/>
<text x="1066.68" y="1814.16" font-size="15.4" text-anchor="middle">1500</text>
<text x="794.02" y="1755.44" font-size="15" text-anchor="middle" transform="rotate(-90 794.02 1755.44)">RPM</text>
<text x="847.14" y="1851.17" font-size="13.3" fill="#1a1a1a">rsRNA distribution on <tspan fill="#A3A500">28s rRNA</tspan></text>
<line x1="859.99" y1="1940.97" x2="1121.57" y2="1940.97" stroke="#A3A500" stroke-width="0.7" opacity="0.22"/>
<polygon points="859.99,1941.17 860.98,1862.79 861.97,1876.39 862.71,1940.18 863.45,1941.17" fill="#A3A500" stroke="#A3A500" stroke-width="0.3" stroke-linejoin="round"/>
<polygon points="957.9,1941.17 959.13,1937.71 960.37,1941.17" fill="#A3A500" opacity="0.8"/>
<polygon points="1117.86,1941.17 1119.1,1940.18 1120.33,1941.17" fill="#A3A500" opacity="0.8"/>
<polygon points="1006.11,1941.17 1007.35,1940.67 1008.58,1941.17" fill="#A3A500" opacity="0.8"/>
<polygon points="1040.72,1941.17 1041.96,1940.67 1043.19,1941.17" fill="#A3A500" opacity="0.8"/>
<polygon points="1085.22,1941.17 1086.46,1940.67 1087.7,1941.17" fill="#A3A500" opacity="0.8"/>
<line x1="847.14" y1="1859.09" x2="847.14" y2="1945.18" stroke="#1a1a1a" stroke-width="1.6"/>
<line x1="846.34" y1="1944.38" x2="1138.38" y2="1944.38" stroke="#1a1a1a" stroke-width="1.6"/>
<line x1="843.94" y1="1941.17" x2="847.14" y2="1941.17" stroke="#1a1a1a" stroke-width="1"/>
<text x="842.14" y="1946.67" font-size="15.4" text-anchor="end">0</text>
<line x1="843.94" y1="1921.39" x2="847.14" y2="1921.39" stroke="#1a1a1a" stroke-width="1"/>
<text x="842.14" y="1926.89" font-size="15.4" text-anchor="end">20000</text>
<line x1="843.94" y1="1901.61" x2="847.14" y2="1901.61" stroke="#1a1a1a" stroke-width="1"/>
<text x="842.14" y="1907.11" font-size="15.4" text-anchor="end">40000</text>
<line x1="843.94" y1="1881.83" x2="847.14" y2="1881.83" stroke="#1a1a1a" stroke-width="1"/>
<text x="842.14" y="1887.33" font-size="15.4" text-anchor="end">60000</text>
<line x1="843.94" y1="1862.05" x2="847.14" y2="1862.05" stroke="#1a1a1a" stroke-width="1"/>
<text x="842.14" y="1867.55" font-size="15.4" text-anchor="end">80000</text>
<line x1="860.74" y1="1944.38" x2="860.74" y2="1947.58" stroke="#1a1a1a" stroke-width="1"/>
<text x="860.74" y="1960.58" font-size="15.4" text-anchor="middle">0</text>
<line x1="915.37" y1="1944.38" x2="915.37" y2="1947.58" stroke="#1a1a1a" stroke-width="1"/>
<text x="915.37" y="1960.58" font-size="15.4" text-anchor="middle">1000</text>
<line x1="970.26" y1="1944.38" x2="970.26" y2="1947.58" stroke="#1a1a1a" stroke-width="1"/>
<text x="970.26" y="1960.58" font-size="15.4" text-anchor="middle">2000</text>
<line x1="1025.15" y1="1944.38" x2="1025.15" y2="1947.58" stroke="#1a1a1a" stroke-width="1"/>
<text x="1025.15" y="1960.58" font-size="15.4" text-anchor="middle">3000</text>
<line x1="1080.28" y1="1944.38" x2="1080.28" y2="1947.58" stroke="#1a1a1a" stroke-width="1"/>
<text x="1080.28" y="1960.58" font-size="15.4" text-anchor="middle">4000</text>
<line x1="1135.17" y1="1944.38" x2="1135.17" y2="1947.58" stroke="#1a1a1a" stroke-width="1"/>
<text x="1135.17" y="1960.58" font-size="15.4" text-anchor="middle">5000</text>
<text x="794.02" y="1901.61" font-size="15" text-anchor="middle" transform="rotate(-90 794.02 1901.61)">RPM</text>
</g>
<g>
<text transform="matrix(1 0 0 1.08 0 -109.65)" x="1154" y="1370.6" font-size="28" font-weight="bold">m</text>
<text transform="matrix(1 0 0 1.07 0 -96.68)" x="1352.1" y="1381.2" font-size="22.75" font-weight="bold" text-anchor="middle">Dnmt2<tspan font-size="13.65" dy="-7">-/-</tspan><tspan dy="7"> ND Sperm</tspan></text>
<text x="1222.52" y="1411.01" font-size="13.3" fill="#1a1a1a">rsRNA distribution on <tspan fill="#E76BF3">5s rRNA</tspan></text>
<polygon points="1236.61,1500.51 1238.09,1471.59 1241.06,1470.6 1247.24,1469.36 1255.89,1469.12 1265.78,1468.62 1275.67,1468.37 1285.56,1468.87 1292.98,1469.61 1300.4,1470.6 1304.1,1472.82 1307.81,1474.06 1311.52,1474.06 1315.23,1476.53 1319.68,1478.02 1322.15,1481.48 1323.88,1488.89 1327.59,1490.87 1335.01,1491.12 1344.9,1490.62 1354.79,1490.13 1359.73,1489.39 1367.15,1489.14 1370.12,1491.37 1373.33,1495.07 1379.51,1495.82 1389.4,1496.31 1395.58,1496.56 1400.53,1497.55 1406.71,1497.05 1410.42,1495.82 1414.12,1492.6 1417.83,1491.86 1419.56,1481.48 1422.04,1471.09 1425.25,1469.86 1428.96,1468.62 1431.43,1464.17 1433.9,1461.7 1435.88,1440.68 1440.08,1438.71 1446.26,1436.97 1449.97,1434.01 1454.92,1430.79 1461.1,1428.32 1464.81,1422.64 1473.46,1422.64 1480.88,1424.12 1490.77,1424.86 1498.18,1425.85 1500.66,1427.09 1502.14,1439.45 1503.13,1469.12 1504.36,1488.89 1506.1,1498.78 1506.59,1500.51" fill="#E76BF3" stroke="#E76BF3" stroke-width="0.3" stroke-linejoin="round"/>
<line x1="1223.01" y1="1418.43" x2="1223.01" y2="1505.27" stroke="#1a1a1a" stroke-width="1.6"/>
<line x1="1222.21" y1="1504.47" x2="1522.41" y2="1504.47" stroke="#1a1a1a" stroke-width="1.6"/>
<line x1="1219.81" y1="1500.51" x2="1223.01" y2="1500.51" stroke="#1a1a1a" stroke-width="1"/>
<text x="1218.01" y="1506.01" font-size="15.4" text-anchor="end">0</text>
<line x1="1219.81" y1="1482.47" x2="1223.01" y2="1482.47" stroke="#1a1a1a" stroke-width="1"/>
<text x="1218.01" y="1487.97" font-size="15.4" text-anchor="end">500</text>
<line x1="1219.81" y1="1464.17" x2="1223.01" y2="1464.17" stroke="#1a1a1a" stroke-width="1"/>
<text x="1218.01" y="1469.67" font-size="15.4" text-anchor="end">1000</text>
<line x1="1219.81" y1="1446.12" x2="1223.01" y2="1446.12" stroke="#1a1a1a" stroke-width="1"/>
<text x="1218.01" y="1451.62" font-size="15.4" text-anchor="end">1500</text>
<line x1="1219.81" y1="1427.83" x2="1223.01" y2="1427.83" stroke="#1a1a1a" stroke-width="1"/>
<text x="1218.01" y="1433.33" font-size="15.4" text-anchor="end">2000</text>
<line x1="1236.12" y1="1504.47" x2="1236.12" y2="1507.67" stroke="#1a1a1a" stroke-width="1"/>
<text x="1236.12" y="1520.67" font-size="15.4" text-anchor="middle">0</text>
<line x1="1291.74" y1="1504.47" x2="1291.74" y2="1507.67" stroke="#1a1a1a" stroke-width="1"/>
<text x="1291.74" y="1520.67" font-size="15.4" text-anchor="middle">25</text>
<line x1="1346.88" y1="1504.47" x2="1346.88" y2="1507.67" stroke="#1a1a1a" stroke-width="1"/>
<text x="1346.88" y="1520.67" font-size="15.4" text-anchor="middle">50</text>
<line x1="1402.5" y1="1504.47" x2="1402.5" y2="1507.67" stroke="#1a1a1a" stroke-width="1"/>
<text x="1402.5" y="1520.67" font-size="15.4" text-anchor="middle">75</text>
<line x1="1457.64" y1="1504.47" x2="1457.64" y2="1507.67" stroke="#1a1a1a" stroke-width="1"/>
<text x="1457.64" y="1520.67" font-size="15.4" text-anchor="middle">100</text>
<line x1="1513.02" y1="1504.47" x2="1513.02" y2="1507.67" stroke="#1a1a1a" stroke-width="1"/>
<text x="1513.02" y="1520.67" font-size="15.4" text-anchor="middle">125</text>
<text x="1177.56" y="1461.7" font-size="15" text-anchor="middle" transform="rotate(-90 1177.56 1461.7)">RPM</text>
<text x="1222.52" y="1558.01" font-size="13.3" fill="#1a1a1a">rsRNA distribution on <tspan fill="#00B0F6">5.8s rRNA</tspan></text>
<line x1="1236.36" y1="1647.31" x2="1504.36" y2="1647.31" stroke="#00B0F6" stroke-width="0.7" opacity="0.4"/>
<polygon points="1236.36,1647.51 1237.35,1611.17 1239.08,1574.09 1240.57,1571.61 1246,1570.38 1255.89,1569.39 1263.31,1568.89 1270.73,1569.14 1276.91,1569.88 1278.64,1572.85 1280.12,1582.74 1281.85,1598.81 1283.58,1621.06 1285.56,1633.42 1288.03,1640.84 1290.51,1644.55 1295.45,1645.78 1305.34,1646.77 1317.7,1647.27 1330.06,1647.02 1349.84,1646.77 1359.73,1646.28 1367.15,1645.04 1377.04,1643.56 1386.93,1643.06 1394.35,1642.82 1404.23,1643.31 1411.65,1643.81 1417.83,1644.79 1421.54,1646.53 1428.96,1647.27 1453.68,1647.27 1478.41,1647.02 1503.13,1647.27 1504.36,1647.51" fill="#00B0F6" stroke="#00B0F6" stroke-width="0.4" stroke-linejoin="round"/>
<line x1="1223.01" y1="1565.43" x2="1223.01" y2="1652.27" stroke="#1a1a1a" stroke-width="1.6"/>
<line x1="1222.21" y1="1651.47" x2="1522.41" y2="1651.47" stroke="#1a1a1a" stroke-width="1.6"/>
<line x1="1219.81" y1="1647.51" x2="1223.01" y2="1647.51" stroke="#1a1a1a" stroke-width="1"/>
<text x="1218.01" y="1653.01" font-size="15.4" text-anchor="end">0</text>
<line x1="1219.81" y1="1624.27" x2="1223.01" y2="1624.27" stroke="#1a1a1a" stroke-width="1"/>
<text x="1218.01" y="1629.77" font-size="15.4" text-anchor="end">2000</text>
<line x1="1219.81" y1="1601.28" x2="1223.01" y2="1601.28" stroke="#1a1a1a" stroke-width="1"/>
<text x="1218.01" y="1606.78" font-size="15.4" text-anchor="end">4000</text>
<line x1="1219.81" y1="1578.04" x2="1223.01" y2="1578.04" stroke="#1a1a1a" stroke-width="1"/>
<text x="1218.01" y="1583.54" font-size="15.4" text-anchor="end">6000</text>
<line x1="1236.12" y1="1651.47" x2="1236.12" y2="1654.67" stroke="#1a1a1a" stroke-width="1"/>
<text x="1236.12" y="1667.67" font-size="15.4" text-anchor="middle">0</text>
<line x1="1320.18" y1="1651.47" x2="1320.18" y2="1654.67" stroke="#1a1a1a" stroke-width="1"/>
<text x="1320.18" y="1667.67" font-size="15.4" text-anchor="middle">50</text>
<line x1="1404.23" y1="1651.47" x2="1404.23" y2="1654.67" stroke="#1a1a1a" stroke-width="1"/>
<text x="1404.23" y="1667.67" font-size="15.4" text-anchor="middle">100</text>
<line x1="1488.29" y1="1651.47" x2="1488.29" y2="1654.67" stroke="#1a1a1a" stroke-width="1"/>
<text x="1488.29" y="1667.67" font-size="15.4" text-anchor="middle">150</text>
<text x="1177.56" y="1608.7" font-size="15" text-anchor="middle" transform="rotate(-90 1177.56 1608.7)">RPM</text>
<text x="1222.52" y="1704.76" font-size="13.3" fill="#1a1a1a">rsRNA distribution on <tspan fill="#00BF7D">18s rRNA</tspan></text>
<line x1="1236.12" y1="1794.06" x2="1500.66" y2="1794.06" stroke="#00BF7D" stroke-width="0.7" opacity="0.4"/>
<polygon points="1236.12,1794.26 1236.36,1790.05 1238.59,1790.05 1239.33,1794.26 1244.03,1794.26 1245.51,1792.28 1247.49,1791.04 1249.47,1792.53 1250.95,1793.76 1253.42,1793.27 1254.91,1791.78 1255.89,1775.71 1257.13,1768.3 1258.37,1765.82 1259.36,1769.53 1260.34,1781.89 1262.07,1786.84 1263.81,1791.29 1266.28,1794.26 1275.18,1794.26 1276.66,1789.31 1277.65,1780.66 1279.13,1779.92 1280.62,1783.13 1281.85,1784.37 1282.6,1793.27 1285.56,1794.26 1291.74,1794.26 1295.45,1793.02 1297.92,1791.04 1300.4,1792.77 1302.37,1794.26 1307.81,1794.26 1308.55,1784.86 1310.78,1784.86 1312.76,1788.07 1314.24,1789.81 1316.71,1789.31 1318.2,1793.27 1320.67,1793.27 1323.14,1792.77 1324.63,1794.26 1330.06,1794.26 1331.55,1789.31 1333.03,1773.24 1334.51,1771.26 1336,1773.24 1337.48,1786.84 1338.96,1793.76 1342.43,1794.26 1343.42,1790.79 1345.39,1790.3 1347.37,1792.28 1349.84,1791.78 1352.32,1793.02 1354.29,1794.26 1357.75,1794.26 1359.24,1789.31 1361.22,1788.32 1363.19,1790.79 1364.68,1784.37 1366.16,1783.87 1367.64,1787.83 1369.13,1788.82 1370.61,1793.02 1373.08,1794.26 1375.56,1794.26 1376.54,1788.82 1378.03,1787.33 1379.51,1789.31 1380.99,1793.02 1382.48,1791.78 1383.47,1757.17 1384.46,1722.56 1385.69,1716.38 1386.93,1722.56 1387.92,1762.12 1388.91,1791.78 1391.38,1794.26 1401.76,1794.26 1405.47,1792.28 1407.94,1791.29 1410.42,1792.28 1412.89,1794.26 1418.08,1794.26 1419.07,1783.13 1420.55,1781.89 1422.04,1784.37 1422.78,1791.78 1426.49,1792.77 1428.96,1791.78 1431.43,1789.81 1432.91,1781.89 1434.4,1764.59 1435.39,1755.93 1436.38,1759.64 1437.86,1772 1439.34,1780.66 1440.08,1791.78 1442.56,1793.27 1443.79,1791.29 1445.77,1791.29 1446.76,1793.76 1449.23,1792.77 1451.21,1790.3 1453.19,1789.31 1455.17,1790.79 1457.64,1791.78 1460.11,1793.76 1461.59,1794.26 1464.81,1794.26 1466.04,1791.78 1468.52,1792.28 1470,1794.26 1477.17,1794.26 1479.64,1793.27 1482.86,1792.77 1483.84,1790.79 1487.06,1790.3 1489.53,1790.79 1490.77,1776.95 1492,1752.23 1492.99,1738.63 1494.23,1754.7 1495.22,1776.95 1496.21,1789.31 1498.18,1792.28 1500.16,1793.76 1500.66,1794.26" fill="#00BF7D" stroke="#00BF7D" stroke-width="0.4" stroke-linejoin="round"/>
<line x1="1222.52" y1="1712.17" x2="1222.52" y2="1798.76" stroke="#1a1a1a" stroke-width="1.6"/>
<line x1="1221.72" y1="1797.96" x2="1522.41" y2="1797.96" stroke="#1a1a1a" stroke-width="1.6"/>
<line x1="1219.32" y1="1794.26" x2="1222.52" y2="1794.26" stroke="#1a1a1a" stroke-width="1"/>
<text x="1217.52" y="1799.76" font-size="15.4" text-anchor="end">0</text>
<line x1="1219.32" y1="1774.48" x2="1222.52" y2="1774.48" stroke="#1a1a1a" stroke-width="1"/>
<text x="1217.52" y="1779.98" font-size="15.4" text-anchor="end">300</text>
<line x1="1219.32" y1="1754.2" x2="1222.52" y2="1754.2" stroke="#1a1a1a" stroke-width="1"/>
<text x="1217.52" y="1759.7" font-size="15.4" text-anchor="end">600</text>
<line x1="1219.32" y1="1734.18" x2="1222.52" y2="1734.18" stroke="#1a1a1a" stroke-width="1"/>
<text x="1217.52" y="1739.68" font-size="15.4" text-anchor="end">900</text>
<line x1="1219.32" y1="1714.4" x2="1222.52" y2="1714.4" stroke="#1a1a1a" stroke-width="1"/>
<text x="1217.52" y="1719.9" font-size="15.4" text-anchor="end">1200</text>
<line x1="1236.12" y1="1797.96" x2="1236.12" y2="1801.16" stroke="#1a1a1a" stroke-width="1"/>
<text x="1236.12" y="1814.16" font-size="15.4" text-anchor="middle">0</text>
<line x1="1307.57" y1="1797.96" x2="1307.57" y2="1801.16" stroke="#1a1a1a" stroke-width="1"/>
<text x="1307.57" y="1814.16" font-size="15.4" text-anchor="middle">500</text>
<line x1="1379.02" y1="1797.96" x2="1379.02" y2="1801.16" stroke="#1a1a1a" stroke-width="1"/>
<text x="1379.02" y="1814.16" font-size="15.4" text-anchor="middle">1000</text>
<line x1="1450.72" y1="1797.96" x2="1450.72" y2="1801.16" stroke="#1a1a1a" stroke-width="1"/>
<text x="1450.72" y="1814.16" font-size="15.4" text-anchor="middle">1500</text>
<text x="1177.56" y="1755.44" font-size="15" text-anchor="middle" transform="rotate(-90 1177.56 1755.44)">RPM</text>
<text x="1230.68" y="1851.17" font-size="13.3" fill="#1a1a1a">rsRNA distribution on <tspan fill="#A3A500">28s rRNA</tspan></text>
<line x1="1243.53" y1="1940.97" x2="1506.1" y2="1940.97" stroke="#A3A500" stroke-width="0.7" opacity="0.22"/>
<polygon points="1243.53,1941.17 1244.27,1862.79 1245.26,1871.45 1246,1940.18 1246.75,1941.17" fill="#A3A500" stroke="#A3A500" stroke-width="0.3" stroke-linejoin="round"/>
<polygon points="1341.68,1941.17 1342.92,1939.19 1344.16,1941.17" fill="#A3A500" opacity="0.8"/>
<polygon points="1297.92,1941.17 1299.16,1940.67 1300.4,1941.17" fill="#A3A500" opacity="0.8"/>
<polygon points="1389.4,1941.17 1390.64,1940.43 1391.87,1941.17" fill="#A3A500" opacity="0.8"/>
<polygon points="1469.75,1941.17 1470.99,1940.67 1472.22,1941.17" fill="#A3A500" opacity="0.8"/>
<line x1="1230.68" y1="1859.09" x2="1230.68" y2="1945.18" stroke="#1a1a1a" stroke-width="1.6"/>
<line x1="1229.88" y1="1944.38" x2="1522.41" y2="1944.38" stroke="#1a1a1a" stroke-width="1.6"/>
<line x1="1227.48" y1="1941.17" x2="1230.68" y2="1941.17" stroke="#1a1a1a" stroke-width="1"/>
<text x="1225.68" y="1946.67" font-size="15.4" text-anchor="end">0</text>
<line x1="1227.48" y1="1915.95" x2="1230.68" y2="1915.95" stroke="#1a1a1a" stroke-width="1"/>
<text x="1225.68" y="1921.45" font-size="15.4" text-anchor="end">20000</text>
<line x1="1227.48" y1="1890.73" x2="1230.68" y2="1890.73" stroke="#1a1a1a" stroke-width="1"/>
<text x="1225.68" y="1896.23" font-size="15.4" text-anchor="end">40000</text>
<line x1="1227.48" y1="1865.51" x2="1230.68" y2="1865.51" stroke="#1a1a1a" stroke-width="1"/>
<text x="1225.68" y="1871.01" font-size="15.4" text-anchor="end">60000</text>
<line x1="1244.03" y1="1944.38" x2="1244.03" y2="1947.58" stroke="#1a1a1a" stroke-width="1"/>
<text x="1244.03" y="1960.58" font-size="15.4" text-anchor="middle">0</text>
<line x1="1299.16" y1="1944.38" x2="1299.16" y2="1947.58" stroke="#1a1a1a" stroke-width="1"/>
<text x="1299.16" y="1960.58" font-size="15.4" text-anchor="middle">1000</text>
<line x1="1354.29" y1="1944.38" x2="1354.29" y2="1947.58" stroke="#1a1a1a" stroke-width="1"/>
<text x="1354.29" y="1960.58" font-size="15.4" text-anchor="middle">2000</text>
<line x1="1409.18" y1="1944.38" x2="1409.18" y2="1947.58" stroke="#1a1a1a" stroke-width="1"/>
<text x="1409.18" y="1960.58" font-size="15.4" text-anchor="middle">3000</text>
<line x1="1464.31" y1="1944.38" x2="1464.31" y2="1947.58" stroke="#1a1a1a" stroke-width="1"/>
<text x="1464.31" y="1960.58" font-size="15.4" text-anchor="middle">4000</text>
<line x1="1519.69" y1="1944.38" x2="1519.69" y2="1947.58" stroke="#1a1a1a" stroke-width="1"/>
<text x="1519.69" y="1960.58" font-size="15.4" text-anchor="middle">5000</text>
<text x="1177.56" y="1901.61" font-size="15" text-anchor="middle" transform="rotate(-90 1177.56 1901.61)">RPM</text>
</g>
</svg>
</body></html>
